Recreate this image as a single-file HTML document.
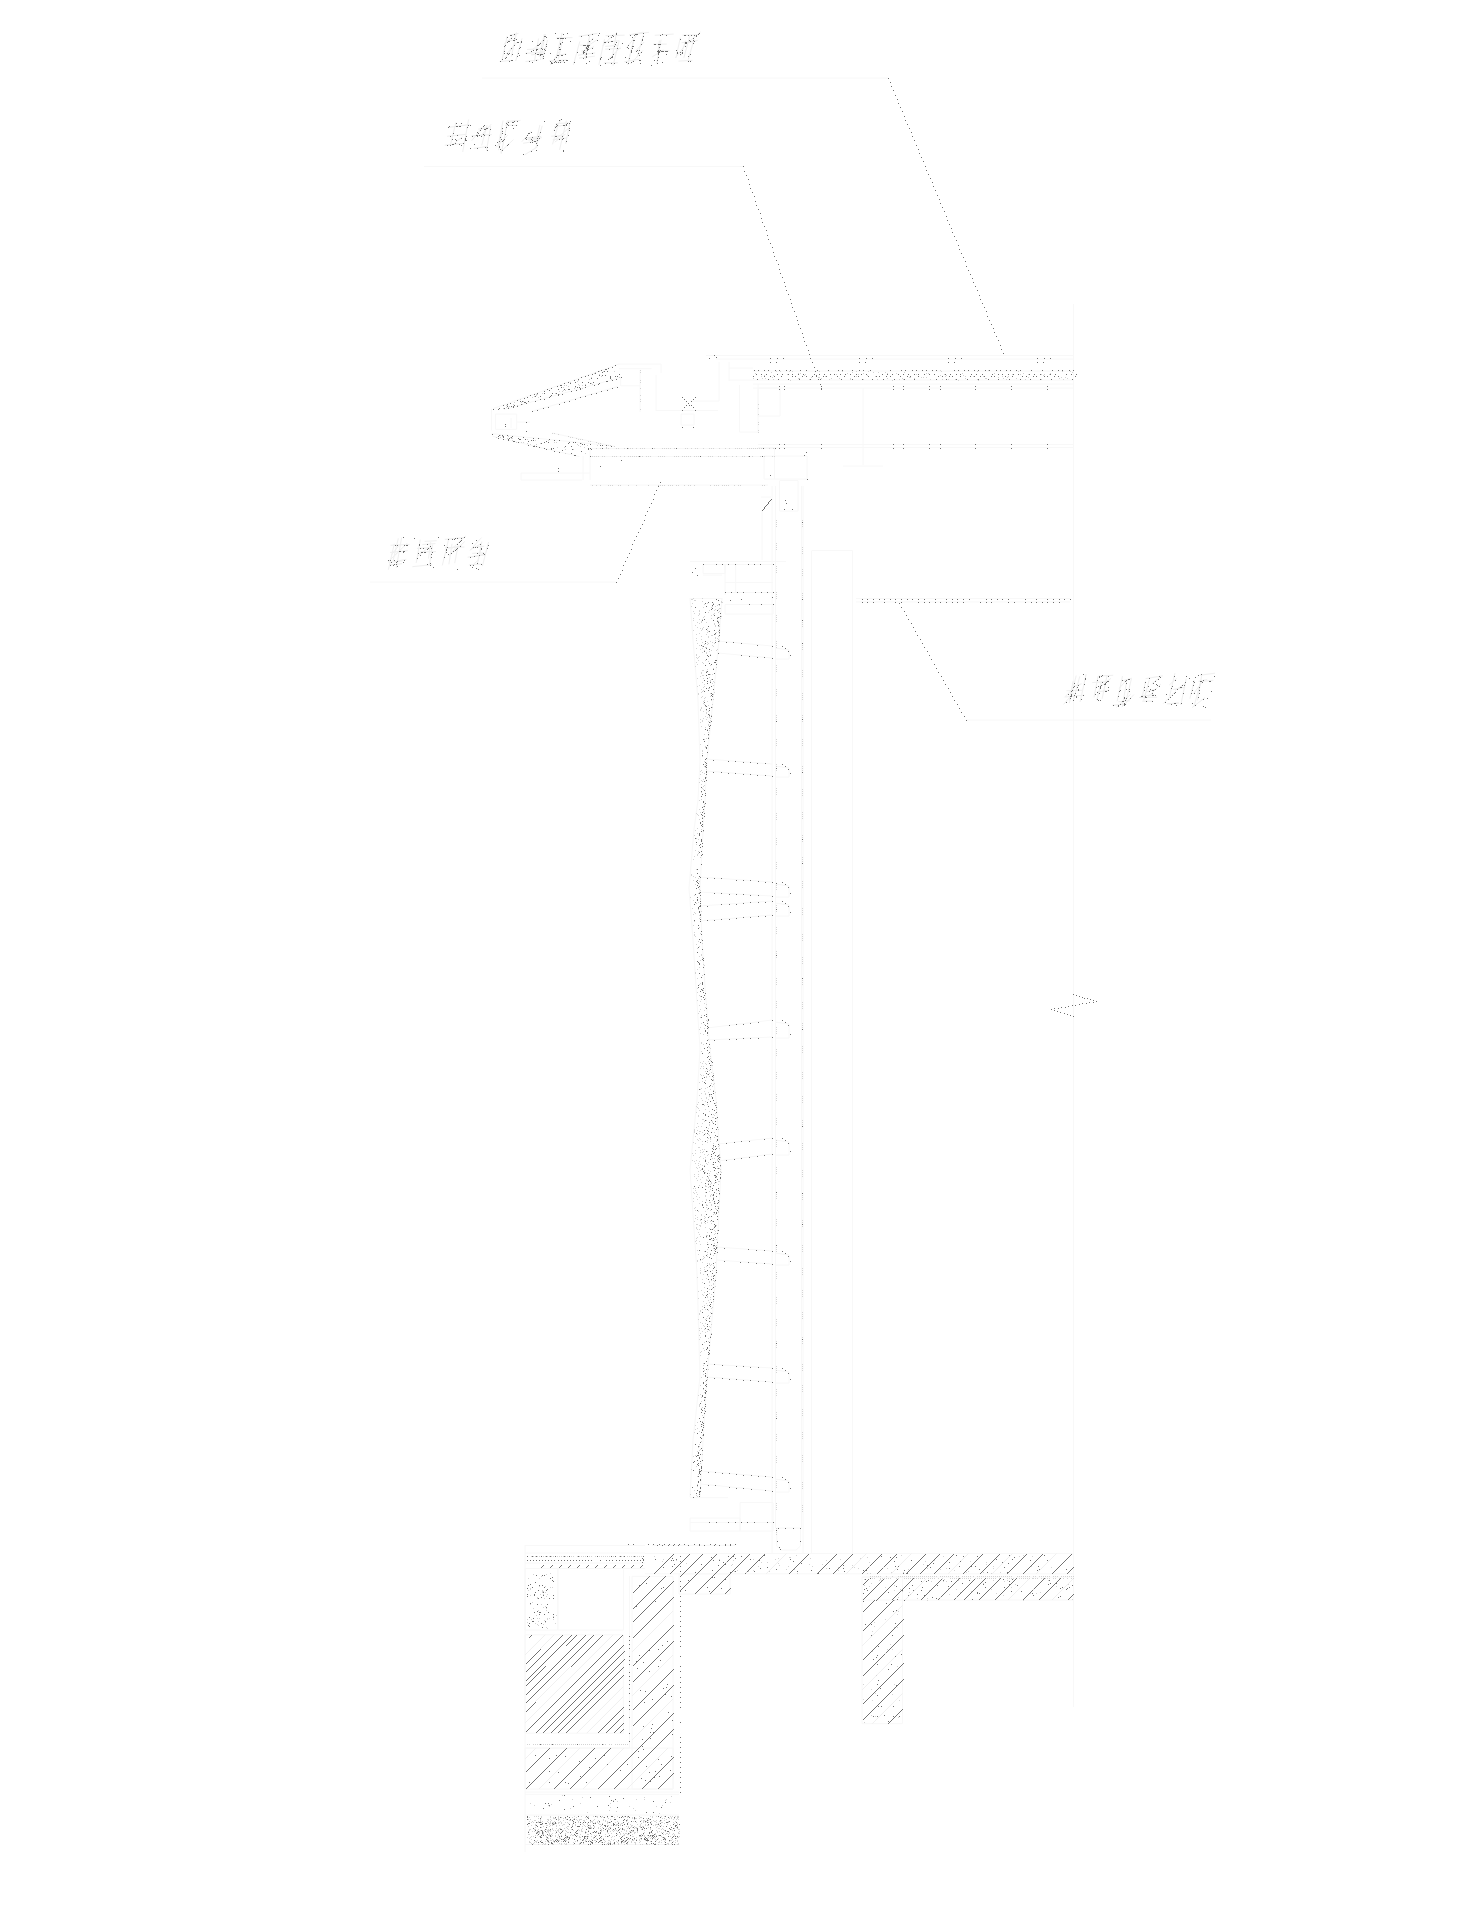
<!DOCTYPE html>
<html><head><meta charset="utf-8"><style>
html,body{margin:0;padding:0;background:#fff;width:1464px;height:1931px;overflow:hidden;font-family:"Liberation Sans",sans-serif}
svg{position:absolute;left:0;top:0;display:block}
</style></head><body>
<svg width="1464" height="1931" viewBox="0 0 1464 1931">
<rect width="1464" height="1931" fill="#fff"/>
<path d="M482 78L888 78M424 166.5L743 166.5M370 582L616 582M966 720L1211 720M1073.5 304L1073.5 1707M852.5 550.6L852.5 1553M811.6 550.6L811.6 1553M811.6 550.6L852.5 550.6M716 355.5L1073 355.5M716 359L1073 359M753 371L1073 371M753 380L1073 380M753 384L1073 384M753 388L1073 388M758 444.6L1073 444.6M758 447.5L1073 447.5M863 388L863 465M843 466L883 466M758 388L780 388M780 388L780 416M780 416L758 416M758 416L758 388M758 384L758 432M739.5 432L758 432M739.5 385L739.5 432M719 362L719 401M706 355.5L716 355.5M729 362L729 381M729 368L753 368M729 380L753 380M690 401L719 401M681 414L694 414M694 414L694 425M694 425L681 425M681 425L681 414M493 408.6L618.4 364.3M503.6 409.7L620.6 377.4M532 411.3L617.3 386.7M618 364L661 364M661 364L661 373M619 368.7L651.5 368.7M620.7 377L620.7 386M620.7 385.8L640 385.8M640 370L640 412M656 375L656 411M656 410.5L718 410.5M491.6 408.6L491.6 430.5M495.4 414L516.7 414M516.7 414L516.7 429.3M516.7 429.3L495.4 429.3M495.4 429.3L495.4 414M511 418L511 428M516.7 422L530 422M491.8 433.7L610.7 445.7M492.6 436.4L579.5 456.6M552 433L614 446.3M590 448.4L775 448.4M590 456.4L774 456.4M590 448L590 480M521 473L590 473M521 480L582 480M521 473L521 480M583 456L583 480M590 485L768 485M764 456L807 456M807 456L807 479M807 479L764 479M764 479L764 456M774.6 448L774.6 479M779.6 480.6L798 480.6M798 480.6L798 511M798 511L779.6 511M779.6 511L779.6 480.6M772 486L772 1553M803 486L803 1553M762 510L762 560M761 497L771 497M775.5 486L775.5 1528M801.5 486L801.5 1528M690 561.5L786 561.5M703 564.5L773 564.5M703 564.5L725 564.5M725 564.5L725 573.5M725 573.5L703 573.5M703 573.5L703 564.5M725 564L725 595M725 582.4L773 582.4M725 592.5L773 592.5M735.7 564L735.7 592M703 575L722 575M690 598.4L722 598.4M725 604.5L773 604.5M725 604.5L773 604.5M773 604.5L773 614M773 614L725 614M725 614L725 604.5M690 598L693 640M722 598L719 640M693 640L698 700M719 640L713 700M698 700L700 760M713 700L707 760M700 760L698 800M707 760L705 800M698 800L694 830M705 800L703 830M694 830L689 888M703 830L700 888M689 888L693 940M700 888L702 940M693 940L696 987M702 940L705 987M696 987L700 1049M705 987L710 1049M700 1049L697 1100M710 1049L716 1100M697 1100L690 1170M716 1100L721 1170M690 1170L697 1273M721 1170L716 1273M697 1273L700 1377M716 1273L707 1377M700 1377L693 1440M707 1377L703 1440M693 1440L690 1497M703 1440L700 1497M717.9 641L772 646M717.9 653L772 658M775 648L789 650M789 650L789 659M775 659L789 659M706.1 759L772 764M706.1 771L772 776M775 766L789 768M789 768L789 777M775 777L789 777M699.6 877L772 882M699.6 892L772 896M775 884L789 886M789 886L789 897M775 897L789 897M699.7 906L772 901M699.7 921L772 915M775 903L789 905M789 905L789 916M775 916L789 916M707.3 1028L772 1020M707.3 1040L772 1037M775 1022L789 1024M789 1024L789 1038M775 1038L789 1038M718.1 1144L772 1138M718.1 1161L772 1154M775 1140L789 1142M789 1142L789 1155M775 1155L789 1155M716.3 1247L772 1251M716.3 1260L772 1264M775 1253L789 1255M789 1255L789 1265M775 1265L789 1265M707.1 1364L772 1368M707.1 1377L772 1382M775 1370L789 1372M789 1372L789 1383M775 1383L789 1383M700.4 1471L772 1477M700.4 1484L772 1491M775 1479L789 1481M789 1481L789 1492M775 1492L789 1492M690 1497.7L728 1497.7M740 1502.6L773 1502.6M773 1502.6L773 1531M773 1531L740 1531M740 1531L740 1502.6M690 1522.4L773 1522.4M690 1518L740 1518M740 1518L740 1531M740 1531L690 1531M690 1531L690 1518M652 1545.3L735 1545.3M776.8 1528L800.5 1528M776.8 1528L776.8 1546M800.5 1528L800.5 1546M776.8 1546L781 1550M800.5 1546L796 1550M781 1550L796 1550M856 598.6L1070 598.6M856 601.9L1070 601.9M525 1545L525 1852M525 1545.6L645 1545.6M525 1553L645 1553M525 1563L645 1563M525 1568.4L645 1568.4M525 1568.4L557.8 1568.4M557.8 1568.4L557.8 1630M557.8 1630L525 1630M525 1630L525 1568.4M557.8 1568.4L623.6 1568.4M623.6 1568.4L623.6 1630M623.6 1630L557.8 1630M557.8 1630L557.8 1568.4M525 1634.8L623.3 1634.8M623.3 1634.8L623.3 1733.2M623.3 1733.2L525 1733.2M525 1733.2L525 1634.8M525 1748L629.5 1748M629.5 1576L629.5 1748M632 1576.3L673 1576.3M673 1576.3L673 1789M673 1789L632 1789M632 1789L632 1576.3M525 1748L673 1748M673 1748L673 1789M673 1789L525 1789M525 1789L525 1748M525 1792L679 1792M525 1794.3L679 1794.3M525 1815L679 1815M525 1844.5L679 1844.5M645 1553.5L1073.5 1553.5M645 1573.8L1073.5 1573.8M679 1573.8L730 1573.8M730 1573.8L730 1594M730 1594L679 1594M679 1594L679 1573.8M862 1577L1073.5 1577M862 1600L1073.5 1600M862 1577L902.6 1577M902.6 1577L902.6 1723.7M902.6 1723.7L862 1723.7M862 1723.7L862 1577" stroke="#f8f8f8" stroke-width="1" fill="none"/>
<path d="M509.8 35.2L518.5 33.4M499.6 61.5L512.5 60.3M506.5 41.1L516.9 39.4M522 38.4L515.7 61M516.5 32.5L511.3 56.7M507.1 36.3L502 60.5M504.5 58.4L512.6 47.9M503.7 44.5L516 34M506.1 54L517.5 41.8M527.1 49.5L546.5 48.4M531.2 54.8L543.9 53.9M525.4 53.4L545 51.8M525.6 61.5L538.6 59.9M538.6 38.5L534.4 61.4M544.4 34L539.1 56.9M545.3 34L540.3 60M547.5 40.1L542.2 59.7M531.8 50.4L545 38.6M552.5 62.4L564.3 61.7M556.6 37.9L572.4 37.6M549.3 60.8L566.9 60.1M556.7 55.3L566.2 54M562.1 32.9L556 58.5M562.6 39.2L558.4 58.7M550.3 65.1L559 51.7M578.1 55.2L595.2 52.9M581.3 51.1L589.5 49M579 58.1L594.8 56.2M578.8 36.3L597.5 33.4M579.9 45.2L590.6 45.2M590 34.5L584.9 57.2M579.8 41.5L573.4 64.8M588.8 39.6L585.3 59.7M584.9 47.8L596.9 39.9M581.6 53.2L594 46.5M585.3 49L593.1 38M605.2 46.4L618 45.4M605.7 35.6L624.5 35.2M605.3 49.1L620.9 48.5M604.1 42L619.2 40.7M603.9 62.9L617.8 62.8M604.5 39.2L598.9 64.8M616.6 32L612 58.8M619.2 40.7L613 65.7M602.6 45.9L613.7 34.4M608.3 59.4L620.5 47.3M624.3 61.8L639.8 59.1M631.9 34.6L649 32.3M629.1 34.9L643.5 32.2M633.7 39.6L627.7 64.8M633.5 41.8L628.5 61.4M643.4 35.2L637 57.4M630.4 64L642.8 50.5M626.3 47.8L637.6 34.1M635.2 51.4L644.1 42M654.8 35.3L673.6 34.1M657.1 51.2L669.4 50.7M653 44.3L666.7 44.1M661.1 39.7L656.8 63.5M659.4 40.5L657.5 54.6M652.4 56.7L663.3 50M684.1 43.2L697.7 40.4M678.5 61.1L692.4 60.4M681.7 42.6L694.1 41.5M682.4 35.2L697 35M680.3 37.8L676 57.7M689.7 36.2L683.9 57.7M685.6 40.5L680.7 56M694.1 39.2L688.3 59.5M675.3 58L684.9 45.5M687.1 43.5L700.4 32M448.3 127.4L469.5 124.6M444.8 145.2L463.9 143.3M447.1 136.3L466.2 134.3M455.8 122.6L450.3 145.7M468.6 119.5L462.7 152M452.3 145L462.5 136.7M471.5 135.8L491.8 134.5M480.4 128L489.1 127.9M478.4 129.1L486.9 128.4M473.8 148.4L487.2 146.5M490.7 126.2L486.5 150.6M487 125.3L481.7 145.3M471.7 140.7L481 129.1M480.9 135.9L491.2 124.2M505.7 122.6L520.5 120.3M505.1 125.3L517.4 125.3M506.9 121.2L518.6 120.4M503 120.5L498.3 145.3M507.6 120.6L501.2 153.8M502.5 128.6L498.6 150.1M500.1 152.3L513.4 139.6M496.2 147.3L507.5 135.3M525.4 139.1L541.9 137.7M527.5 137.7L541.2 136.5M523.2 143.3L534.9 141.3M528.2 140L539.6 139.6M539.9 124.9L535.8 143.4M542.2 125.8L535.8 147.8M524.8 154.7L537.5 146.9M521.8 141.7L531.1 131.2M555.7 123.6L569.3 122.9M552.8 139.6L566.9 138M551.3 136.2L562.2 135.7M554.2 126.7L565.9 125M558.2 124.6L552.5 144.3M569.9 123L565.7 143.7M566.4 120.7L559.5 149.9M553.7 130.3L561.5 119M554.8 142.1L565.6 134M554.2 140.5L568.5 128.4M389.5 564.9L402 563.7M390.6 545.3L409.6 544.4M388.7 562.3L402.3 560.9M390.1 552.5L407.7 550.6M394 561.8L406.2 559.3M394.3 543.7L388.4 569.7M398.3 538.4L393 560.9M401.6 537.7L396.3 568M388.5 561.4L398.8 551.4M393.6 556.7L407.1 543.2M391.5 554.8L398.9 545.5M417 548.4L432.3 547.6M420 551.9L436 551.6M424.7 541.4L436.6 540.7M422.3 544.6L435.4 543.5M412.4 566.7L432.1 564.6M430.7 542.1L428.5 558.5M420.3 539.7L416.2 562.9M432.5 544.6L429.5 564.8M418.2 555.7L429 547.1M445 547.7L464.4 547M444.9 539.4L463.9 537.6M447.9 548.3L461.8 545.8M452 543.8L448.9 564.3M458.1 545.5L454.7 563.1M448.9 538.1L442.3 565.4M452.1 548.5L465.8 536M452.9 552.6L464.8 541.5M448.9 556L456.7 546.7M468.9 564.9L481.5 564M472.1 553.4L484.2 552.8M472.1 557L485.2 554M467.7 557.2L485.5 554.8M474.9 547.1L484.2 546.2M488.6 542L482.4 566.1M481.8 541.6L477.9 561.3M481.5 546.2L477.1 564.9M470.3 549.9L482.1 543.1M470 550.3L481.4 537.7M472.3 565.4L479.1 559.3M1072.8 686.6L1081.6 683.8M1066.5 690.7L1082 690.3M1065.3 697L1084.2 695.2M1076.2 675.6L1069.3 703.2M1086.1 674.3L1080.1 702M1073.1 681.1L1069.3 700.5M1079.8 676.3L1073.3 700.5M1063.7 704.3L1073.4 693M1064.5 697.3L1074.2 687.3M1098.4 676.1L1113.1 675.3M1096.9 692L1108.5 690.3M1092.2 682.6L1108.4 681.4M1098 676.3L1094 697.4M1107.1 675.5L1102.1 698.7M1101.2 682.8L1096.8 700.1M1100.1 687L1111 678.3M1112.6 705.3L1126.3 704M1122.7 680.8L1131.6 678.2M1118.5 701.7L1129.8 700.8M1131.5 678.4L1126.1 700.9M1126.9 680L1122.4 705.9M1122.5 676.1L1117.2 701.2M1119.3 688.3L1126.8 679.7M1116.4 707.3L1130.6 694.4M1121.8 707.1L1133.9 694.6M1145.7 678.6L1162.8 675.8M1139.1 697.5L1157.1 697.2M1146 692L1155.2 689.3M1141 696L1154.6 694.7M1142.3 701.2L1152.6 701.1M1145.5 681.4L1142 698M1149.2 680.2L1143.7 700.4M1148.2 696.7L1160.8 684.2M1151.8 683.8L1160.8 676.6M1166.9 703.9L1178.8 702.8M1172.9 689.5L1185.1 687.3M1168.8 703.8L1178.8 703.3M1186.2 678.7L1180.8 705M1174.9 673.2L1169.6 696.3M1175 690.4L1185 683.6M1169.3 684.9L1176.6 678.5M1163.4 703.5L1175 691.7M1199.4 681.5L1213.3 680.3M1198.5 681.4L1207.1 679.5M1200 675.2L1215 673.2M1201.7 675.4L1197.5 700.4M1201.2 679.9L1194 706.3M1194.3 680.4L1189.9 698.7M1193.4 693.9L1203.2 680.9M1192.2 707.5L1204.9 697.7M540 1649L554.2 1634.8M535 1702L570 1667M525 1655L545.2 1634.8M525 1723L613.2 1634.8M576.8 1733.2L623.3 1686.7M586.8 1733.2L623.3 1696.7M632 1652L673 1611M632 1696L673 1655M632 1740L673 1699M525 1759L536 1748M539 1789L580 1748M583 1789L624 1748M627 1789L668 1748M766.2 1573.8L786.5 1553.5M846.2 1573.8L866.5 1553.5M891.2 1573.8L911.5 1553.5M948.2 1573.8L968.5 1553.5M992.2 1573.8L1012.5 1553.5M1036.2 1573.8L1056.5 1553.5M905 1600L926.5 1578.5M1008 1600L1029.5 1578.5M1052 1600L1073.5 1578.5M862 1646L902.6 1605.4M862 1690L902.6 1649.4M872.3 1723.7L902.6 1693.4" stroke="#f0f0f0" stroke-width="1" fill="none"/>
<path d="M540.5 1568.5L543.5 1565.5M549.5 1568.5L552.5 1565.5M558.5 1568.5L561.5 1565.5M567.5 1568.5L570.5 1565.5M576.5 1568.5L579.5 1565.5M585.5 1568.5L588.5 1565.5M594.5 1568.5L597.5 1565.5M603.5 1568.5L606.5 1565.5M612.5 1568.5L615.5 1565.5M621.5 1568.5L624.5 1565.5M630.5 1568.5L633.5 1565.5M639.5 1568.5L642.5 1565.5M525.5 1672.5L562.5 1635.5M525.5 1681.5L571.5 1635.5M525.5 1695.5L585.5 1635.5M525.5 1703.5L593.5 1635.5M525.5 1732.5L622.5 1635.5M535.5 1733.5L623.5 1645.5M542.5 1733.5L624.5 1651.5M550.5 1733.5L624.5 1659.5M557.5 1733.5L623.5 1667.5M565.5 1733.5L623.5 1675.5M597.5 1733.5L623.5 1707.5M605.5 1733.5L623.5 1715.5M613.5 1733.5L623.5 1723.5M619.5 1733.5L623.5 1729.5M525.5 1664.5L540.5 1649.5M528.5 1638.5L531.5 1635.5M565.5 1646.5L576.5 1635.5M525.5 1686.5L545.5 1666.5M570.5 1667.5L602.5 1635.5M525.5 1712.5L535.5 1702.5M632.5 1593.5L649.5 1576.5M632.5 1609.5L665.5 1576.5M632.5 1622.5L673.5 1581.5M632.5 1638.5L673.5 1597.5M632.5 1666.5L673.5 1625.5M632.5 1682.5L673.5 1641.5M632.5 1710.5L673.5 1669.5M632.5 1726.5L673.5 1685.5M638.5 1748.5L673.5 1713.5M654.5 1748.5L673.5 1729.5M525.5 1772.5L549.5 1748.5M525.5 1789.5L566.5 1748.5M553.5 1789.5L594.5 1748.5M569.5 1789.5L610.5 1748.5M597.5 1789.5L638.5 1748.5M613.5 1789.5L654.5 1748.5M641.5 1789.5L673.5 1757.5M657.5 1789.5L673.5 1773.5M539.5 1837.5L542.5 1834.5M559.5 1834.5L562.5 1831.5M553.5 1842.5L556.5 1839.5M574.5 1833.5L577.5 1830.5M619.5 1839.5L622.5 1836.5M651.5 1837.5L654.5 1834.5M563.5 1841.5L566.5 1838.5M598.5 1839.5L601.5 1836.5M616.5 1832.5L619.5 1829.5M671.5 1838.5L674.5 1835.5M620.5 1843.5L623.5 1840.5M563.5 1839.5L566.5 1836.5M581.5 1841.5L584.5 1838.5M549.5 1836.5L552.5 1833.5M654.5 1842.5L657.5 1839.5M597.5 1843.5L600.5 1840.5M651.5 1839.5L654.5 1836.5M624.5 1842.5L627.5 1839.5M592.5 1839.5L595.5 1836.5M535.5 1834.5L538.5 1831.5M630.5 1833.5L633.5 1830.5M653.5 1574.5L673.5 1554.5M669.5 1574.5L689.5 1554.5M682.5 1574.5L702.5 1554.5M696.5 1574.5L716.5 1554.5M714.5 1574.5L734.5 1554.5M729.5 1574.5L749.5 1554.5M744.5 1574.5L764.5 1554.5M788.5 1574.5L808.5 1554.5M816.5 1574.5L836.5 1554.5M832.5 1574.5L852.5 1554.5M861.5 1574.5L881.5 1554.5M876.5 1574.5L896.5 1554.5M905.5 1574.5L925.5 1554.5M919.5 1574.5L939.5 1554.5M933.5 1574.5L953.5 1554.5M962.5 1574.5L982.5 1554.5M979.5 1574.5L999.5 1554.5M1006.5 1574.5L1026.5 1554.5M1022.5 1574.5L1042.5 1554.5M1051.5 1574.5L1071.5 1554.5M1066.5 1574.5L1073.5 1567.5M679.5 1577.5L682.5 1574.5M679.5 1591.5L696.5 1574.5M694.5 1594.5L714.5 1574.5M709.5 1594.5L729.5 1574.5M724.5 1594.5L730.5 1588.5M862.5 1585.5L868.5 1579.5M862.5 1600.5L884.5 1578.5M876.5 1600.5L898.5 1578.5M891.5 1600.5L913.5 1578.5M920.5 1600.5L942.5 1578.5M937.5 1600.5L959.5 1578.5M953.5 1600.5L975.5 1578.5M963.5 1600.5L985.5 1578.5M978.5 1600.5L1000.5 1578.5M994.5 1600.5L1016.5 1578.5M1022.5 1600.5L1044.5 1578.5M1038.5 1600.5L1060.5 1578.5M1067.5 1600.5L1073.5 1594.5M862.5 1612.5L874.5 1600.5M862.5 1631.5L893.5 1600.5M862.5 1660.5L903.5 1619.5M862.5 1676.5L903.5 1635.5M862.5 1704.5L903.5 1663.5M862.5 1720.5L903.5 1679.5M887.5 1724.5L902.5 1709.5" stroke="#727272" stroke-width="1" fill="none" shape-rendering="crispEdges"/>
<path d="M802 1411h1v1h-1zM500 435h1v1h-1zM708 1138h1v1h-1zM623 1817h1v1h-1zM776 864h1v1h-1zM711 618h1v1h-1zM1041 1576h1v1h-1zM540 1819h1v1h-1zM713 1073h1v1h-1zM958 1578h1v1h-1zM869 1586h1v1h-1zM710 1184h1v1h-1zM612 1844h1v1h-1zM704 1024h1v1h-1zM604 1840h1v1h-1zM715 1262h1v1h-1zM840 1559h1v1h-1zM702 1100h1v1h-1zM709 730h1v1h-1zM701 955h1v1h-1zM700 1139h1v1h-1zM701 726h1v1h-1zM702 691h1v1h-1zM1037 1578h1v1h-1zM697 1250h1v1h-1zM863 379h1v1h-1zM772 377h1v1h-1zM539 1832h1v1h-1zM1071 1576h1v1h-1zM856 376h1v1h-1zM942 379h1v1h-1zM698 693h1v1h-1zM927 1568h1v1h-1zM572 437h1v1h-1zM642 1844h1v1h-1zM946 1581h1v1h-1zM700 1260h1v1h-1zM662 1822h1v1h-1zM704 1410h1v1h-1zM794 1569h1v1h-1zM703 627h1v1h-1zM712 1121h1v1h-1zM707 1155h1v1h-1zM703 1301h1v1h-1zM585 1840h1v1h-1zM776 1142h1v1h-1zM701 1377h1v1h-1zM713 448h1v1h-1zM543 1843h1v1h-1zM700 1152h1v1h-1zM641 1820h1v1h-1zM674 456h1v1h-1zM558 1822h1v1h-1zM620 485h1v1h-1zM699 778h1v1h-1zM577 1835h1v1h-1zM697 854h1v1h-1zM585 384h1v1h-1zM708 1092h1v1h-1zM918 1576h1v1h-1zM600 1824h1v1h-1zM836 374h1v1h-1zM611 1833h1v1h-1zM708 1128h1v1h-1zM694 1193h1v1h-1zM700 1273h1v1h-1zM706 1204h1v1h-1zM542 1590h1v1h-1zM556 442h1v1h-1zM776 1528h1v1h-1zM676 1819h1v1h-1zM635 1818h1v1h-1zM585 1817h1v1h-1zM545 1744h1v1h-1zM1049 374h1v1h-1zM787 374h1v1h-1zM573 1842h1v1h-1zM630 1824h1v1h-1zM700 1394h1v1h-1zM598 443h1v1h-1zM758 432h1v1h-1zM685 448h1v1h-1zM776 566h1v1h-1zM716 1109h1v1h-1zM802 1149h1v1h-1zM699 611h1v1h-1zM703 990h1v1h-1zM709 1070h1v1h-1zM631 1825h1v1h-1zM726 485h1v1h-1zM701 1066h1v1h-1zM575 1744h1v1h-1zM557 1839h1v1h-1zM536 1816h1v1h-1zM776 1505h1v1h-1zM776 1096h1v1h-1zM703 617h1v1h-1zM573 1819h1v1h-1zM991 1578h1v1h-1zM697 1217h1v1h-1zM626 1831h1v1h-1zM802 1270h1v1h-1zM709 1191h1v1h-1zM543 1833h1v1h-1zM699 1406h1v1h-1zM535 1829h1v1h-1zM802 861h1v1h-1zM554 1842h1v1h-1zM698 1298h1v1h-1zM607 1817h1v1h-1zM698 660h1v1h-1zM701 1223h1v1h-1zM671 1838h1v1h-1zM598 456h1v1h-1zM709 1047h1v1h-1zM713 1197h1v1h-1zM663 1834h1v1h-1zM1040 1592h1v1h-1zM802 717h1v1h-1zM653 1820h1v1h-1zM802 1391h1v1h-1zM707 628h1v1h-1zM538 1610h1v1h-1zM603 1819h1v1h-1zM1021 1578h1v1h-1zM776 844h1v1h-1zM802 982h1v1h-1zM561 1822h1v1h-1zM1059 378h1v1h-1zM802 573h1v1h-1zM699 889h1v1h-1zM869 1566h1v1h-1zM697 1194h1v1h-1zM531 1836h1v1h-1zM802 1247h1v1h-1zM702 1309h1v1h-1zM596 1816h1v1h-1zM1055 1576h1v1h-1zM628 456h1v1h-1zM700 710h1v1h-1zM659 1841h1v1h-1zM702 1165h1v1h-1zM758 422h1v1h-1zM641 1823h1v1h-1zM872 1576h1v1h-1zM694 895h1v1h-1zM588 1817h1v1h-1zM703 1389h1v1h-1zM877 379h1v1h-1zM698 902h1v1h-1zM802 1368h1v1h-1zM538 1816h1v1h-1zM802 959h1v1h-1zM675 1821h1v1h-1zM712 1065h1v1h-1zM709 651h1v1h-1zM710 1141h1v1h-1zM591 1827h1v1h-1zM658 456h1v1h-1zM703 607h1v1h-1zM561 1835h1v1h-1zM699 1131h1v1h-1zM702 648h1v1h-1zM626 1821h1v1h-1zM902 1576h1v1h-1zM663 1559h1v1h-1zM702 1407h1v1h-1zM622 1823h1v1h-1zM707 1256h1v1h-1zM529 1744h1v1h-1zM588 1830h1v1h-1zM864 1585h1v1h-1zM716 667h1v1h-1zM1032 1578h1v1h-1zM632 1836h1v1h-1zM538 1829h1v1h-1zM699 614h1v1h-1zM709 1302h1v1h-1zM557 1842h1v1h-1zM712 1307h1v1h-1zM703 1258h1v1h-1zM706 1004h1v1h-1zM909 1592h1v1h-1zM625 1833h1v1h-1zM691 875h1v1h-1zM800 373h1v1h-1zM577 444h1v1h-1zM559 1744h1v1h-1zM544 1844h1v1h-1zM659 1831h1v1h-1zM678 1844h1v1h-1zM670 1840h1v1h-1zM578 445h1v1h-1zM617 1834h1v1h-1zM568 1829h1v1h-1zM699 1229h1v1h-1zM695 850h1v1h-1zM580 1803h1v1h-1zM640 1817h1v1h-1zM894 1590h1v1h-1zM778 1558h1v1h-1zM602 1827h1v1h-1zM749 448h1v1h-1zM514 402h1v1h-1zM696 1196h1v1h-1zM579 1843h1v1h-1zM776 1076h1v1h-1zM550 1816h1v1h-1zM708 1170h1v1h-1zM710 722h1v1h-1zM589 1744h1v1h-1zM714 1250h1v1h-1zM776 667h1v1h-1zM993 1568h1v1h-1zM608 445h1v1h-1zM776 1341h1v1h-1zM698 1013h1v1h-1zM552 1825h1v1h-1zM610 1803h1v1h-1zM717 617h1v1h-1zM702 1132h1v1h-1zM802 841h1v1h-1zM852 1565h1v1h-1zM671 1818h1v1h-1zM994 373h1v1h-1zM703 718h1v1h-1zM776 788h1v1h-1zM701 1023h1v1h-1zM609 1843h1v1h-1zM674 1823h1v1h-1zM802 697h1v1h-1zM898 1717h1v1h-1zM776 1462h1v1h-1zM705 764h1v1h-1zM579 1820h1v1h-1zM776 1053h1v1h-1zM696 944h1v1h-1zM612 456h1v1h-1zM819 377h1v1h-1zM596 448h1v1h-1zM548 1832h1v1h-1zM802 553h1v1h-1zM568 386h1v1h-1zM711 1072h1v1h-1zM703 1068h1v1h-1zM572 1817h1v1h-1zM1035 1578h1v1h-1zM708 1183h1v1h-1zM704 804h1v1h-1zM872 1700h1v1h-1zM720 1157h1v1h-1zM802 818h1v1h-1zM594 1835h1v1h-1zM659 1821h1v1h-1zM802 1312h1v1h-1zM611 1744h1v1h-1zM1069 1576h1v1h-1zM708 1039h1v1h-1zM617 1824h1v1h-1zM636 1837h1v1h-1zM802 674h1v1h-1zM811 377h1v1h-1zM642 456h1v1h-1zM545 1835h1v1h-1zM586 1836h1v1h-1zM537 1831h1v1h-1zM761 376h1v1h-1zM700 1449h1v1h-1zM700 1220h1v1h-1zM571 1829h1v1h-1zM709 1125h1v1h-1zM713 1275h1v1h-1zM802 795h1v1h-1zM698 1232h1v1h-1zM558 434h1v1h-1zM618 485h1v1h-1zM696 813h1v1h-1zM699 967h1v1h-1zM810 1558h1v1h-1zM776 1416h1v1h-1zM614 371h1v1h-1zM966 1576h1v1h-1zM601 1829h1v1h-1zM708 643h1v1h-1zM963 375h1v1h-1zM710 1327h1v1h-1zM559 1832h1v1h-1zM513 404h1v1h-1zM706 719h1v1h-1zM709 1282h1v1h-1zM598 1823h1v1h-1zM715 1176h1v1h-1zM716 1141h1v1h-1zM874 1578h1v1h-1zM677 1824h1v1h-1zM871 1689h1v1h-1zM543 1744h1v1h-1zM548 1822h1v1h-1zM635 1827h1v1h-1zM713 614h1v1h-1zM698 1474h1v1h-1zM694 600h1v1h-1zM552 1828h1v1h-1zM713 699h1v1h-1zM537 1556h1v1h-1zM704 650h1v1h-1zM636 1827h1v1h-1zM609 1810h1v1h-1zM776 526h1v1h-1zM695 830h1v1h-1zM534 1816h1v1h-1zM904 1578h1v1h-1zM711 1183h1v1h-1zM694 456h1v1h-1zM719 629h1v1h-1zM699 800h1v1h-1zM578 1822h1v1h-1zM694 1130h1v1h-1zM623 1744h1v1h-1zM601 1842h1v1h-1zM707 1069h1v1h-1zM634 1839h1v1h-1zM802 520h1v1h-1zM902 378h1v1h-1zM699 656h1v1h-1zM677 1837h1v1h-1zM703 806h1v1h-1zM582 1828h1v1h-1zM623 1829h1v1h-1zM714 1230h1v1h-1zM699 1330h1v1h-1zM776 647h1v1h-1zM548 1835h1v1h-1zM802 1459h1v1h-1zM710 1196h1v1h-1zM658 1823h1v1h-1zM624 1830h1v1h-1zM802 1050h1v1h-1zM724 456h1v1h-1zM608 1822h1v1h-1zM670 485h1v1h-1zM1065 377h1v1h-1zM1019 1578h1v1h-1zM567 1826h1v1h-1zM586 1839h1v1h-1zM559 1822h1v1h-1zM619 1836h1v1h-1zM614 446h1v1h-1zM776 1033h1v1h-1zM528 1834h1v1h-1zM643 1821h1v1h-1zM595 1744h1v1h-1zM802 1436h1v1h-1zM593 1820h1v1h-1zM623 1842h1v1h-1zM776 889h1v1h-1zM802 1027h1v1h-1zM704 604h1v1h-1zM705 1094h1v1h-1zM700 899h1v1h-1zM916 374h1v1h-1zM802 1292h1v1h-1zM920 1576h1v1h-1zM776 745h1v1h-1zM517 405h1v1h-1zM802 883h1v1h-1zM700 1164h1v1h-1zM649 1836h1v1h-1zM547 1825h1v1h-1zM692 1160h1v1h-1zM566 1838h1v1h-1zM558 1834h1v1h-1zM854 1567h1v1h-1zM625 1744h1v1h-1zM570 1808h1v1h-1zM999 1576h1v1h-1zM706 1180h1v1h-1zM704 1399h1v1h-1zM802 1413h1v1h-1zM500 437h1v1h-1zM592 1832h1v1h-1zM708 1369h1v1h-1zM704 761h1v1h-1zM776 866h1v1h-1zM802 1004h1v1h-1zM1041 1578h1v1h-1zM561 1844h1v1h-1zM540 1821h1v1h-1zM958 1580h1v1h-1zM711 1294h1v1h-1zM705 1071h1v1h-1zM701 692h1v1h-1zM601 376h1v1h-1zM527 1622h1v1h-1zM679 1836h1v1h-1zM950 1576h1v1h-1zM604 1842h1v1h-1zM702 1331h1v1h-1zM596 1838h1v1h-1zM543 1832h1v1h-1zM707 1180h1v1h-1zM536 395h1v1h-1zM715 626h1v1h-1zM692 908h1v1h-1zM553 1616h1v1h-1zM847 373h1v1h-1zM632 448h1v1h-1zM701 1222h1v1h-1zM764 375h1v1h-1zM547 1838h1v1h-1zM1025 379h1v1h-1zM1071 1578h1v1h-1zM699 623h1v1h-1zM549 1618h1v1h-1zM892 380h1v1h-1zM634 1842h1v1h-1zM798 373h1v1h-1zM589 379h1v1h-1zM700 1033h1v1h-1zM704 1003h1v1h-1zM888 1578h1v1h-1zM542 1844h1v1h-1zM678 456h1v1h-1zM554 1818h1v1h-1zM702 670h1v1h-1zM802 1511h1v1h-1zM697 1229h1v1h-1zM697 1000h1v1h-1zM597 1816h1v1h-1zM733 1560h1v1h-1zM717 649h1v1h-1zM535 1841h1v1h-1zM551 1556h1v1h-1zM747 448h1v1h-1zM918 1578h1v1h-1zM1006 379h1v1h-1zM634 1819h1v1h-1zM695 666h1v1h-1zM600 1826h1v1h-1zM708 456h1v1h-1zM592 1822h1v1h-1zM709 1095h1v1h-1zM550 1825h1v1h-1zM577 381h1v1h-1zM542 1592h1v1h-1zM708 721h1v1h-1zM627 1816h1v1h-1zM695 1425h1v1h-1zM908 1569h1v1h-1zM611 379h1v1h-1zM858 1568h1v1h-1zM700 1131h1v1h-1zM573 1844h1v1h-1zM565 1840h1v1h-1zM700 722h1v1h-1zM706 653h1v1h-1zM709 1216h1v1h-1zM579 1744h1v1h-1zM697 833h1v1h-1zM702 1177h1v1h-1zM699 1431h1v1h-1zM684 485h1v1h-1zM712 1221h1v1h-1zM537 1598h1v1h-1zM590 441h1v1h-1zM776 568h1v1h-1zM710 1297h1v1h-1zM546 1832h1v1h-1zM699 613h1v1h-1zM530 1595h1v1h-1zM550 1573h1v1h-1zM656 1820h1v1h-1zM776 1507h1v1h-1zM704 1222h1v1h-1zM573 1556h1v1h-1zM633 1836h1v1h-1zM691 874h1v1h-1zM776 1098h1v1h-1zM715 1231h1v1h-1zM531 1825h1v1h-1zM550 1838h1v1h-1zM542 1834h1v1h-1zM719 1201h1v1h-1zM776 689h1v1h-1zM609 1744h1v1h-1zM838 1567h1v1h-1zM983 1576h1v1h-1zM712 704h1v1h-1zM697 1219h1v1h-1zM802 1272h1v1h-1zM626 1833h1v1h-1zM718 604h1v1h-1zM697 1484h1v1h-1zM1051 1567h1v1h-1zM553 1619h1v1h-1zM776 1219h1v1h-1zM545 1844h1v1h-1zM671 1840h1v1h-1zM934 1576h1v1h-1zM603 1556h1v1h-1zM705 1195h1v1h-1zM702 781h1v1h-1zM707 630h1v1h-1zM611 1825h1v1h-1zM530 1837h1v1h-1zM715 1208h1v1h-1zM664 1837h1v1h-1zM695 1150h1v1h-1zM802 984h1v1h-1zM713 1284h1v1h-1zM708 711h1v1h-1zM616 448h1v1h-1zM614 1836h1v1h-1zM802 575h1v1h-1zM701 672h1v1h-1zM713 646h1v1h-1zM802 1249h1v1h-1zM716 1209h1v1h-1zM1055 1578h1v1h-1zM554 1821h1v1h-1zM595 1822h1v1h-1zM964 1576h1v1h-1zM704 1091h1v1h-1zM776 1196h1v1h-1zM545 1592h1v1h-1zM1002 376h1v1h-1zM671 1817h1v1h-1zM708 1061h1v1h-1zM693 1198h1v1h-1zM758 424h1v1h-1zM568 1841h1v1h-1zM872 1578h1v1h-1zM699 1241h1v1h-1zM705 1172h1v1h-1zM607 1832h1v1h-1zM662 456h1v1h-1zM802 1370h1v1h-1zM538 1818h1v1h-1zM691 599h1v1h-1zM940 1569h1v1h-1zM802 961h1v1h-1zM581 1816h1v1h-1zM708 688h1v1h-1zM584 1821h1v1h-1zM644 1835h1v1h-1zM802 1226h1v1h-1zM695 1163h1v1h-1zM542 1824h1v1h-1zM719 1191h1v1h-1zM993 1580h1v1h-1zM699 1133h1v1h-1zM535 1556h1v1h-1zM714 624h1v1h-1zM640 409h1v1h-1zM637 1832h1v1h-1zM678 1833h1v1h-1zM702 1144h1v1h-1zM556 1615h1v1h-1zM701 770h1v1h-1zM789 1557h1v1h-1zM936 1576h1v1h-1zM537 1830h1v1h-1zM652 1817h1v1h-1zM892 1649h1v1h-1zM663 1826h1v1h-1zM705 1185h1v1h-1zM700 1219h1v1h-1zM674 1835h1v1h-1zM717 1159h1v1h-1zM540 443h1v1h-1zM712 635h1v1h-1zM826 1560h1v1h-1zM699 1110h1v1h-1zM917 1598h1v1h-1zM668 485h1v1h-1zM541 1576h1v1h-1zM707 1379h1v1h-1zM838 1570h1v1h-1zM720 1169h1v1h-1zM706 1271h1v1h-1zM697 1451h1v1h-1zM533 1608h1v1h-1zM902 1591h1v1h-1zM776 957h1v1h-1zM746 1572h1v1h-1zM693 1188h1v1h-1zM557 1556h1v1h-1zM707 1235h1v1h-1zM924 1578h1v1h-1zM711 1205h1v1h-1zM547 1628h1v1h-1zM593 1744h1v1h-1zM709 1281h1v1h-1zM921 377h1v1h-1zM776 813h1v1h-1zM731 1565h1v1h-1zM701 639h1v1h-1zM776 1078h1v1h-1zM565 449h1v1h-1zM719 1181h1v1h-1zM776 669h1v1h-1zM695 973h1v1h-1zM693 900h1v1h-1zM697 1428h1v1h-1zM697 1199h1v1h-1zM640 399h1v1h-1zM709 1173h1v1h-1zM954 1578h1v1h-1zM802 1072h1v1h-1zM701 1169h1v1h-1zM852 1567h1v1h-1zM713 1143h1v1h-1zM744 456h1v1h-1zM628 1822h1v1h-1zM690 485h1v1h-1zM997 1576h1v1h-1zM695 600h1v1h-1zM802 1337h1v1h-1zM600 448h1v1h-1zM694 1129h1v1h-1zM776 790h1v1h-1zM802 699h1v1h-1zM944 374h1v1h-1zM538 1821h1v1h-1zM776 1055h1v1h-1zM701 1290h1v1h-1zM948 1576h1v1h-1zM707 1104h1v1h-1zM540 1830h1v1h-1zM535 440h1v1h-1zM874 1626h1v1h-1zM774 456h1v1h-1zM1027 1576h1v1h-1zM776 911h1v1h-1zM695 1215h1v1h-1zM719 1194h1v1h-1zM575 1824h1v1h-1zM693 1142h1v1h-1zM624 1829h1v1h-1zM630 448h1v1h-1zM699 956h1v1h-1zM802 1314h1v1h-1zM636 1839h1v1h-1zM705 1381h1v1h-1zM802 676h1v1h-1zM883 1567h1v1h-1zM547 1618h1v1h-1zM719 641h1v1h-1zM537 1833h1v1h-1zM996 1593h1v1h-1zM802 1170h1v1h-1zM676 456h1v1h-1zM776 1297h1v1h-1zM665 1838h1v1h-1zM713 603h1v1h-1zM708 1162h1v1h-1zM529 1834h1v1h-1zM523 442h1v1h-1zM717 1247h1v1h-1zM718 1212h1v1h-1zM970 1576h1v1h-1zM658 1835h1v1h-1zM715 1286h1v1h-1zM1050 373h1v1h-1zM564 1828h1v1h-1zM624 1842h1v1h-1zM1015 1584h1v1h-1zM693 1155h1v1h-1zM1007 1580h1v1h-1zM703 1348h1v1h-1zM534 1805h1v1h-1zM553 1818h1v1h-1zM566 1837h1v1h-1zM1049 1576h1v1h-1zM966 1578h1v1h-1zM701 1015h1v1h-1zM650 1836h1v1h-1zM601 1831h1v1h-1zM698 1126h1v1h-1zM709 610h1v1h-1zM776 371h1v1h-1zM632 1818h1v1h-1zM673 1819h1v1h-1zM776 1274h1v1h-1zM697 1130h1v1h-1zM590 1821h1v1h-1zM677 1826h1v1h-1zM719 1148h1v1h-1zM540 1820h1v1h-1zM698 1211h1v1h-1zM821 378h1v1h-1zM908 1578h1v1h-1zM536 394h1v1h-1zM715 625h1v1h-1zM699 946h1v1h-1zM710 1221h1v1h-1zM776 1395h1v1h-1zM588 441h1v1h-1zM703 1325h1v1h-1zM659 1813h1v1h-1zM701 1401h1v1h-1zM617 1816h1v1h-1zM696 648h1v1h-1zM702 957h1v1h-1zM539 1833h1v1h-1zM570 1820h1v1h-1zM698 694h1v1h-1zM571 1556h1v1h-1zM773 379h1v1h-1zM705 1227h1v1h-1zM938 1578h1v1h-1zM985 378h1v1h-1zM705 998h1v1h-1zM696 1178h1v1h-1zM981 1576h1v1h-1zM704 773h1v1h-1zM635 1842h1v1h-1zM712 1122h1v1h-1zM693 880h1v1h-1zM991 1589h1v1h-1zM704 1267h1v1h-1zM585 1841h1v1h-1zM698 815h1v1h-1zM977 379h1v1h-1zM559 391h1v1h-1zM802 1052h1v1h-1zM695 1218h1v1h-1zM555 1818h1v1h-1zM715 638h1v1h-1zM601 1556h1v1h-1zM566 1827h1v1h-1zM520 399h1v1h-1zM558 1823h1v1h-1zM703 1158h1v1h-1zM719 608h1v1h-1zM928 373h1v1h-1zM968 1578h1v1h-1zM697 855h1v1h-1zM776 770h1v1h-1zM802 908h1v1h-1zM878 372h1v1h-1zM1011 1576h1v1h-1zM567 1828h1v1h-1zM700 1009h1v1h-1zM551 1820h1v1h-1zM527 443h1v1h-1zM538 1621h1v1h-1zM677 1816h1v1h-1zM710 681h1v1h-1zM706 1205h1v1h-1zM542 1591h1v1h-1zM554 433h1v1h-1zM802 1438h1v1h-1zM776 1120h1v1h-1zM715 1253h1v1h-1zM701 1126h1v1h-1zM700 1310h1v1h-1zM702 682h1v1h-1zM565 1839h1v1h-1zM1003 1576h1v1h-1zM734 485h1v1h-1zM802 1294h1v1h-1zM920 1578h1v1h-1zM802 885h1v1h-1zM696 638h1v1h-1zM641 1834h1v1h-1zM708 612h1v1h-1zM566 1840h1v1h-1zM714 692h1v1h-1zM710 1067h1v1h-1zM696 903h1v1h-1zM631 1826h1v1h-1zM999 1578h1v1h-1zM623 1556h1v1h-1zM705 1217h1v1h-1zM802 741h1v1h-1zM673 1822h1v1h-1zM718 1156h1v1h-1zM802 1415h1v1h-1zM574 388h1v1h-1zM776 868h1v1h-1zM802 1006h1v1h-1zM1033 1576h1v1h-1zM764 485h1v1h-1zM635 1832h1v1h-1zM960 1592h1v1h-1zM1072 372h1v1h-1zM713 1077h1v1h-1zM627 1828h1v1h-1zM950 1578h1v1h-1zM636 448h1v1h-1zM704 1257h1v1h-1zM585 1831h1v1h-1zM713 668h1v1h-1zM543 1834h1v1h-1zM706 1303h1v1h-1zM709 1228h1v1h-1zM718 639h1v1h-1zM650 1816h1v1h-1zM661 1825h1v1h-1zM539 1836h1v1h-1zM580 1837h1v1h-1zM562 391h1v1h-1zM704 1149h1v1h-1zM717 1168h1v1h-1zM1063 1576h1v1h-1zM702 1454h1v1h-1zM603 1820h1v1h-1zM892 1694h1v1h-1zM666 448h1v1h-1zM582 1797h1v1h-1zM528 1826h1v1h-1zM646 1818h1v1h-1zM711 635h1v1h-1zM702 1081h1v1h-1zM713 1090h1v1h-1zM701 707h1v1h-1zM696 1495h1v1h-1zM775 1559h1v1h-1zM713 681h1v1h-1zM618 1841h1v1h-1zM922 1578h1v1h-1zM901 1555h1v1h-1zM657 1832h1v1h-1zM700 1385h1v1h-1zM700 1156h1v1h-1zM697 1496h1v1h-1zM699 1011h1v1h-1zM699 782h1v1h-1zM694 932h1v1h-1zM600 1828h1v1h-1zM718 1146h1v1h-1zM707 642h1v1h-1zM611 1837h1v1h-1zM584 1820h1v1h-1zM606 447h1v1h-1zM709 1326h1v1h-1zM511 438h1v1h-1zM585 1556h1v1h-1zM692 599h1v1h-1zM701 1093h1v1h-1zM952 1578h1v1h-1zM709 688h1v1h-1zM971 1591h1v1h-1zM705 1063h1v1h-1zM606 1844h1v1h-1zM742 456h1v1h-1zM696 1243h1v1h-1zM688 485h1v1h-1zM714 623h1v1h-1zM702 1323h1v1h-1zM537 1744h1v1h-1zM637 1831h1v1h-1zM538 397h1v1h-1zM535 1820h1v1h-1zM706 1064h1v1h-1zM701 1214h1v1h-1zM1041 379h1v1h-1zM776 570h1v1h-1zM582 439h1v1h-1zM710 1299h1v1h-1zM708 1338h1v1h-1zM694 1174h1v1h-1zM772 456h1v1h-1zM656 1822h1v1h-1zM718 485h1v1h-1zM776 1509h1v1h-1zM776 1100h1v1h-1zM715 1233h1v1h-1zM550 1840h1v1h-1zM591 1841h1v1h-1zM776 691h1v1h-1zM701 697h1v1h-1zM702 662h1v1h-1zM910 1594h1v1h-1zM607 1556h1v1h-1zM610 1827h1v1h-1zM757 448h1v1h-1zM712 1200h1v1h-1zM1032 1556h1v1h-1zM697 1486h1v1h-1zM776 547h1v1h-1zM607 1821h1v1h-1zM797 1573h1v1h-1zM1017 1576h1v1h-1zM776 1221h1v1h-1zM698 893h1v1h-1zM696 1112h1v1h-1zM702 1421h1v1h-1zM899 1700h1v1h-1zM802 721h1v1h-1zM521 442h1v1h-1zM664 1839h1v1h-1zM550 1817h1v1h-1zM873 372h1v1h-1zM656 1835h1v1h-1zM1013 1578h1v1h-1zM637 1556h1v1h-1zM894 1627h1v1h-1zM898 1597h1v1h-1zM711 1096h1v1h-1zM712 683h1v1h-1zM707 717h1v1h-1zM802 1251h1v1h-1zM714 613h1v1h-1zM715 1246h1v1h-1zM645 1825h1v1h-1zM740 485h1v1h-1zM776 933h1v1h-1zM732 1564h1v1h-1zM1047 1576h1v1h-1zM700 1352h1v1h-1zM701 939h1v1h-1zM710 1253h1v1h-1zM620 456h1v1h-1zM776 1198h1v1h-1zM704 684h1v1h-1zM542 393h1v1h-1zM709 1293h1v1h-1zM664 1816h1v1h-1zM802 963h1v1h-1zM700 1244h1v1h-1zM906 1578h1v1h-1zM698 1171h1v1h-1zM776 1319h1v1h-1zM599 374h1v1h-1zM596 485h1v1h-1zM702 652h1v1h-1zM552 1839h1v1h-1zM706 622h1v1h-1zM711 700h1v1h-1zM697 1476h1v1h-1zM553 1840h1v1h-1zM776 1440h1v1h-1zM896 373h1v1h-1zM592 456h1v1h-1zM549 1806h1v1h-1zM726 456h1v1h-1zM802 940h1v1h-1zM697 658h1v1h-1zM695 877h1v1h-1zM621 1831h1v1h-1zM640 1844h1v1h-1zM804 375h1v1h-1zM705 1007h1v1h-1zM632 1840h1v1h-1zM700 812h1v1h-1zM708 1341h1v1h-1zM530 1829h1v1h-1zM948 1588h1v1h-1zM549 1842h1v1h-1zM590 1843h1v1h-1zM585 453h1v1h-1zM702 629h1v1h-1zM533 1574h1v1h-1zM552 1587h1v1h-1zM640 388h1v1h-1zM583 1840h1v1h-1zM556 1823h1v1h-1zM702 1123h1v1h-1zM720 1171h1v1h-1zM926 373h1v1h-1zM711 448h1v1h-1zM543 1624h1v1h-1zM693 925h1v1h-1zM648 1820h1v1h-1zM700 933h1v1h-1zM553 1817h1v1h-1zM551 1744h1v1h-1zM715 1092h1v1h-1zM708 1053h1v1h-1zM702 750h1v1h-1zM662 448h1v1h-1zM632 1817h1v1h-1zM702 1424h1v1h-1zM720 618h1v1h-1zM776 815h1v1h-1zM700 1463h1v1h-1zM712 1288h1v1h-1zM591 1556h1v1h-1zM613 1840h1v1h-1zM554 442h1v1h-1zM741 448h1v1h-1zM591 1821h1v1h-1zM707 1358h1v1h-1zM776 671h1v1h-1zM594 1826h1v1h-1zM648 485h1v1h-1zM1004 1581h1v1h-1zM647 1838h1v1h-1zM552 1829h1v1h-1zM640 401h1v1h-1zM709 1175h1v1h-1zM610 1807h1v1h-1zM605 1841h1v1h-1zM802 1074h1v1h-1zM700 1355h1v1h-1zM940 370h1v1h-1zM636 1828h1v1h-1zM587 1823h1v1h-1zM769 1571h1v1h-1zM553 1830h1v1h-1zM698 1102h1v1h-1zM621 1556h1v1h-1zM537 1822h1v1h-1zM694 1131h1v1h-1zM776 792h1v1h-1zM573 1744h1v1h-1zM632 1830h1v1h-1zM530 1819h1v1h-1zM802 1195h1v1h-1zM604 456h1v1h-1zM986 378h1v1h-1zM627 1837h1v1h-1zM702 619h1v1h-1zM708 1187h1v1h-1zM1027 1578h1v1h-1zM1028 374h1v1h-1zM703 663h1v1h-1zM715 637h1v1h-1zM659 1825h1v1h-1zM802 1316h1v1h-1zM651 1821h1v1h-1zM603 1744h1v1h-1zM1061 1576h1v1h-1zM664 448h1v1h-1zM620 1833h1v1h-1zM698 1115h1v1h-1zM634 456h1v1h-1zM720 608h1v1h-1zM706 710h1v1h-1zM710 1089h1v1h-1zM802 1172h1v1h-1zM710 680h1v1h-1zM643 1822h1v1h-1zM633 1808h1v1h-1zM776 1299h1v1h-1zM665 1840h1v1h-1zM579 1837h1v1h-1zM928 1576h1v1h-1zM704 785h1v1h-1zM578 380h1v1h-1zM543 1591h1v1h-1zM710 1210h1v1h-1zM970 1578h1v1h-1zM954 1570h1v1h-1zM556 1826h1v1h-1zM624 1844h1v1h-1zM610 485h1v1h-1zM780 371h1v1h-1zM608 1836h1v1h-1zM636 1818h1v1h-1zM694 856h1v1h-1zM535 1623h1v1h-1zM555 1830h1v1h-1zM1019 1556h1v1h-1zM870 1576h1v1h-1zM558 1835h1v1h-1zM1049 1578h1v1h-1zM867 375h1v1h-1zM650 1838h1v1h-1zM1031 1566h1v1h-1zM695 448h1v1h-1zM776 1276h1v1h-1zM696 1167h1v1h-1zM598 1827h1v1h-1zM719 1559h1v1h-1zM677 1828h1v1h-1zM710 693h1v1h-1zM535 1744h1v1h-1zM708 732h1v1h-1zM710 1187h1v1h-1zM697 988h1v1h-1zM695 1207h1v1h-1zM900 1576h1v1h-1zM700 1322h1v1h-1zM704 1292h1v1h-1zM672 1834h1v1h-1zM580 439h1v1h-1zM725 448h1v1h-1zM628 1827h1v1h-1zM527 1744h1v1h-1zM594 373h1v1h-1zM719 633h1v1h-1zM654 1556h1v1h-1zM686 456h1v1h-1zM709 1263h1v1h-1zM704 739h1v1h-1zM776 615h1v1h-1zM654 1821h1v1h-1zM802 524h1v1h-1zM930 1576h1v1h-1zM708 1154h1v1h-1zM981 1578h1v1h-1zM623 1833h1v1h-1zM605 1556h1v1h-1zM615 1829h1v1h-1zM802 789h1v1h-1zM635 1844h1v1h-1zM711 1308h1v1h-1zM532 1831h1v1h-1zM755 448h1v1h-1zM700 890h1v1h-1zM704 1269h1v1h-1zM605 1821h1v1h-1zM624 1834h1v1h-1zM597 1817h1v1h-1zM557 1744h1v1h-1zM616 1830h1v1h-1zM657 1831h1v1h-1zM900 1589h1v1h-1zM715 640h1v1h-1zM802 645h1v1h-1zM710 1056h1v1h-1zM776 1001h1v1h-1zM702 1201h1v1h-1zM802 910h1v1h-1zM650 1828h1v1h-1zM669 1841h1v1h-1zM776 592h1v1h-1zM1011 1578h1v1h-1zM697 448h1v1h-1zM710 1321h1v1h-1zM635 1556h1v1h-1zM570 1835h1v1h-1zM546 1627h1v1h-1zM962 373h1v1h-1zM677 1818h1v1h-1zM536 1842h1v1h-1zM709 1096h1v1h-1zM802 766h1v1h-1zM706 1207h1v1h-1zM693 859h1v1h-1zM587 1744h1v1h-1zM711 1285h1v1h-1zM627 1817h1v1h-1zM718 1181h1v1h-1zM776 1122h1v1h-1zM512 438h1v1h-1zM697 978h1v1h-1zM543 1594h1v1h-1zM699 1167h1v1h-1zM802 622h1v1h-1zM809 1564h1v1h-1zM863 1684h1v1h-1zM802 1296h1v1h-1zM776 978h1v1h-1zM696 869h1v1h-1zM630 1827h1v1h-1zM912 1576h1v1h-1zM802 887h1v1h-1zM555 1833h1v1h-1zM669 1818h1v1h-1zM641 1836h1v1h-1zM607 1843h1v1h-1zM958 380h1v1h-1zM650 1841h1v1h-1zM709 1073h1v1h-1zM634 1833h1v1h-1zM802 743h1v1h-1zM802 1008h1v1h-1zM1033 1578h1v1h-1zM708 735h1v1h-1zM713 1079h1v1h-1zM532 1821h1v1h-1zM573 1822h1v1h-1zM699 915h1v1h-1zM593 1837h1v1h-1zM587 445h1v1h-1zM565 1818h1v1h-1zM585 1833h1v1h-1zM942 1576h1v1h-1zM977 371h1v1h-1zM629 1839h1v1h-1zM1067 1576h1v1h-1zM706 1076h1v1h-1zM566 1819h1v1h-1zM640 456h1v1h-1zM694 921h1v1h-1zM705 1196h1v1h-1zM580 1839h1v1h-1zM700 1001h1v1h-1zM776 1485h1v1h-1zM1063 1578h1v1h-1zM707 1305h1v1h-1zM550 1587h1v1h-1zM523 401h1v1h-1zM839 378h1v1h-1zM667 1843h1v1h-1zM709 677h1v1h-1zM717 1206h1v1h-1zM709 448h1v1h-1zM701 673h1v1h-1zM700 857h1v1h-1zM699 892h1v1h-1zM700 628h1v1h-1zM531 1839h1v1h-1zM645 1824h1v1h-1zM668 1844h1v1h-1zM699 1157h1v1h-1zM705 1088h1v1h-1zM573 1835h1v1h-1zM1044 374h1v1h-1zM618 1843h1v1h-1zM914 1576h1v1h-1zM706 1318h1v1h-1zM547 1819h1v1h-1zM716 1102h1v1h-1zM739 448h1v1h-1zM694 934h1v1h-1zM541 1744h1v1h-1zM676 1560h1v1h-1zM611 1839h1v1h-1zM644 1836h1v1h-1zM668 1821h1v1h-1zM944 1576h1v1h-1zM707 729h1v1h-1zM695 1429h1v1h-1zM988 370h1v1h-1zM543 1826h1v1h-1zM698 1291h1v1h-1zM769 448h1v1h-1zM710 1265h1v1h-1zM704 1105h1v1h-1zM545 1606h1v1h-1zM571 1744h1v1h-1zM718 631h1v1h-1zM641 1839h1v1h-1zM776 572h1v1h-1zM705 1186h1v1h-1zM702 772h1v1h-1zM704 1370h1v1h-1zM698 1147h1v1h-1zM711 1229h1v1h-1zM717 1160h1v1h-1zM546 1836h1v1h-1zM983 376h1v1h-1zM538 1832h1v1h-1zM709 1076h1v1h-1zM694 1176h1v1h-1zM656 1824h1v1h-1zM581 1830h1v1h-1zM667 1833h1v1h-1zM702 628h1v1h-1zM633 1840h1v1h-1zM565 1556h1v1h-1zM761 448h1v1h-1zM629 1806h1v1h-1zM707 1151h1v1h-1zM776 693h1v1h-1zM699 1147h1v1h-1zM802 1505h1v1h-1zM706 634h1v1h-1zM802 1096h1v1h-1zM697 814h1v1h-1zM568 1832h1v1h-1zM714 1132h1v1h-1zM776 549h1v1h-1zM701 784h1v1h-1zM607 1823h1v1h-1zM776 1223h1v1h-1zM580 1842h1v1h-1zM621 1843h1v1h-1zM716 1177h1v1h-1zM702 1279h1v1h-1zM550 1819h1v1h-1zM624 456h1v1h-1zM700 1089h1v1h-1zM706 1020h1v1h-1zM608 448h1v1h-1zM802 1482h1v1h-1zM1047 1578h1v1h-1zM717 620h1v1h-1zM864 1722h1v1h-1zM610 1842h1v1h-1zM718 621h1v1h-1zM704 686h1v1h-1zM707 1249h1v1h-1zM580 1819h1v1h-1zM705 767h1v1h-1zM600 485h1v1h-1zM538 1822h1v1h-1zM530 1589h1v1h-1zM664 1818h1v1h-1zM713 1265h1v1h-1zM898 1576h1v1h-1zM614 1817h1v1h-1zM704 1216h1v1h-1zM776 1321h1v1h-1zM534 396h1v1h-1zM716 1190h1v1h-1zM697 948h1v1h-1zM713 1301h1v1h-1zM714 1266h1v1h-1zM575 1825h1v1h-1zM944 1579h1v1h-1zM503 408h1v1h-1zM693 914h1v1h-1zM694 613h1v1h-1zM610 1819h1v1h-1zM678 1837h1v1h-1zM1062 371h1v1h-1zM684 456h1v1h-1zM591 377h1v1h-1zM891 1572h1v1h-1zM534 1829h1v1h-1zM555 1623h1v1h-1zM547 1619h1v1h-1zM701 630h1v1h-1zM579 1836h1v1h-1zM712 1313h1v1h-1zM886 1578h1v1h-1zM714 1243h1v1h-1zM871 1715h1v1h-1zM555 1744h1v1h-1zM614 1830h1v1h-1zM802 569h1v1h-1zM660 485h1v1h-1zM556 1825h1v1h-1zM711 679h1v1h-1zM703 675h1v1h-1zM587 1812h1v1h-1zM582 385h1v1h-1zM703 711h1v1h-1zM549 1556h1v1h-1zM716 650h1v1h-1zM534 1842h1v1h-1zM1011 1587h1v1h-1zM916 1578h1v1h-1zM704 1170h1v1h-1zM709 1285h1v1h-1zM585 1744h1v1h-1zM590 1822h1v1h-1zM713 1255h1v1h-1zM643 1834h1v1h-1zM711 1065h1v1h-1zM802 1220h1v1h-1zM565 453h1v1h-1zM703 1061h1v1h-1zM702 1282h1v1h-1zM914 378h1v1h-1zM955 379h1v1h-1zM541 1822h1v1h-1zM998 377h1v1h-1zM639 1836h1v1h-1zM698 839h1v1h-1zM776 1167h1v1h-1zM802 1076h1v1h-1zM713 1147h1v1h-1zM628 1826h1v1h-1zM736 456h1v1h-1zM989 1576h1v1h-1zM802 1341h1v1h-1zM532 397h1v1h-1zM776 794h1v1h-1zM621 1823h1v1h-1zM673 1833h1v1h-1zM802 1197h1v1h-1zM702 1259h1v1h-1zM677 1840h1v1h-1zM563 1818h1v1h-1zM582 1831h1v1h-1zM719 1162h1v1h-1zM548 1838h1v1h-1zM635 1843h1v1h-1zM655 1821h1v1h-1zM697 1180h1v1h-1zM640 380h1v1h-1zM776 1144h1v1h-1zM605 1820h1v1h-1zM638 456h1v1h-1zM608 1825h1v1h-1zM802 1318h1v1h-1zM651 1823h1v1h-1zM842 371h1v1h-1zM696 662h1v1h-1zM697 627h1v1h-1zM699 1225h1v1h-1zM932 1576h1v1h-1zM661 1836h1v1h-1zM708 636h1v1h-1zM539 1618h1v1h-1zM559 1825h1v1h-1zM705 747h1v1h-1zM706 712h1v1h-1zM875 1716h1v1h-1zM712 606h1v1h-1zM802 1174h1v1h-1zM753 378h1v1h-1zM703 786h1v1h-1zM536 1841h1v1h-1zM887 378h1v1h-1zM602 1823h1v1h-1zM677 1817h1v1h-1zM662 1837h1v1h-1zM702 598h1v1h-1zM776 1301h1v1h-1zM696 1192h1v1h-1zM612 1836h1v1h-1zM531 1619h1v1h-1zM529 1838h1v1h-1zM700 1311h1v1h-1zM655 1834h1v1h-1zM697 1422h1v1h-1zM639 1826h1v1h-1zM962 1576h1v1h-1zM678 1817h1v1h-1zM703 678h1v1h-1zM589 1825h1v1h-1zM705 1133h1v1h-1zM582 388h1v1h-1zM706 1098h1v1h-1zM586 1819h1v1h-1zM875 1693h1v1h-1zM698 456h1v1h-1zM644 448h1v1h-1zM634 1832h1v1h-1zM559 1838h1v1h-1zM776 1278h1v1h-1zM551 1834h1v1h-1zM697 1134h1v1h-1zM590 1825h1v1h-1zM566 385h1v1h-1zM694 1208h1v1h-1zM818 377h1v1h-1zM710 1189h1v1h-1zM533 1556h1v1h-1zM699 685h1v1h-1zM753 1559h1v1h-1zM894 1684h1v1h-1zM776 905h1v1h-1zM713 1114h1v1h-1zM694 835h1v1h-1zM690 456h1v1h-1zM636 485h1v1h-1zM702 696h1v1h-1zM674 448h1v1h-1zM619 1744h1v1h-1zM1023 373h1v1h-1zM699 1444h1v1h-1zM547 1841h1v1h-1zM620 1825h1v1h-1zM586 1832h1v1h-1zM700 771h1v1h-1zM584 447h1v1h-1zM712 1270h1v1h-1zM759 448h1v1h-1zM563 1556h1v1h-1zM776 617h1v1h-1zM635 1810h1v1h-1zM702 817h1v1h-1zM548 1805h1v1h-1zM802 526h1v1h-1zM930 1578h1v1h-1zM720 456h1v1h-1zM694 1221h1v1h-1zM623 1835h1v1h-1zM973 1576h1v1h-1zM1061 377h1v1h-1zM562 1825h1v1h-1zM897 1666h1v1h-1zM668 1843h1v1h-1zM715 606h1v1h-1zM701 708h1v1h-1zM699 927h1v1h-1zM710 1202h1v1h-1zM718 1206h1v1h-1zM704 1271h1v1h-1zM565 1830h1v1h-1zM639 1816h1v1h-1zM716 1245h1v1h-1zM786 1569h1v1h-1zM608 1828h1v1h-1zM802 647h1v1h-1zM692 1153h1v1h-1zM776 1412h1v1h-1zM566 1831h1v1h-1zM710 1058h1v1h-1zM776 1003h1v1h-1zM537 1624h1v1h-1zM591 1744h1v1h-1zM802 912h1v1h-1zM713 1212h1v1h-1zM642 1826h1v1h-1zM776 594h1v1h-1zM701 829h1v1h-1zM704 1392h1v1h-1zM559 1828h1v1h-1zM606 448h1v1h-1zM538 1625h1v1h-1zM703 789h1v1h-1zM714 1213h1v1h-1zM699 1313h1v1h-1zM802 768h1v1h-1zM708 724h1v1h-1zM627 1819h1v1h-1zM679 1829h1v1h-1zM776 1124h1v1h-1zM512 440h1v1h-1zM776 715h1v1h-1zM802 624h1v1h-1zM621 1744h1v1h-1zM776 1389h1v1h-1zM995 1576h1v1h-1zM776 980h1v1h-1zM715 1113h1v1h-1zM701 1215h1v1h-1zM557 447h1v1h-1zM555 1835h1v1h-1zM547 1831h1v1h-1zM661 1816h1v1h-1zM496 437h1v1h-1zM558 1840h1v1h-1zM856 371h1v1h-1zM946 1576h1v1h-1zM802 745h1v1h-1zM706 1186h1v1h-1zM581 1829h1v1h-1zM711 1264h1v1h-1zM790 1557h1v1h-1zM699 881h1v1h-1zM706 777h1v1h-1zM698 1447h1v1h-1zM1025 1576h1v1h-1zM708 737h1v1h-1zM576 438h1v1h-1zM776 1366h1v1h-1zM628 448h1v1h-1zM712 707h1v1h-1zM608 1818h1v1h-1zM649 1819h1v1h-1zM1067 1578h1v1h-1zM758 414h1v1h-1zM607 1822h1v1h-1zM558 1817h1v1h-1zM672 1839h1v1h-1zM710 1048h1v1h-1zM671 1843h1v1h-1zM661 1829h1v1h-1zM706 1163h1v1h-1zM653 1825h1v1h-1zM884 1578h1v1h-1zM776 1487h1v1h-1zM538 1844h1v1h-1zM709 1317h1v1h-1zM695 1153h1v1h-1zM700 1268h1v1h-1zM706 1199h1v1h-1zM614 1839h1v1h-1zM965 376h1v1h-1zM593 1816h1v1h-1zM705 1319h1v1h-1zM554 1824h1v1h-1zM715 609h1v1h-1zM565 1833h1v1h-1zM547 1556h1v1h-1zM713 685h1v1h-1zM672 1816h1v1h-1zM708 1244h1v1h-1zM610 1841h1v1h-1zM914 1578h1v1h-1zM715 1103h1v1h-1zM693 1201h1v1h-1zM547 1821h1v1h-1zM546 1825h1v1h-1zM702 1435h1v1h-1zM546 1596h1v1h-1zM549 1830h1v1h-1zM530 1588h1v1h-1zM812 1566h1v1h-1zM705 1211h1v1h-1zM581 1819h1v1h-1zM709 1330h1v1h-1zM692 603h1v1h-1zM550 1831h1v1h-1zM773 448h1v1h-1zM676 1827h1v1h-1zM707 1140h1v1h-1zM898 1611h1v1h-1zM991 1573h1v1h-1zM704 1251h1v1h-1zM626 1826h1v1h-1zM716 1225h1v1h-1zM618 1822h1v1h-1zM709 1186h1v1h-1zM629 1831h1v1h-1zM696 838h1v1h-1zM701 1182h1v1h-1zM705 1332h1v1h-1zM535 1824h1v1h-1zM758 404h1v1h-1zM946 375h1v1h-1zM587 1834h1v1h-1zM553 1841h1v1h-1zM704 698h1v1h-1zM899 379h1v1h-1zM663 1829h1v1h-1zM565 390h1v1h-1zM719 448h1v1h-1zM699 619h1v1h-1zM605 1744h1v1h-1zM664 1830h1v1h-1zM695 1143h1v1h-1zM764 456h1v1h-1zM561 1817h1v1h-1zM710 485h1v1h-1zM979 1576h1v1h-1zM850 379h1v1h-1zM696 1224h1v1h-1zM712 674h1v1h-1zM776 695h1v1h-1zM705 1309h1v1h-1zM802 1507h1v1h-1zM975 1578h1v1h-1zM703 1119h1v1h-1zM1063 379h1v1h-1zM599 1556h1v1h-1zM544 1620h1v1h-1zM610 1831h1v1h-1zM802 1098h1v1h-1zM699 1234h1v1h-1zM607 1825h1v1h-1zM702 751h1v1h-1zM699 1005h1v1h-1zM776 1225h1v1h-1zM1009 1576h1v1h-1zM652 1833h1v1h-1zM693 1456h1v1h-1zM701 1051h1v1h-1zM778 1563h1v1h-1zM675 1816h1v1h-1zM510 437h1v1h-1zM715 1214h1v1h-1zM552 433h1v1h-1zM550 1821h1v1h-1zM703 831h1v1h-1zM691 448h1v1h-1zM562 1795h1v1h-1zM629 1556h1v1h-1zM594 1827h1v1h-1zM527 1837h1v1h-1zM655 1843h1v1h-1zM696 1466h1v1h-1zM802 1484h1v1h-1zM690 897h1v1h-1zM695 1241h1v1h-1zM703 687h1v1h-1zM603 371h1v1h-1zM1039 1576h1v1h-1zM713 1146h1v1h-1zM587 1824h1v1h-1zM871 1583h1v1h-1zM704 1326h1v1h-1zM642 448h1v1h-1zM694 1132h1v1h-1zM564 385h1v1h-1zM701 799h1v1h-1zM674 1828h1v1h-1zM700 983h1v1h-1zM548 440h1v1h-1zM595 372h1v1h-1zM632 1831h1v1h-1zM557 1837h1v1h-1zM549 1833h1v1h-1zM664 1820h1v1h-1zM531 1556h1v1h-1zM941 371h1v1h-1zM656 1816h1v1h-1zM898 1578h1v1h-1zM700 1068h1v1h-1zM762 485h1v1h-1zM704 1218h1v1h-1zM776 1323h1v1h-1zM802 1461h1v1h-1zM688 456h1v1h-1zM702 1294h1v1h-1zM887 1568h1v1h-1zM700 1333h1v1h-1zM594 1840h1v1h-1zM712 1158h1v1h-1zM876 1675h1v1h-1zM698 851h1v1h-1zM587 1837h1v1h-1zM706 1120h1v1h-1zM699 995h1v1h-1zM700 960h1v1h-1zM698 1116h1v1h-1zM620 1834h1v1h-1zM553 1844h1v1h-1zM534 1831h1v1h-1zM702 1415h1v1h-1zM705 746h1v1h-1zM663 1832h1v1h-1zM894 1585h1v1h-1zM718 456h1v1h-1zM700 1225h1v1h-1zM664 485h1v1h-1zM613 1831h1v1h-1zM1016 378h1v1h-1zM572 1799h1v1h-1zM571 1834h1v1h-1zM563 1830h1v1h-1zM713 1280h1v1h-1zM878 1576h1v1h-1zM802 571h1v1h-1zM655 1833h1v1h-1zM606 1828h1v1h-1zM572 1835h1v1h-1zM658 1838h1v1h-1zM553 1556h1v1h-1zM678 1816h1v1h-1zM776 927h1v1h-1zM616 1841h1v1h-1zM707 1205h1v1h-1zM516 442h1v1h-1zM703 448h1v1h-1zM533 1843h1v1h-1zM706 1097h1v1h-1zM748 456h1v1h-1zM697 1277h1v1h-1zM651 1835h1v1h-1zM617 1842h1v1h-1zM1072 1599h1v1h-1zM674 1818h1v1h-1zM640 1825h1v1h-1zM559 1837h1v1h-1zM598 1828h1v1h-1zM802 957h1v1h-1zM656 1806h1v1h-1zM583 1556h1v1h-1zM560 1838h1v1h-1zM540 1594h1v1h-1zM666 1819h1v1h-1zM716 1182h1v1h-1zM704 1028h1v1h-1zM700 649h1v1h-1zM708 1178h1v1h-1zM761 1562h1v1h-1zM993 1576h1v1h-1zM705 1109h1v1h-1zM552 1833h1v1h-1zM506 405h1v1h-1zM776 1169h1v1h-1zM678 1829h1v1h-1zM802 1078h1v1h-1zM670 1825h1v1h-1zM703 690h1v1h-1zM563 387h1v1h-1zM700 1179h1v1h-1zM704 1329h1v1h-1zM620 1824h1v1h-1zM776 1434h1v1h-1zM662 1561h1v1h-1zM802 1343h1v1h-1zM613 1556h1v1h-1zM709 1264h1v1h-1zM802 934h1v1h-1zM707 1074h1v1h-1zM716 485h1v1h-1zM701 622h1v1h-1zM565 1744h1v1h-1zM693 618h1v1h-1zM665 1831h1v1h-1zM1023 1576h1v1h-1zM802 1199h1v1h-1zM563 1820h1v1h-1zM703 811h1v1h-1zM867 1557h1v1h-1zM699 1335h1v1h-1zM548 1840h1v1h-1zM1033 1589h1v1h-1zM647 1819h1v1h-1zM707 701h1v1h-1zM658 1828h1v1h-1zM640 382h1v1h-1zM776 1146h1v1h-1zM559 394h1v1h-1zM670 1802h1v1h-1zM624 1835h1v1h-1zM714 682h1v1h-1zM719 611h1v1h-1zM708 1276h1v1h-1zM779 1565h1v1h-1zM1053 1576h1v1h-1zM650 1829h1v1h-1zM932 1578h1v1h-1zM697 1123h1v1h-1zM802 1176h1v1h-1zM716 1136h1v1h-1zM707 1316h1v1h-1zM643 1826h1v1h-1zM707 1087h1v1h-1zM776 1532h1v1h-1zM560 1828h1v1h-1zM776 1303h1v1h-1zM573 449h1v1h-1zM1056 1586h1v1h-1zM578 384h1v1h-1zM993 1566h1v1h-1zM1045 1576h1v1h-1zM734 1571h1v1h-1zM962 1578h1v1h-1zM713 694h1v1h-1zM863 373h1v1h-1zM579 385h1v1h-1zM589 1827h1v1h-1zM636 1822h1v1h-1zM608 1840h1v1h-1zM509 406h1v1h-1zM702 721h1v1h-1zM547 1830h1v1h-1zM566 1843h1v1h-1zM719 624h1v1h-1zM559 1840h1v1h-1zM600 1841h1v1h-1zM551 1836h1v1h-1zM704 766h1v1h-1zM707 1329h1v1h-1zM582 1823h1v1h-1zM529 1817h1v1h-1zM719 1154h1v1h-1zM852 372h1v1h-1zM548 1830h1v1h-1zM927 1598h1v1h-1zM713 1080h1v1h-1zM648 456h1v1h-1zM717 1230h1v1h-1zM646 1844h1v1h-1zM703 1295h1v1h-1zM593 1838h1v1h-1zM923 1564h1v1h-1zM802 1274h1v1h-1zM697 992h1v1h-1zM892 1576h1v1h-1zM636 1799h1v1h-1zM706 1077h1v1h-1zM700 917h1v1h-1zM956 1597h1v1h-1zM558 1816h1v1h-1zM703 1151h1v1h-1zM567 1556h1v1h-1zM968 1571h1v1h-1zM589 1840h1v1h-1zM699 1446h1v1h-1zM934 1578h1v1h-1zM669 1832h1v1h-1zM710 1312h1v1h-1zM977 1576h1v1h-1zM707 632h1v1h-1zM631 1842h1v1h-1zM710 674h1v1h-1zM714 1202h1v1h-1zM776 619h1v1h-1zM798 378h1v1h-1zM711 1276h1v1h-1zM646 1821h1v1h-1zM665 1834h1v1h-1zM666 1799h1v1h-1zM697 969h1v1h-1zM695 1188h1v1h-1zM709 714h1v1h-1zM554 1823h1v1h-1zM931 1581h1v1h-1zM702 675h1v1h-1zM639 1818h1v1h-1zM964 1578h1v1h-1zM618 1844h1v1h-1zM881 1580h1v1h-1zM597 1821h1v1h-1zM549 1744h1v1h-1zM1007 1576h1v1h-1zM802 649h1v1h-1zM558 1829h1v1h-1zM705 716h1v1h-1zM710 1060h1v1h-1zM776 1005h1v1h-1zM802 1143h1v1h-1zM708 1099h1v1h-1zM650 1832h1v1h-1zM726 1562h1v1h-1zM713 1214h1v1h-1zM642 1828h1v1h-1zM694 935h1v1h-1zM776 596h1v1h-1zM508 436h1v1h-1zM693 598h1v1h-1zM627 1556h1v1h-1zM1003 378h1v1h-1zM550 1830h1v1h-1zM711 615h1v1h-1zM695 936h1v1h-1zM802 770h1v1h-1zM668 1822h1v1h-1zM904 372h1v1h-1zM679 1831h1v1h-1zM616 1811h1v1h-1zM776 717h1v1h-1zM802 626h1v1h-1zM776 1391h1v1h-1zM995 1578h1v1h-1zM776 982h1v1h-1zM802 1120h1v1h-1zM619 1556h1v1h-1zM630 1831h1v1h-1zM649 1844h1v1h-1zM694 912h1v1h-1zM588 1834h1v1h-1zM722 602h1v1h-1zM776 1247h1v1h-1zM802 1385h1v1h-1zM546 1837h1v1h-1zM546 1608h1v1h-1zM1029 1576h1v1h-1zM631 1832h1v1h-1zM707 1296h1v1h-1zM776 838h1v1h-1zM528 1819h1v1h-1zM569 1820h1v1h-1zM695 913h1v1h-1zM705 1223h1v1h-1zM581 1831h1v1h-1zM1018 371h1v1h-1zM850 378h1v1h-1zM1025 1578h1v1h-1zM885 372h1v1h-1zM568 436h1v1h-1zM565 1822h1v1h-1zM776 1368h1v1h-1zM697 1224h1v1h-1zM1036 1593h1v1h-1zM592 384h1v1h-1zM718 609h1v1h-1zM721 1172h1v1h-1zM641 1817h1v1h-1zM930 379h1v1h-1zM695 625h1v1h-1zM558 1819h1v1h-1zM748 1571h1v1h-1zM706 671h1v1h-1zM632 456h1v1h-1zM622 1840h1v1h-1zM710 641h1v1h-1zM717 1174h1v1h-1zM876 1576h1v1h-1zM530 1842h1v1h-1zM940 1597h1v1h-1zM700 1270h1v1h-1zM831 378h1v1h-1zM965 378h1v1h-1zM702 642h1v1h-1zM776 1345h1v1h-1zM710 1171h1v1h-1zM531 1843h1v1h-1zM701 1351h1v1h-1zM705 647h1v1h-1zM637 1824h1v1h-1zM562 1830h1v1h-1zM699 1161h1v1h-1zM608 485h1v1h-1zM697 1237h1v1h-1zM697 828h1v1h-1zM1048 1580h1v1h-1zM707 1021h1v1h-1zM864 1579h1v1h-1zM599 1833h1v1h-1zM507 438h1v1h-1zM581 1556h1v1h-1zM698 909h1v1h-1zM698 1174h1v1h-1zM667 1824h1v1h-1zM533 1744h1v1h-1zM633 1831h1v1h-1zM706 769h1v1h-1zM1070 371h1v1h-1zM694 1432h1v1h-1zM701 1328h1v1h-1zM591 1834h1v1h-1zM802 1002h1v1h-1zM707 1142h1v1h-1zM699 1138h1v1h-1zM945 376h1v1h-1zM802 593h1v1h-1zM660 1821h1v1h-1zM541 1604h1v1h-1zM903 379h1v1h-1zM705 660h1v1h-1zM629 1833h1v1h-1zM578 439h1v1h-1zM702 1149h1v1h-1zM595 1840h1v1h-1zM568 1823h1v1h-1zM537 1835h1v1h-1zM698 657h1v1h-1zM714 485h1v1h-1zM703 964h1v1h-1zM563 1744h1v1h-1zM704 700h1v1h-1zM707 1263h1v1h-1zM805 374h1v1h-1zM718 1129h1v1h-1zM755 373h1v1h-1zM704 965h1v1h-1zM715 1203h1v1h-1zM979 1578h1v1h-1zM625 1840h1v1h-1zM789 371h1v1h-1zM702 1306h1v1h-1zM753 448h1v1h-1zM583 1843h1v1h-1zM802 835h1v1h-1zM802 1509h1v1h-1zM802 1100h1v1h-1zM718 612h1v1h-1zM702 753h1v1h-1zM776 1456h1v1h-1zM640 1824h1v1h-1zM1009 1578h1v1h-1zM633 1556h1v1h-1zM819 371h1v1h-1zM596 442h1v1h-1zM613 1843h1v1h-1zM802 547h1v1h-1zM633 1821h1v1h-1zM710 1138h1v1h-1zM697 1168h1v1h-1zM644 1830h1v1h-1zM1043 1576h1v1h-1zM550 1823h1v1h-1zM708 1177h1v1h-1zM583 1820h1v1h-1zM960 1578h1v1h-1zM802 812h1v1h-1zM616 456h1v1h-1zM614 1844h1v1h-1zM647 1841h1v1h-1zM802 1486h1v1h-1zM796 1555h1v1h-1zM929 1590h1v1h-1zM564 1843h1v1h-1zM576 1817h1v1h-1zM587 1826h1v1h-1zM703 1363h1v1h-1zM699 984h1v1h-1zM534 1820h1v1h-1zM507 405h1v1h-1zM615 1744h1v1h-1zM1073 1576h1v1h-1zM925 1561h1v1h-1zM711 1223h1v1h-1zM701 621h1v1h-1zM646 456h1v1h-1zM592 485h1v1h-1zM549 1835h1v1h-1zM677 1841h1v1h-1zM714 1234h1v1h-1zM704 1220h1v1h-1zM776 1325h1v1h-1zM532 1602h1v1h-1zM703 1075h1v1h-1zM572 1824h1v1h-1zM753 1570h1v1h-1zM1028 377h1v1h-1zM706 1266h1v1h-1zM704 1305h1v1h-1zM659 1828h1v1h-1zM698 853h1v1h-1zM702 1152h1v1h-1zM708 1046h1v1h-1zM617 1831h1v1h-1zM568 1826h1v1h-1zM609 1827h1v1h-1zM776 543h1v1h-1zM792 371h1v1h-1zM705 1157h1v1h-1zM708 637h1v1h-1zM1012 374h1v1h-1zM521 402h1v1h-1zM706 713h1v1h-1zM701 1043h1v1h-1zM697 664h1v1h-1zM713 1246h1v1h-1zM699 1082h1v1h-1zM693 630h1v1h-1zM644 1820h1v1h-1zM1008 376h1v1h-1zM826 1568h1v1h-1zM752 456h1v1h-1zM594 1819h1v1h-1zM547 1744h1v1h-1zM666 1844h1v1h-1zM552 1822h1v1h-1zM605 1834h1v1h-1zM776 929h1v1h-1zM704 644h1v1h-1zM986 1562h1v1h-1zM696 640h1v1h-1zM699 1203h1v1h-1zM776 520h1v1h-1zM702 720h1v1h-1zM553 1823h1v1h-1zM776 1194h1v1h-1zM651 1837h1v1h-1zM600 443h1v1h-1zM1043 375h1v1h-1zM609 1840h1v1h-1zM737 448h1v1h-1zM702 756h1v1h-1zM640 1827h1v1h-1zM709 1289h1v1h-1zM644 1797h1v1h-1zM590 1826h1v1h-1zM894 1600h1v1h-1zM710 696h1v1h-1zM776 641h1v1h-1zM548 1829h1v1h-1zM699 1095h1v1h-1zM695 1210h1v1h-1zM993 1578h1v1h-1zM543 1607h1v1h-1zM533 1822h1v1h-1zM647 1844h1v1h-1zM552 1835h1v1h-1zM639 1840h1v1h-1zM506 407h1v1h-1zM776 1171h1v1h-1zM617 1821h1v1h-1zM707 1220h1v1h-1zM569 1744h1v1h-1zM776 1436h1v1h-1zM698 1108h1v1h-1zM581 443h1v1h-1zM578 1829h1v1h-1zM776 1027h1v1h-1zM631 1841h1v1h-1zM802 936h1v1h-1zM536 1832h1v1h-1zM662 1828h1v1h-1zM1023 1578h1v1h-1zM721 602h1v1h-1zM693 620h1v1h-1zM579 1830h1v1h-1zM677 1844h1v1h-1zM529 1829h1v1h-1zM548 1842h1v1h-1zM655 1825h1v1h-1zM627 1843h1v1h-1zM718 1207h1v1h-1zM599 1744h1v1h-1zM1057 1576h1v1h-1zM702 1119h1v1h-1zM608 1829h1v1h-1zM630 456h1v1h-1zM776 739h1v1h-1zM539 1586h1v1h-1zM577 1841h1v1h-1zM1053 1578h1v1h-1zM702 975h1v1h-1zM661 1840h1v1h-1zM662 1805h1v1h-1zM737 1570h1v1h-1zM613 1800h1v1h-1zM924 1576h1v1h-1zM1023 1555h1v1h-1zM698 941h1v1h-1zM696 1160h1v1h-1zM707 644h1v1h-1zM598 1820h1v1h-1zM708 1134h1v1h-1zM872 1651h1v1h-1zM699 1314h1v1h-1zM548 1819h1v1h-1zM776 1534h1v1h-1zM708 725h1v1h-1zM690 1494h1v1h-1zM718 1184h1v1h-1zM627 1820h1v1h-1zM660 456h1v1h-1zM709 1135h1v1h-1zM596 1832h1v1h-1zM711 650h1v1h-1zM529 1842h1v1h-1zM570 382h1v1h-1zM562 1839h1v1h-1zM541 1816h1v1h-1zM711 1324h1v1h-1zM1045 1578h1v1h-1zM705 1101h1v1h-1zM565 1844h1v1h-1zM608 1842h1v1h-1zM555 1836h1v1h-1zM602 456h1v1h-1zM719 626h1v1h-1zM662 1818h1v1h-1zM700 1027h1v1h-1zM707 1331h1v1h-1zM927 1600h1v1h-1zM615 1822h1v1h-1zM676 1838h1v1h-1zM712 1117h1v1h-1zM668 1834h1v1h-1zM699 918h1v1h-1zM970 1561h1v1h-1zM657 1824h1v1h-1zM535 1835h1v1h-1zM714 1083h1v1h-1zM682 456h1v1h-1zM628 485h1v1h-1zM558 1818h1v1h-1zM530 444h1v1h-1zM973 376h1v1h-1zM926 1576h1v1h-1zM559 1819h1v1h-1zM704 1154h1v1h-1zM977 1578h1v1h-1zM665 1800h1v1h-1zM664 1841h1v1h-1zM528 1831h1v1h-1zM751 448h1v1h-1zM776 621h1v1h-1zM706 1200h1v1h-1zM555 393h1v1h-1zM703 1274h1v1h-1zM553 1744h1v1h-1zM612 1830h1v1h-1zM704 1010h1v1h-1zM709 1354h1v1h-1zM712 456h1v1h-1zM695 1190h1v1h-1zM658 485h1v1h-1zM619 377h1v1h-1zM610 445h1v1h-1zM707 1164h1v1h-1zM709 716h1v1h-1zM565 1834h1v1h-1zM956 1576h1v1h-1zM694 1490h1v1h-1zM695 1455h1v1h-1zM706 647h1v1h-1zM617 1801h1v1h-1zM1007 1578h1v1h-1zM631 1556h1v1h-1zM641 1829h1v1h-1zM558 1831h1v1h-1zM790 380h1v1h-1zM696 1127h1v1h-1zM776 1007h1v1h-1zM802 1145h1v1h-1zM716 1105h1v1h-1zM583 1744h1v1h-1zM776 598h1v1h-1zM634 1826h1v1h-1zM700 1017h1v1h-1zM776 1272h1v1h-1zM614 456h1v1h-1zM584 1825h1v1h-1zM603 1838h1v1h-1zM701 1098h1v1h-1zM702 1063h1v1h-1zM561 1841h1v1h-1zM701 689h1v1h-1zM527 1619h1v1h-1zM679 1833h1v1h-1zM585 1826h1v1h-1zM645 1840h1v1h-1zM908 1576h1v1h-1zM596 1835h1v1h-1zM577 1556h1v1h-1zM535 1825h1v1h-1zM776 719h1v1h-1zM802 857h1v1h-1zM701 954h1v1h-1zM574 1816h1v1h-1zM890 1644h1v1h-1zM776 1393h1v1h-1zM956 1589h1v1h-1zM672 1830h1v1h-1zM987 1576h1v1h-1zM776 984h1v1h-1zM802 1122h1v1h-1zM546 1574h1v1h-1zM714 1158h1v1h-1zM661 1820h1v1h-1zM588 1836h1v1h-1zM539 1831h1v1h-1zM699 1029h1v1h-1zM776 1249h1v1h-1zM802 1387h1v1h-1zM546 1610h1v1h-1zM716 1118h1v1h-1zM1029 1578h1v1h-1zM776 840h1v1h-1zM701 1075h1v1h-1zM656 1827h1v1h-1zM872 1631h1v1h-1zM675 1840h1v1h-1zM1067 378h1v1h-1zM708 705h1v1h-1zM809 379h1v1h-1zM869 1562h1v1h-1zM615 1825h1v1h-1zM648 1822h1v1h-1zM636 456h1v1h-1zM776 1370h1v1h-1zM983 1583h1v1h-1zM534 445h1v1h-1zM716 1239h1v1h-1zM545 1586h1v1h-1zM711 715h1v1h-1zM693 1192h1v1h-1zM880 1576h1v1h-1zM1059 1578h1v1h-1zM704 1350h1v1h-1zM599 1822h1v1h-1zM704 1121h1v1h-1zM968 1576h1v1h-1zM802 1364h1v1h-1zM545 1622h1v1h-1zM537 1618h1v1h-1zM707 1275h1v1h-1zM776 817h1v1h-1zM700 1236h1v1h-1zM702 788h1v1h-1zM698 1163h1v1h-1zM699 633h1v1h-1zM664 1844h1v1h-1zM612 485h1v1h-1zM711 607h1v1h-1zM701 1088h1v1h-1zM700 1272h1v1h-1zM1007 377h1v1h-1zM656 1840h1v1h-1zM550 1822h1v1h-1zM776 1347h1v1h-1zM696 1238h1v1h-1zM910 1576h1v1h-1zM776 1118h1v1h-1zM544 1598h1v1h-1zM705 1323h1v1h-1zM539 1556h1v1h-1zM735 448h1v1h-1zM700 719h1v1h-1zM934 1560h1v1h-1zM1041 374h1v1h-1zM707 1252h1v1h-1zM696 456h1v1h-1zM698 1140h1v1h-1zM640 1836h1v1h-1zM903 1572h1v1h-1zM546 1829h1v1h-1zM699 610h1v1h-1zM691 606h1v1h-1zM549 1834h1v1h-1zM940 1576h1v1h-1zM697 686h1v1h-1zM802 739h1v1h-1zM698 1176h1v1h-1zM858 374h1v1h-1zM897 1614h1v1h-1zM531 1822h1v1h-1zM716 1193h1v1h-1zM591 1836h1v1h-1zM802 595h1v1h-1zM567 1744h1v1h-1zM626 1830h1v1h-1zM552 1844h1v1h-1zM610 1822h1v1h-1zM672 485h1v1h-1zM776 951h1v1h-1zM670 1836h1v1h-1zM699 1405h1v1h-1zM703 701h1v1h-1zM570 437h1v1h-1zM758 408h1v1h-1zM712 1195h1v1h-1zM595 1842h1v1h-1zM536 444h1v1h-1zM762 378h1v1h-1zM545 1841h1v1h-1zM708 1310h1v1h-1zM701 1042h1v1h-1zM705 1192h1v1h-1zM700 1226h1v1h-1zM776 1481h1v1h-1zM561 1556h1v1h-1zM717 1166h1v1h-1zM928 1578h1v1h-1zM712 642h1v1h-1zM776 1072h1v1h-1zM597 1744h1v1h-1zM656 1830h1v1h-1zM710 718h1v1h-1zM885 1653h1v1h-1zM897 1627h1v1h-1zM696 1228h1v1h-1zM556 1828h1v1h-1zM648 1825h1v1h-1zM575 1841h1v1h-1zM802 837h1v1h-1zM706 1278h1v1h-1zM553 1822h1v1h-1zM700 709h1v1h-1zM922 1576h1v1h-1zM802 1102h1v1h-1zM880 1579h1v1h-1zM707 1242h1v1h-1zM588 1816h1v1h-1zM802 693h1v1h-1zM776 1458h1v1h-1zM627 1744h1v1h-1zM640 1826h1v1h-1zM694 485h1v1h-1zM1001 1576h1v1h-1zM776 1049h1v1h-1zM549 1824h1v1h-1zM698 1395h1v1h-1zM802 549h1v1h-1zM1023 1600h1v1h-1zM1043 1578h1v1h-1zM644 1832h1v1h-1zM640 370h1v1h-1zM542 1821h1v1h-1zM537 394h1v1h-1zM952 1576h1v1h-1zM597 445h1v1h-1zM802 814h1v1h-1zM502 436h1v1h-1zM701 911h1v1h-1zM711 1333h1v1h-1zM802 1488h1v1h-1zM639 1839h1v1h-1zM544 1830h1v1h-1zM702 1141h1v1h-1zM948 379h1v1h-1zM576 1819h1v1h-1zM724 485h1v1h-1zM940 375h1v1h-1zM714 1115h1v1h-1zM650 456h1v1h-1zM802 670h1v1h-1zM703 1365h1v1h-1zM698 878h1v1h-1zM701 1441h1v1h-1zM708 1300h1v1h-1zM758 1566h1v1h-1zM1073 1578h1v1h-1zM721 601h1v1h-1zM706 738h1v1h-1zM702 1262h1v1h-1zM765 378h1v1h-1zM802 791h1v1h-1zM655 1824h1v1h-1zM890 1578h1v1h-1zM666 1833h1v1h-1zM591 1839h1v1h-1zM1068 1584h1v1h-1zM720 1166h1v1h-1zM700 1337h1v1h-1zM788 1566h1v1h-1zM678 1843h1v1h-1zM966 1572h1v1h-1zM707 1232h1v1h-1zM609 1829h1v1h-1zM591 383h1v1h-1zM776 545h1v1h-1zM701 780h1v1h-1zM705 1159h1v1h-1zM601 1825h1v1h-1zM567 1832h1v1h-1zM1030 1593h1v1h-1zM822 1564h1v1h-1zM699 819h1v1h-1zM710 1094h1v1h-1zM537 1840h1v1h-1zM882 1578h1v1h-1zM699 1493h1v1h-1zM713 1248h1v1h-1zM536 1615h1v1h-1zM710 456h1v1h-1zM701 636h1v1h-1zM702 601h1v1h-1zM712 645h1v1h-1zM716 1173h1v1h-1zM529 1841h1v1h-1zM655 1837h1v1h-1zM552 1824h1v1h-1zM658 1842h1v1h-1zM700 676h1v1h-1zM605 1836h1v1h-1zM545 1556h1v1h-1zM776 931h1v1h-1zM556 1831h1v1h-1zM670 1816h1v1h-1zM707 1209h1v1h-1zM986 1564h1v1h-1zM912 1578h1v1h-1zM776 522h1v1h-1zM700 1170h1v1h-1zM581 1744h1v1h-1zM566 1844h1v1h-1zM909 377h1v1h-1zM705 727h1v1h-1zM699 1470h1v1h-1zM697 643h1v1h-1zM601 1838h1v1h-1zM710 1336h1v1h-1zM632 1825h1v1h-1zM579 1819h1v1h-1zM598 1832h1v1h-1zM644 1799h1v1h-1zM709 1111h1v1h-1zM714 1226h1v1h-1zM719 1155h1v1h-1zM776 643h1v1h-1zM548 1831h1v1h-1zM906 1576h1v1h-1zM700 1062h1v1h-1zM802 1455h1v1h-1zM942 1578h1v1h-1zM802 1046h1v1h-1zM732 456h1v1h-1zM678 485h1v1h-1zM985 1576h1v1h-1zM713 1117h1v1h-1zM698 1254h1v1h-1zM863 1699h1v1h-1zM639 1842h1v1h-1zM776 1173h1v1h-1zM701 1408h1v1h-1zM707 1222h1v1h-1zM776 764h1v1h-1zM696 655h1v1h-1zM701 999h1v1h-1zM669 1833h1v1h-1zM620 1828h1v1h-1zM776 1438h1v1h-1zM567 1822h1v1h-1zM699 809h1v1h-1zM700 774h1v1h-1zM776 1029h1v1h-1zM802 938h1v1h-1zM703 779h1v1h-1zM602 1816h1v1h-1zM949 1594h1v1h-1zM802 1432h1v1h-1zM707 669h1v1h-1zM703 1044h1v1h-1zM563 1824h1v1h-1zM709 1124h1v1h-1zM776 885h1v1h-1zM618 448h1v1h-1zM802 1023h1v1h-1zM719 1168h1v1h-1zM706 1235h1v1h-1zM714 1239h1v1h-1zM699 1339h1v1h-1zM943 1556h1v1h-1zM597 1822h1v1h-1zM860 1558h1v1h-1zM776 741h1v1h-1zM558 1830h1v1h-1zM738 485h1v1h-1zM885 1587h1v1h-1zM664 456h1v1h-1zM661 1842h1v1h-1zM528 1578h1v1h-1zM802 1409h1v1h-1zM677 1823h1v1h-1zM868 371h1v1h-1zM776 862h1v1h-1zM719 1145h1v1h-1zM958 1576h1v1h-1zM829 379h1v1h-1zM624 1816h1v1h-1zM704 1287h1v1h-1zM577 1820h1v1h-1zM640 448h1v1h-1zM711 1182h1v1h-1zM578 1821h1v1h-1zM551 1804h1v1h-1zM697 1104h1v1h-1zM704 734h1v1h-1zM710 665h1v1h-1zM713 1228h1v1h-1zM707 1297h1v1h-1zM691 1469h1v1h-1zM551 1840h1v1h-1zM896 1578h1v1h-1zM703 1034h1v1h-1zM529 1821h1v1h-1zM670 448h1v1h-1zM713 1084h1v1h-1zM705 1080h1v1h-1zM710 1195h1v1h-1zM585 1838h1v1h-1zM776 1140h1v1h-1zM616 1825h1v1h-1zM657 1826h1v1h-1zM699 1185h1v1h-1zM700 1150h1v1h-1zM697 1261h1v1h-1zM558 1820h1v1h-1zM539 1578h1v1h-1zM719 605h1v1h-1zM559 1556h1v1h-1zM699 1450h1v1h-1zM650 1823h1v1h-1zM712 1240h1v1h-1zM661 1832h1v1h-1zM710 1316h1v1h-1zM662 485h1v1h-1zM923 377h1v1h-1zM643 1820h1v1h-1zM711 1280h1v1h-1zM589 1556h1v1h-1zM705 1093h1v1h-1zM700 898h1v1h-1zM956 1578h1v1h-1zM767 1562h1v1h-1zM718 623h1v1h-1zM758 430h1v1h-1zM698 1319h1v1h-1zM802 1147h1v1h-1zM714 1183h1v1h-1zM634 1828h1v1h-1zM825 376h1v1h-1zM706 1179h1v1h-1zM776 1503h1v1h-1zM699 645h1v1h-1zM776 1094h1v1h-1zM542 1830h1v1h-1zM617 1744h1v1h-1zM561 1843h1v1h-1zM991 1576h1v1h-1zM722 485h1v1h-1zM983 1572h1v1h-1zM802 1268h1v1h-1zM704 616h1v1h-1zM699 1404h1v1h-1zM535 1827h1v1h-1zM802 859h1v1h-1zM574 1818h1v1h-1zM703 1374h1v1h-1zM705 697h1v1h-1zM696 1106h1v1h-1zM987 1578h1v1h-1zM802 1124h1v1h-1zM718 636h1v1h-1zM707 1035h1v1h-1zM661 1822h1v1h-1zM802 715h1v1h-1zM580 1834h1v1h-1zM700 996h1v1h-1zM776 1251h1v1h-1zM802 1389h1v1h-1zM697 1107h1v1h-1zM603 1817h1v1h-1zM1021 1576h1v1h-1zM530 1604h1v1h-1zM776 842h1v1h-1zM802 980h1v1h-1zM675 1842h1v1h-1zM624 448h1v1h-1zM712 1086h1v1h-1zM594 456h1v1h-1zM696 1227h1v1h-1zM802 1245h1v1h-1zM714 1281h1v1h-1zM926 377h1v1h-1zM573 1830h1v1h-1zM641 1556h1v1h-1zM776 1372h1v1h-1zM714 643h1v1h-1zM709 1202h1v1h-1zM880 1578h1v1h-1zM568 1837h1v1h-1zM714 1137h1v1h-1zM599 1824h1v1h-1zM700 744h1v1h-1zM802 1366h1v1h-1zM654 448h1v1h-1zM707 603h1v1h-1zM686 1563h1v1h-1zM549 1823h1v1h-1zM776 819h1v1h-1zM698 1165h1v1h-1zM592 1821h1v1h-1zM710 1139h1v1h-1zM603 1830h1v1h-1zM802 1222h1v1h-1zM564 447h1v1h-1zM543 1556h1v1h-1zM702 646h1v1h-1zM910 1578h1v1h-1zM696 1240h1v1h-1zM709 1179h1v1h-1zM648 1837h1v1h-1zM703 1135h1v1h-1zM989 1578h1v1h-1zM706 652h1v1h-1zM537 1597h1v1h-1zM718 626h1v1h-1zM707 1254h1v1h-1zM588 1828h1v1h-1zM771 372h1v1h-1zM708 661h1v1h-1zM640 1838h1v1h-1zM508 407h1v1h-1zM632 1834h1v1h-1zM664 1823h1v1h-1zM695 1136h1v1h-1zM596 456h1v1h-1zM676 485h1v1h-1zM703 1256h1v1h-1zM572 1825h1v1h-1zM1020 374h1v1h-1zM802 597h1v1h-1zM776 953h1v1h-1zM696 844h1v1h-1zM717 638h1v1h-1zM703 703h1v1h-1zM628 1841h1v1h-1zM704 1342h1v1h-1zM545 1843h1v1h-1zM760 456h1v1h-1zM704 704h1v1h-1zM885 1619h1v1h-1zM695 884h1v1h-1zM776 1483h1v1h-1zM522 404h1v1h-1zM776 1074h1v1h-1zM710 720h1v1h-1zM713 1283h1v1h-1zM561 1823h1v1h-1zM776 665h1v1h-1zM595 1556h1v1h-1zM714 610h1v1h-1zM572 1838h1v1h-1zM645 1822h1v1h-1zM640 395h1v1h-1zM678 1819h1v1h-1zM648 1827h1v1h-1zM879 1580h1v1h-1zM1005 1576h1v1h-1zM659 1842h1v1h-1zM802 695h1v1h-1zM701 792h1v1h-1zM776 1460h1v1h-1zM575 387h1v1h-1zM910 377h1v1h-1zM652 1839h1v1h-1zM557 1830h1v1h-1zM687 448h1v1h-1zM776 1051h1v1h-1zM549 1826h1v1h-1zM694 1161h1v1h-1zM590 1827h1v1h-1zM697 678h1v1h-1zM802 551h1v1h-1zM728 485h1v1h-1zM703 1066h1v1h-1zM1035 1576h1v1h-1zM599 371h1v1h-1zM640 372h1v1h-1zM591 1828h1v1h-1zM583 1824h1v1h-1zM776 907h1v1h-1zM874 1622h1v1h-1zM802 816h1v1h-1zM541 1827h1v1h-1zM678 1832h1v1h-1zM698 615h1v1h-1zM696 654h1v1h-1zM563 390h1v1h-1zM802 672h1v1h-1zM716 632h1v1h-1zM652 1816h1v1h-1zM709 1267h1v1h-1zM671 1829h1v1h-1zM674 1834h1v1h-1zM1065 1576h1v1h-1zM640 1841h1v1h-1zM668 448h1v1h-1zM529 1830h1v1h-1zM802 793h1v1h-1zM700 1074h1v1h-1zM627 1844h1v1h-1zM711 1083h1v1h-1zM564 1824h1v1h-1zM717 605h1v1h-1zM703 670h1v1h-1zM712 1164h1v1h-1zM799 378h1v1h-1zM541 1840h1v1h-1zM978 380h1v1h-1zM533 1836h1v1h-1zM776 1414h1v1h-1zM802 914h1v1h-1zM711 1204h1v1h-1zM704 1165h1v1h-1zM708 1315h1v1h-1zM530 1803h1v1h-1zM874 1576h1v1h-1zM1000 1572h1v1h-1zM548 1820h1v1h-1zM654 1838h1v1h-1zM721 616h1v1h-1zM579 1844h1v1h-1zM867 1573h1v1h-1zM695 972h1v1h-1zM594 1823h1v1h-1zM655 1839h1v1h-1zM541 1817h1v1h-1zM647 1835h1v1h-1zM539 1744h1v1h-1zM658 1844h1v1h-1zM701 1397h1v1h-1zM608 1843h1v1h-1zM776 524h1v1h-1zM904 1576h1v1h-1zM579 1556h1v1h-1zM702 989h1v1h-1zM773 375h1v1h-1zM528 1590h1v1h-1zM729 448h1v1h-1zM632 1827h1v1h-1zM559 1843h1v1h-1zM693 611h1v1h-1zM697 1139h1v1h-1zM582 1826h1v1h-1zM699 1328h1v1h-1zM776 645h1v1h-1zM693 876h1v1h-1zM627 1834h1v1h-1zM802 1457h1v1h-1zM802 1048h1v1h-1zM616 1824h1v1h-1zM715 634h1v1h-1zM609 1556h1v1h-1zM943 1581h1v1h-1zM697 1260h1v1h-1zM1003 1595h1v1h-1zM580 446h1v1h-1zM705 706h1v1h-1zM671 1796h1v1h-1zM887 1649h1v1h-1zM776 766h1v1h-1zM696 657h1v1h-1zM697 622h1v1h-1zM601 1817h1v1h-1zM561 1744h1v1h-1zM628 1834h1v1h-1zM1019 1576h1v1h-1zM708 631h1v1h-1zM711 1194h1v1h-1zM719 640h1v1h-1zM527 439h1v1h-1zM776 1031h1v1h-1zM887 373h1v1h-1zM673 1841h1v1h-1zM560 1821h1v1h-1zM802 1434h1v1h-1zM639 1556h1v1h-1zM886 1576h1v1h-1zM776 887h1v1h-1zM802 1025h1v1h-1zM706 1237h1v1h-1zM709 717h1v1h-1zM718 1211h1v1h-1zM647 1825h1v1h-1zM802 1290h1v1h-1zM624 1841h1v1h-1zM608 1833h1v1h-1zM776 743h1v1h-1zM802 881h1v1h-1zM696 634h1v1h-1zM702 943h1v1h-1zM699 1197h1v1h-1zM566 1836h1v1h-1zM547 1594h1v1h-1zM870 1573h1v1h-1zM719 617h1v1h-1zM875 376h1v1h-1zM710 654h1v1h-1zM601 1830h1v1h-1zM946 1568h1v1h-1zM916 1576h1v1h-1z" fill="#d4d4d4"/>
<path d="M603 1839h1v1h-1zM901 370h1v1h-1zM633 61h1v1h-1zM706 1214h1v1h-1zM511 35h1v1h-1zM625 57h1v1h-1zM570 121h1v1h-1zM718 1188h1v1h-1zM764 1155h1v1h-1zM627 1824h1v1h-1zM659 1776h1v1h-1zM707 1587h1v1h-1zM672 1566h1v1h-1zM1066 702h1v1h-1zM711 1557h1v1h-1zM926 170h1v1h-1zM814 374h1v1h-1zM553 1614h1v1h-1zM417 558h1v1h-1zM715 1118h1v1h-1zM612 388h1v1h-1zM456 549h1v1h-1zM1100 700h1v1h-1zM712 1229h1v1h-1zM713 1194h1v1h-1zM456 140h1v1h-1zM535 141h1v1h-1zM570 1819h1v1h-1zM780 1549h1v1h-1zM590 1797h1v1h-1zM507 42h1v1h-1zM530 1603h1v1h-1zM758 1381h1v1h-1zM702 812h1v1h-1zM698 1187h1v1h-1zM575 442h1v1h-1zM1018 374h1v1h-1zM592 1843h1v1h-1zM756 374h1v1h-1zM1108 676h1v1h-1zM493 409h1v1h-1zM709 1345h1v1h-1zM604 1817h1v1h-1zM558 389h1v1h-1zM1074 683h1v1h-1zM542 1842h1v1h-1zM698 1452h1v1h-1zM511 48h1v1h-1zM1078 690h1v1h-1zM933 186h1v1h-1zM932 370h1v1h-1zM983 1584h1v1h-1zM534 446h1v1h-1zM467 127h1v1h-1zM518 438h1v1h-1zM555 1817h1v1h-1zM672 1844h1v1h-1zM996 1559h1v1h-1zM767 504h1v1h-1zM859 358h1v1h-1zM940 203h1v1h-1zM596 393h1v1h-1zM707 1047h1v1h-1zM636 1661h1v1h-1zM634 1817h1v1h-1zM828 370h1v1h-1zM896 1557h1v1h-1zM431 554h1v1h-1zM691 401h1v1h-1zM712 1098h1v1h-1zM1105 684h1v1h-1zM575 455h1v1h-1zM1097 680h1v1h-1zM810 358h1v1h-1zM573 1806h1v1h-1zM1008 602h1v1h-1zM679 1824h1v1h-1zM779 370h1v1h-1zM698 1465h1v1h-1zM693 38h1v1h-1zM617 48h1v1h-1zM425 552h1v1h-1zM922 1587h1v1h-1zM500 137h1v1h-1zM866 374h1v1h-1zM718 625h1v1h-1zM760 213h1v1h-1zM631 1560h1v1h-1zM518 42h1v1h-1zM394 564h1v1h-1zM900 107h1v1h-1zM714 920h1v1h-1zM588 1827h1v1h-1zM559 1800h1v1h-1zM539 1822h1v1h-1zM903 1573h1v1h-1zM663 51h1v1h-1zM774 376h1v1h-1zM560 44h1v1h-1zM704 1400h1v1h-1zM750 1367h1v1h-1zM1145 697h1v1h-1zM535 396h1v1h-1zM718 1155h1v1h-1zM699 876h1v1h-1zM706 772h1v1h-1zM492 434h1v1h-1zM901 602h1v1h-1zM697 952h1v1h-1zM623 1820h1v1h-1zM504 408h1v1h-1zM542 1832h1v1h-1zM550 1836h1v1h-1zM511 38h1v1h-1zM658 57h1v1h-1zM700 877h1v1h-1zM455 143h1v1h-1zM569 128h1v1h-1zM618 1827h1v1h-1zM980 602h1v1h-1zM820 384h1v1h-1zM725 1544h1v1h-1zM545 36h1v1h-1zM938 376h1v1h-1zM553 1617h1v1h-1zM715 1121h1v1h-1zM802 1126h1v1h-1zM726 642h1v1h-1zM567 60h1v1h-1zM546 37h1v1h-1zM701 814h1v1h-1zM698 925h1v1h-1zM964 370h1v1h-1zM1157 685h1v1h-1zM481 136h1v1h-1zM914 140h1v1h-1zM772 1368h1v1h-1zM709 674h1v1h-1zM718 1168h1v1h-1zM706 1014h1v1h-1zM662 1645h1v1h-1zM712 679h1v1h-1zM645 1821h1v1h-1zM1074 686h1v1h-1zM720 1177h1v1h-1zM737 592h1v1h-1zM682 427h1v1h-1zM1171 704h1v1h-1zM618 1840h1v1h-1zM636 51h1v1h-1zM459 126h1v1h-1zM1002 374h1v1h-1zM396 564h1v1h-1zM568 1839h1v1h-1zM591 394h1v1h-1zM537 45h1v1h-1zM701 791h1v1h-1zM607 1830h1v1h-1zM1017 1585h1v1h-1zM680 1671h1v1h-1zM1009 1581h1v1h-1zM702 1430h1v1h-1zM758 916h1v1h-1zM611 1800h1v1h-1zM929 389h1v1h-1zM506 57h1v1h-1zM629 1705h1v1h-1zM714 1175h1v1h-1zM819 374h1v1h-1zM420 548h1v1h-1zM956 379h1v1h-1zM431 557h1v1h-1zM767 592h1v1h-1zM802 1224h1v1h-1zM521 42h1v1h-1zM540 55h1v1h-1zM676 1822h1v1h-1zM666 51h1v1h-1zM1118 706h1v1h-1zM529 1623h1v1h-1zM1004 1587h1v1h-1zM788 651h1v1h-1zM541 1597h1v1h-1zM680 1792h1v1h-1zM526 422h1v1h-1zM637 1830h1v1h-1zM713 1560h1v1h-1zM933 1563h1v1h-1zM893 444h1v1h-1zM946 599h1v1h-1zM534 1594h1v1h-1zM508 144h1v1h-1zM773 564h1v1h-1zM530 1560h1v1h-1zM871 1624h1v1h-1zM714 1152h1v1h-1zM586 63h1v1h-1zM705 1183h1v1h-1zM1025 599h1v1h-1zM427 564h1v1h-1zM575 399h1v1h-1zM685 42h1v1h-1zM1210 681h1v1h-1zM640 528h1v1h-1zM793 1561h1v1h-1zM1070 1015h1v1h-1zM527 1819h1v1h-1zM612 57h1v1h-1zM850 374h1v1h-1zM614 1824h1v1h-1zM700 844h1v1h-1zM565 1782h1v1h-1zM533 438h1v1h-1zM639 456h1v1h-1zM599 383h1v1h-1zM1202 682h1v1h-1zM707 1377h1v1h-1zM589 1767h1v1h-1zM557 386h1v1h-1zM985 1587h1v1h-1zM978 379h1v1h-1zM699 964h1v1h-1zM710 1239h1v1h-1zM608 59h1v1h-1zM800 1541h1v1h-1zM776 955h1v1h-1zM644 1702h1v1h-1zM576 1833h1v1h-1zM940 389h1v1h-1zM713 1164h1v1h-1zM705 1160h1v1h-1zM750 902h1v1h-1zM663 1837h1v1h-1zM699 1494h1v1h-1zM1006 370h1v1h-1zM1082 1003h1v1h-1zM561 1560h1v1h-1zM532 41h1v1h-1zM1118 696h1v1h-1zM944 1563h1v1h-1zM876 1657h1v1h-1zM680 1782h1v1h-1zM543 56h1v1h-1zM705 643h1v1h-1zM750 1023h1v1h-1zM608 36h1v1h-1zM556 1832h1v1h-1zM711 686h1v1h-1zM579 387h1v1h-1zM595 1823h1v1h-1zM788 906h1v1h-1zM563 150h1v1h-1zM1144 690h1v1h-1zM700 942h1v1h-1zM660 1660h1v1h-1zM701 1432h1v1h-1zM779 448h1v1h-1zM699 1471h1v1h-1zM629 1672h1v1h-1zM649 1650h1v1h-1zM952 376h1v1h-1zM621 1817h1v1h-1zM946 216h1v1h-1zM711 1216h1v1h-1zM705 993h1v1h-1zM461 138h1v1h-1zM699 833h1v1h-1zM546 1823h1v1h-1zM785 1022h1v1h-1zM598 1833h1v1h-1zM654 44h1v1h-1zM714 1227h1v1h-1zM707 1102h1v1h-1zM528 1625h1v1h-1zM576 390h1v1h-1zM952 232h1v1h-1zM503 140h1v1h-1zM554 451h1v1h-1zM633 1827h1v1h-1zM533 1560h1v1h-1zM776 909h1v1h-1zM575 1822h1v1h-1zM503 405h1v1h-1zM721 893h1v1h-1zM597 40h1v1h-1zM627 557h1v1h-1zM700 919h1v1h-1zM710 1229h1v1h-1zM943 1580h1v1h-1zM701 1409h1v1h-1zM711 699h1v1h-1zM628 1833h1v1h-1zM448 554h1v1h-1zM736 1366h1v1h-1zM556 124h1v1h-1zM539 1612h1v1h-1zM702 1410h1v1h-1zM710 1085h1v1h-1zM706 706h1v1h-1zM703 960h1v1h-1zM793 1528h1v1h-1zM1058 1008h1v1h-1zM549 1805h1v1h-1zM707 1057h1v1h-1zM706 1380h1v1h-1zM1025 602h1v1h-1zM1066 374h1v1h-1zM709 631h1v1h-1zM1058 370h1v1h-1zM724 1248h1v1h-1zM632 1839h1v1h-1zM704 781h1v1h-1zM526 137h1v1h-1zM974 376h1v1h-1zM705 1271h1v1h-1zM706 1236h1v1h-1zM540 1841h1v1h-1zM1004 1567h1v1h-1zM536 150h1v1h-1zM660 482h1v1h-1zM1174 703h1v1h-1zM575 1835h1v1h-1zM551 395h1v1h-1zM541 1842h1v1h-1zM865 362h1v1h-1zM582 382h1v1h-1zM574 1839h1v1h-1zM772 1037h1v1h-1zM1155 689h1v1h-1zM479 555h1v1h-1zM834 374h1v1h-1zM549 1782h1v1h-1zM705 1392h1v1h-1zM1071 695h1v1h-1zM736 1379h1v1h-1zM567 1836h1v1h-1zM631 51h1v1h-1zM697 899h1v1h-1zM544 391h1v1h-1zM703 564h1v1h-1zM802 772h1v1h-1zM724 1261h1v1h-1zM540 1818h1v1h-1zM514 405h1v1h-1zM788 379h1v1h-1zM707 683h1v1h-1zM403 537h1v1h-1zM500 61h1v1h-1zM660 50h1v1h-1zM684 407h1v1h-1zM607 1764h1v1h-1zM962 1583h1v1h-1zM555 33h1v1h-1zM558 38h1v1h-1zM457 135h1v1h-1zM536 1825h1v1h-1zM686 43h1v1h-1zM784 386h1v1h-1zM741 1556h1v1h-1zM1201 674h1v1h-1zM719 1159h1v1h-1zM1078 689h1v1h-1zM763 448h1v1h-1zM718 1200h1v1h-1zM1070 599h1v1h-1zM802 376h1v1h-1zM821 389h1v1h-1zM565 54h1v1h-1zM894 379h1v1h-1zM533 1828h1v1h-1zM528 401h1v1h-1zM765 902h1v1h-1zM690 54h1v1h-1zM709 1236h1v1h-1zM682 50h1v1h-1zM532 142h1v1h-1zM768 239h1v1h-1zM776 768h1v1h-1zM696 888h1v1h-1zM505 45h1v1h-1zM546 46h1v1h-1zM643 1556h1v1h-1zM804 341h1v1h-1zM557 55h1v1h-1zM706 709h1v1h-1zM719 1545h1v1h-1zM773 1522h1v1h-1zM702 824h1v1h-1zM584 45h1v1h-1zM1105 683h1v1h-1zM712 1097h1v1h-1zM634 540h1v1h-1zM665 1839h1v1h-1zM1074 695h1v1h-1zM578 379h1v1h-1zM754 196h1v1h-1zM511 60h1v1h-1zM713 689h1v1h-1zM1050 374h1v1h-1zM1101 685h1v1h-1zM1042 370h1v1h-1zM708 1019h1v1h-1zM964 716h1v1h-1zM751 1475h1v1h-1zM707 1023h1v1h-1zM586 1816h1v1h-1zM704 1134h1v1h-1zM710 1065h1v1h-1zM585 396h1v1h-1zM859 370h1v1h-1zM707 1288h1v1h-1zM703 1434h1v1h-1zM548 1560h1v1h-1zM741 643h1v1h-1zM698 947h1v1h-1zM772 896h1v1h-1zM665 1816h1v1h-1zM881 1706h1v1h-1zM390 565h1v1h-1zM561 38h1v1h-1zM749 1141h1v1h-1zM707 1324h1v1h-1zM713 1075h1v1h-1zM447 547h1v1h-1zM1097 692h1v1h-1zM718 1190h1v1h-1zM699 911h1v1h-1zM710 1186h1v1h-1zM553 448h1v1h-1zM705 1336h1v1h-1zM946 379h1v1h-1zM574 1819h1v1h-1zM702 1187h1v1h-1zM790 1034h1v1h-1zM725 1579h1v1h-1zM567 1816h1v1h-1zM633 40h1v1h-1zM1158 679h1v1h-1zM772 1138h1v1h-1zM1211 691h1v1h-1zM958 245h1v1h-1zM614 63h1v1h-1zM952 696h1v1h-1zM524 398h1v1h-1zM1053 599h1v1h-1zM615 1828h1v1h-1zM564 62h1v1h-1zM626 1843h1v1h-1zM702 1344h1v1h-1zM587 45h1v1h-1zM699 1418h1v1h-1zM612 367h1v1h-1zM642 1558h1v1h-1zM703 1388h1v1h-1zM750 188h1v1h-1zM709 1239h1v1h-1zM682 53h1v1h-1zM673 1545h1v1h-1zM546 1590h1v1h-1zM460 126h1v1h-1zM650 1827h1v1h-1zM538 45h1v1h-1zM717 1179h1v1h-1zM718 1144h1v1h-1zM606 445h1v1h-1zM569 1838h1v1h-1zM979 1593h1v1h-1zM1118 705h1v1h-1zM668 1817h1v1h-1zM593 1823h1v1h-1zM583 52h1v1h-1zM897 99h1v1h-1zM996 370h1v1h-1zM637 1829h1v1h-1zM672 1558h1v1h-1zM693 40h1v1h-1zM1192 690h1v1h-1zM503 437h1v1h-1zM659 47h1v1h-1zM972 278h1v1h-1zM1042 602h1v1h-1zM653 1544h1v1h-1zM925 166h1v1h-1zM736 904h1v1h-1zM612 380h1v1h-1zM782 1020h1v1h-1zM707 1026h1v1h-1zM1084 684h1v1h-1zM508 408h1v1h-1zM991 376h1v1h-1zM696 1133h1v1h-1zM717 1156h1v1h-1zM703 992h1v1h-1zM707 1291h1v1h-1zM629 1717h1v1h-1zM701 839h1v1h-1zM709 663h1v1h-1zM971 1566h1v1h-1zM802 333h1v1h-1zM706 774h1v1h-1zM716 1196h1v1h-1zM573 1821h1v1h-1zM660 1826h1v1h-1zM565 1817h1v1h-1zM932 182h1v1h-1zM569 130h1v1h-1zM941 676h1v1h-1zM714 634h1v1h-1zM705 665h1v1h-1zM713 669h1v1h-1zM703 1113h1v1h-1zM544 1614h1v1h-1zM543 1835h1v1h-1zM802 863h1v1h-1zM650 1781h1v1h-1zM797 1571h1v1h-1zM477 132h1v1h-1zM1011 448h1v1h-1zM911 132h1v1h-1zM537 1611h1v1h-1zM1195 677h1v1h-1zM585 376h1v1h-1zM713 1199h1v1h-1zM694 920h1v1h-1zM802 719h1v1h-1zM986 311h1v1h-1zM711 1238h1v1h-1zM600 1816h1v1h-1zM939 199h1v1h-1zM790 893h1v1h-1zM671 1696h1v1h-1zM706 1016h1v1h-1zM711 1094h1v1h-1zM1009 379h1v1h-1zM1053 602h1v1h-1zM1122 701h1v1h-1zM533 1618h1v1h-1zM821 444h1v1h-1zM711 721h1v1h-1zM736 894h1v1h-1zM718 617h1v1h-1zM772 1491h1v1h-1zM749 604h1v1h-1zM1079 1004h1v1h-1zM701 1467h1v1h-1zM873 1659h1v1h-1zM702 794h1v1h-1zM676 1559h1v1h-1zM510 35h1v1h-1zM513 40h1v1h-1zM655 44h1v1h-1zM785 648h1v1h-1zM707 1137h1v1h-1zM657 1545h1v1h-1zM862 602h1v1h-1zM903 374h1v1h-1zM507 145h1v1h-1zM629 1828h1v1h-1zM499 141h1v1h-1zM670 1829h1v1h-1zM712 1188h1v1h-1zM713 1153h1v1h-1zM622 1560h1v1h-1zM778 379h1v1h-1zM703 1368h1v1h-1zM722 564h1v1h-1zM1183 693h1v1h-1zM609 49h1v1h-1zM758 895h1v1h-1zM928 174h1v1h-1zM708 1074h1v1h-1zM629 1684h1v1h-1zM590 444h1v1h-1zM616 582h1v1h-1zM613 1825h1v1h-1zM699 845h1v1h-1zM627 448h1v1h-1zM481 128h1v1h-1zM527 1556h1v1h-1zM1003 353h1v1h-1zM948 1586h1v1h-1zM590 1841h1v1h-1zM560 49h1v1h-1zM1126 689h1v1h-1zM564 1560h1v1h-1zM537 145h1v1h-1zM950 692h1v1h-1zM476 135h1v1h-1zM533 440h1v1h-1zM529 61h1v1h-1zM572 1829h1v1h-1zM591 1842h1v1h-1zM704 816h1v1h-1zM659 1568h1v1h-1zM537 410h1v1h-1zM714 1275h1v1h-1zM648 1818h1v1h-1zM1186 676h1v1h-1zM530 142h1v1h-1zM1010 370h1v1h-1zM610 1828h1v1h-1zM1086 1003h1v1h-1zM1072 690h1v1h-1zM1054 376h1v1h-1zM706 1127h1v1h-1zM477 135h1v1h-1zM556 136h1v1h-1zM717 1136h1v1h-1zM631 50h1v1h-1zM702 1422h1v1h-1zM652 1830h1v1h-1zM709 1052h1v1h-1zM699 1496h1v1h-1zM700 1461h1v1h-1zM663 1839h1v1h-1zM703 1237h1v1h-1zM1005 376h1v1h-1zM700 823h1v1h-1zM711 1061h1v1h-1zM716 1176h1v1h-1zM942 207h1v1h-1zM755 201h1v1h-1zM873 602h1v1h-1zM914 374h1v1h-1zM638 1751h1v1h-1zM895 95h1v1h-1zM713 1287h1v1h-1zM791 303h1v1h-1zM1051 379h1v1h-1zM587 1556h1v1h-1zM922 643h1v1h-1zM776 260h1v1h-1zM543 58h1v1h-1zM616 42h1v1h-1zM564 1838h1v1h-1zM785 903h1v1h-1zM970 274h1v1h-1zM921 1581h1v1h-1zM1194 693h1v1h-1zM812 362h1v1h-1zM465 138h1v1h-1zM710 1254h1v1h-1zM888 1669h1v1h-1zM589 61h1v1h-1zM907 599h1v1h-1zM699 1473h1v1h-1zM705 1404h1v1h-1zM706 1369h1v1h-1zM702 990h1v1h-1zM502 141h1v1h-1zM705 766h1v1h-1zM699 835h1v1h-1zM750 917h1v1h-1zM646 1583h1v1h-1zM802 1193h1v1h-1zM625 1560h1v1h-1zM498 436h1v1h-1zM700 1474h1v1h-1zM677 1836h1v1h-1zM1047 386h1v1h-1zM602 1842h1v1h-1zM811 1570h1v1h-1zM1159 676h1v1h-1zM705 1031h1v1h-1zM484 129h1v1h-1zM666 1826h1v1h-1zM716 1189h1v1h-1zM704 806h1v1h-1zM395 545h1v1h-1zM650 1738h1v1h-1zM1096 1001h1v1h-1zM576 1560h1v1h-1zM729 1473h1v1h-1zM700 921h1v1h-1zM895 602h1v1h-1zM750 1038h1v1h-1zM909 128h1v1h-1zM1062 370h1v1h-1zM609 1822h1v1h-1zM556 126h1v1h-1zM790 1488h1v1h-1zM539 1614h1v1h-1zM984 307h1v1h-1zM712 602h1v1h-1zM464 537h1v1h-1zM525 138h1v1h-1zM887 374h1v1h-1zM592 48h1v1h-1zM662 1833h1v1h-1zM672 1734h1v1h-1zM645 1780h1v1h-1zM590 1844h1v1h-1zM1059 602h1v1h-1zM585 45h1v1h-1zM487 147h1v1h-1zM704 1048h1v1h-1zM665 1694h1v1h-1zM841 379h1v1h-1zM605 1829h1v1h-1zM403 562h1v1h-1zM757 645h1v1h-1zM948 362h1v1h-1zM918 599h1v1h-1zM623 565h1v1h-1zM512 60h1v1h-1zM1124 704h1v1h-1zM776 1418h1v1h-1zM701 1424h1v1h-1zM651 1832h1v1h-1zM606 369h1v1h-1zM629 1664h1v1h-1zM609 1835h1v1h-1zM966 266h1v1h-1zM421 552h1v1h-1zM502 131h1v1h-1zM452 539h1v1h-1zM513 406h1v1h-1zM977 1593h1v1h-1zM923 161h1v1h-1zM1128 679h1v1h-1zM544 393h1v1h-1zM600 65h1v1h-1zM643 1833h1v1h-1zM931 659h1v1h-1zM730 1572h1v1h-1zM531 51h1v1h-1zM541 1556h1v1h-1zM646 1838h1v1h-1zM998 340h1v1h-1zM532 1587h1v1h-1zM615 44h1v1h-1zM593 1832h1v1h-1zM705 612h1v1h-1zM562 38h1v1h-1zM624 1819h1v1h-1zM698 1476h1v1h-1zM1073 370h1v1h-1zM972 1599h1v1h-1zM647 1839h1v1h-1zM628 1560h1v1h-1zM639 1835h1v1h-1zM620 1556h1v1h-1zM478 569h1v1h-1zM807 479h1v1h-1zM547 1837h1v1h-1zM898 374h1v1h-1zM890 370h1v1h-1zM709 358h1v1h-1zM642 39h1v1h-1zM715 1155h1v1h-1zM579 1560h1v1h-1zM634 35h1v1h-1zM528 1823h1v1h-1zM806 376h1v1h-1zM707 1071h1v1h-1zM735 761h1v1h-1zM844 1571h1v1h-1zM802 522h1v1h-1zM741 655h1v1h-1zM551 1843h1v1h-1zM702 1078h1v1h-1zM852 379h1v1h-1zM535 1755h1v1h-1zM709 708h1v1h-1zM705 1083h1v1h-1zM744 171h1v1h-1zM718 1202h1v1h-1zM890 82h1v1h-1zM784 509h1v1h-1zM713 1123h1v1h-1zM609 1560h1v1h-1zM504 46h1v1h-1zM802 643h1v1h-1zM965 261h1v1h-1zM1102 675h1v1h-1zM562 136h1v1h-1zM706 675h1v1h-1zM682 52h1v1h-1zM588 45h1v1h-1zM585 385h1v1h-1zM886 376h1v1h-1zM706 1349h1v1h-1zM536 1575h1v1h-1zM703 1423h1v1h-1zM608 368h1v1h-1zM712 605h1v1h-1zM715 1168h1v1h-1zM519 439h1v1h-1zM709 1094h1v1h-1zM764 1555h1v1h-1zM772 247h1v1h-1zM702 826h1v1h-1zM912 370h1v1h-1zM646 1828h1v1h-1zM837 376h1v1h-1zM1203 699h1v1h-1zM1056 1583h1v1h-1zM1108 690h1v1h-1zM704 1015h1v1h-1zM680 1561h1v1h-1zM474 144h1v1h-1zM424 552h1v1h-1zM920 639h1v1h-1zM512 436h1v1h-1zM802 1029h1v1h-1zM564 1795h1v1h-1zM764 508h1v1h-1zM684 399h1v1h-1zM543 1592h1v1h-1zM713 1100h1v1h-1zM542 1627h1v1h-1zM802 620h1v1h-1zM1184 685h1v1h-1zM700 901h1v1h-1zM586 1782h1v1h-1zM863 370h1v1h-1zM734 1159h1v1h-1zM477 563h1v1h-1zM1048 1584h1v1h-1zM947 220h1v1h-1zM704 1545h1v1h-1zM549 439h1v1h-1zM904 1570h1v1h-1zM703 1171h1v1h-1zM796 316h1v1h-1zM448 127h1v1h-1zM950 374h1v1h-1zM706 688h1v1h-1zM680 1682h1v1h-1zM501 139h1v1h-1zM708 1106h1v1h-1zM538 1598h1v1h-1zM713 1221h1v1h-1zM642 1835h1v1h-1zM718 1565h1v1h-1zM473 565h1v1h-1zM726 1160h1v1h-1zM527 1588h1v1h-1zM539 138h1v1h-1zM587 1755h1v1h-1zM904 379h1v1h-1zM604 1844h1v1h-1zM1065 1007h1v1h-1zM954 236h1v1h-1zM704 619h1v1h-1zM535 1830h1v1h-1zM684 1544h1v1h-1zM531 139h1v1h-1zM577 1826h1v1h-1zM588 35h1v1h-1zM630 1838h1v1h-1zM1022 376h1v1h-1zM703 739h1v1h-1zM871 1635h1v1h-1zM713 1198h1v1h-1zM547 1840h1v1h-1zM588 1841h1v1h-1zM612 1560h1v1h-1zM623 1798h1v1h-1zM961 253h1v1h-1zM701 851h1v1h-1zM924 599h1v1h-1zM568 443h1v1h-1zM555 1556h1v1h-1zM721 1588h1v1h-1zM397 561h1v1h-1zM553 1595h1v1h-1zM518 442h1v1h-1zM628 48h1v1h-1zM477 553h1v1h-1zM428 548h1v1h-1zM545 50h1v1h-1zM708 602h1v1h-1zM607 1831h1v1h-1zM634 1556h1v1h-1zM1123 701h1v1h-1zM741 599h1v1h-1zM562 139h1v1h-1zM701 1466h1v1h-1zM715 1135h1v1h-1zM693 1462h1v1h-1zM1073 700h1v1h-1zM859 362h1v1h-1zM571 453h1v1h-1zM921 157h1v1h-1zM530 1584h1v1h-1zM711 1250h1v1h-1zM620 574h1v1h-1zM706 763h1v1h-1zM996 336h1v1h-1zM542 1823h1v1h-1zM561 1836h1v1h-1zM782 901h1v1h-1zM772 1382h1v1h-1zM1040 379h1v1h-1zM709 1591h1v1h-1zM715 1485h1v1h-1zM921 1590h1v1h-1zM708 1217h1v1h-1zM514 40h1v1h-1zM648 1840h1v1h-1zM1099 693h1v1h-1zM705 1328h1v1h-1zM503 439h1v1h-1zM636 1606h1v1h-1zM534 1595h1v1h-1zM949 376h1v1h-1zM645 1691h1v1h-1zM707 1028h1v1h-1zM588 1831h1v1h-1zM685 43h1v1h-1zM653 499h1v1h-1zM900 376h1v1h-1zM613 54h1v1h-1zM569 1817h1v1h-1zM667 1831h1v1h-1zM930 1567h1v1h-1zM541 443h1v1h-1zM688 1545h1v1h-1zM588 375h1v1h-1zM704 995h1v1h-1zM935 599h1v1h-1zM544 448h1v1h-1zM935 190h1v1h-1zM698 1446h1v1h-1zM934 374h1v1h-1zM904 611h1v1h-1zM926 370h1v1h-1zM573 1823h1v1h-1zM721 904h1v1h-1zM902 1590h1v1h-1zM903 386h1v1h-1zM508 122h1v1h-1zM558 468h1v1h-1zM527 135h1v1h-1zM1013 374h1v1h-1zM772 1251h1v1h-1zM705 1161h1v1h-1zM749 184h1v1h-1zM601 57h1v1h-1zM707 1270h1v1h-1zM590 456h1v1h-1zM588 1844h1v1h-1zM559 60h1v1h-1zM481 549h1v1h-1zM1125 700h1v1h-1zM621 1841h1v1h-1zM1037 358h1v1h-1zM677 52h1v1h-1zM770 243h1v1h-1zM754 564h1v1h-1zM431 548h1v1h-1zM658 1759h1v1h-1zM765 1476h1v1h-1zM767 1522h1v1h-1zM629 1817h1v1h-1zM717 618h1v1h-1zM1066 1589h1v1h-1zM1152 695h1v1h-1zM957 599h1v1h-1zM714 878h1v1h-1zM708 1472h1v1h-1zM553 1598h1v1h-1zM686 401h1v1h-1zM651 1841h1v1h-1zM702 1169h1v1h-1zM586 54h1v1h-1zM877 1695h1v1h-1zM653 1801h1v1h-1zM540 1744h1v1h-1zM631 62h1v1h-1zM782 374h1v1h-1zM643 36h1v1h-1zM1036 376h1v1h-1zM629 1709h1v1h-1zM560 38h1v1h-1zM675 1825h1v1h-1zM708 690h1v1h-1zM705 1030h1v1h-1zM735 564h1v1h-1zM534 394h1v1h-1zM708 1184h1v1h-1zM713 1299h1v1h-1zM719 1193h1v1h-1zM649 1772h1v1h-1zM658 51h1v1h-1zM707 730h1v1h-1zM1122 680h1v1h-1zM480 130h1v1h-1zM893 448h1v1h-1zM712 1190h1v1h-1zM690 1580h1v1h-1zM1198 675h1v1h-1zM896 1685h1v1h-1zM489 135h1v1h-1zM499 408h1v1h-1zM698 883h1v1h-1zM864 1589h1v1h-1zM400 551h1v1h-1zM959 249h1v1h-1zM685 46h1v1h-1zM705 778h1v1h-1zM1067 1014h1v1h-1zM568 135h1v1h-1zM662 62h1v1h-1zM525 402h1v1h-1zM713 1276h1v1h-1zM557 125h1v1h-1zM706 1008h1v1h-1zM1170 697h1v1h-1zM790 1379h1v1h-1zM526 403h1v1h-1zM712 1576h1v1h-1zM507 124h1v1h-1zM1194 682h1v1h-1zM688 56h1v1h-1zM680 52h1v1h-1zM642 1746h1v1h-1zM1124 703h1v1h-1zM954 700h1v1h-1zM659 1835h1v1h-1zM508 125h1v1h-1zM558 471h1v1h-1zM651 1831h1v1h-1zM611 446h1v1h-1zM705 1393h1v1h-1zM461 538h1v1h-1zM558 62h1v1h-1zM534 1840h1v1h-1zM640 1821h1v1h-1zM631 52h1v1h-1zM715 1177h1v1h-1zM604 1755h1v1h-1zM697 900h1v1h-1zM766 505h1v1h-1zM590 1820h1v1h-1zM1098 686h1v1h-1zM422 552h1v1h-1zM897 1599h1v1h-1zM656 490h1v1h-1zM770 475h1v1h-1zM699 1089h1v1h-1zM513 441h1v1h-1zM989 370h1v1h-1zM1182 685h1v1h-1zM743 903h1v1h-1zM703 830h1v1h-1zM563 1839h1v1h-1zM750 762h1v1h-1zM529 1617h1v1h-1zM973 282h1v1h-1zM872 379h1v1h-1zM653 1732h1v1h-1zM602 375h1v1h-1zM680 1606h1v1h-1zM564 1840h1v1h-1zM717 621h1v1h-1zM757 657h1v1h-1zM704 651h1v1h-1zM465 140h1v1h-1zM713 1145h1v1h-1zM714 1110h1v1h-1zM957 602h1v1h-1zM715 660h1v1h-1zM577 52h1v1h-1zM705 1141h1v1h-1zM629 1640h1v1h-1zM684 35h1v1h-1zM802 1339h1v1h-1zM540 399h1v1h-1zM719 630h1v1h-1zM743 1024h1v1h-1zM606 381h1v1h-1zM661 51h1v1h-1zM878 1706h1v1h-1zM705 1406h1v1h-1zM629 1676h1v1h-1zM932 1597h1v1h-1zM711 1220h1v1h-1zM551 1842h1v1h-1zM590 1833h1v1h-1zM498 438h1v1h-1zM743 880h1v1h-1zM866 1588h1v1h-1zM780 273h1v1h-1zM529 1823h1v1h-1zM640 1690h1v1h-1zM552 1577h1v1h-1zM975 448h1v1h-1zM658 1824h1v1h-1zM403 551h1v1h-1zM1020 370h1v1h-1zM766 374h1v1h-1zM758 370h1v1h-1zM788 887h1v1h-1zM1171 688h1v1h-1zM545 1803h1v1h-1zM845 374h1v1h-1zM591 378h1v1h-1zM766 230h1v1h-1zM743 592h1v1h-1zM1072 1585h1v1h-1zM769 501h1v1h-1zM929 602h1v1h-1zM472 543h1v1h-1zM1189 678h1v1h-1zM570 1832h1v1h-1zM753 376h1v1h-1zM706 1384h1v1h-1zM685 1590h1v1h-1zM566 141h1v1h-1zM1166 694h1v1h-1zM556 393h1v1h-1zM611 63h1v1h-1zM414 538h1v1h-1zM735 773h1v1h-1zM550 53h1v1h-1zM542 49h1v1h-1zM1051 1009h1v1h-1zM707 1348h1v1h-1zM764 507h1v1h-1zM790 299h1v1h-1zM680 1596h1v1h-1zM772 776h1v1h-1zM554 59h1v1h-1zM708 1020h1v1h-1zM517 406h1v1h-1zM457 126h1v1h-1zM574 1843h1v1h-1zM1070 698h1v1h-1zM460 546h1v1h-1zM894 1561h1v1h-1zM701 1017h1v1h-1zM702 982h1v1h-1zM706 1361h1v1h-1zM605 375h1v1h-1zM510 403h1v1h-1zM509 438h1v1h-1zM952 599h1v1h-1zM703 1435h1v1h-1zM653 1843h1v1h-1zM559 1836h1v1h-1zM502 133h1v1h-1zM715 1180h1v1h-1zM1181 687h1v1h-1zM868 376h1v1h-1zM631 549h1v1h-1zM624 1556h1v1h-1zM595 1758h1v1h-1zM540 1822h1v1h-1zM654 1844h1v1h-1zM646 1840h1v1h-1zM699 912h1v1h-1zM637 34h1v1h-1zM754 1522h1v1h-1zM453 133h1v1h-1zM598 371h1v1h-1zM706 1073h1v1h-1zM940 602h1v1h-1zM705 1373h1v1h-1zM702 959h1v1h-1zM669 1828h1v1h-1zM764 376h1v1h-1zM751 1489h1v1h-1zM578 1826h1v1h-1zM514 121h1v1h-1zM697 880h1v1h-1zM548 1803h1v1h-1zM798 374h1v1h-1zM702 815h1v1h-1zM704 1413h1v1h-1zM750 1380h1v1h-1zM717 1203h1v1h-1zM665 1830h1v1h-1zM929 448h1v1h-1zM873 1716h1v1h-1zM974 370h1v1h-1zM519 55h1v1h-1zM698 1455h1v1h-1zM709 710h1v1h-1zM543 40h1v1h-1zM735 1522h1v1h-1zM680 1586h1v1h-1zM1101 676h1v1h-1zM558 1560h1v1h-1zM587 46h1v1h-1zM1007 1572h1v1h-1zM531 151h1v1h-1zM520 401h1v1h-1zM666 1687h1v1h-1zM588 47h1v1h-1zM585 387h1v1h-1zM707 1050h1v1h-1zM569 442h1v1h-1zM703 1425h1v1h-1zM643 1560h1v1h-1zM680 1707h1v1h-1zM693 1497h1v1h-1zM511 437h1v1h-1zM708 1131h1v1h-1zM1021 1591h1v1h-1zM629 1741h1v1h-1zM622 570h1v1h-1zM635 1821h1v1h-1zM505 134h1v1h-1zM709 687h1v1h-1zM717 1216h1v1h-1zM707 906h1v1h-1zM583 53h1v1h-1zM694 1461h1v1h-1zM888 1592h1v1h-1zM660 44h1v1h-1zM700 903h1v1h-1zM565 1841h1v1h-1zM539 1560h1v1h-1zM767 1567h1v1h-1zM814 367h1v1h-1zM702 949h1v1h-1zM599 33h1v1h-1zM743 1475h1v1h-1zM1068 1006h1v1h-1zM903 444h1v1h-1zM710 1069h1v1h-1zM578 1816h1v1h-1zM619 1817h1v1h-1zM716 1112h1v1h-1zM703 764h1v1h-1zM694 41h1v1h-1zM940 448h1v1h-1zM1060 1596h1v1h-1zM701 840h1v1h-1zM673 1824h1v1h-1zM718 1158h1v1h-1zM904 116h1v1h-1zM788 1482h1v1h-1zM532 1556h1v1h-1zM693 427h1v1h-1zM741 1141h1v1h-1zM615 1819h1v1h-1zM668 1831h1v1h-1zM517 121h1v1h-1zM979 295h1v1h-1zM802 599h1v1h-1zM680 1576h1v1h-1zM444 545h1v1h-1zM671 1756h1v1h-1zM779 386h1v1h-1zM873 1562h1v1h-1zM980 376h1v1h-1zM1064 1013h1v1h-1zM790 773h1v1h-1zM697 1485h1v1h-1zM785 286h1v1h-1zM711 1154h1v1h-1zM715 1124h1v1h-1zM736 918h1v1h-1zM718 641h1v1h-1zM638 532h1v1h-1zM806 345h1v1h-1zM707 1040h1v1h-1zM481 548h1v1h-1zM743 1488h1v1h-1zM698 928h1v1h-1zM680 1697h1v1h-1zM538 1842h1v1h-1zM840 374h1v1h-1zM709 1086h1v1h-1zM694 1186h1v1h-1zM664 1838h1v1h-1zM560 60h1v1h-1zM702 818h1v1h-1zM896 1586h1v1h-1zM736 1039h1v1h-1zM558 395h1v1h-1zM702 1312h1v1h-1zM619 374h1v1h-1zM1153 690h1v1h-1zM524 402h1v1h-1zM639 60h1v1h-1zM918 149h1v1h-1zM541 1623h1v1h-1zM556 62h1v1h-1zM707 752h1v1h-1zM587 49h1v1h-1zM702 1168h1v1h-1zM555 1823h1v1h-1zM568 1842h1v1h-1zM550 396h1v1h-1zM586 53h1v1h-1zM1198 697h1v1h-1zM993 328h1v1h-1zM615 376h1v1h-1zM958 370h1v1h-1zM456 123h1v1h-1zM721 772h1v1h-1zM642 1562h1v1h-1zM701 1468h1v1h-1zM1009 1584h1v1h-1zM702 1204h1v1h-1zM538 1590h1v1h-1zM709 1063h1v1h-1zM640 60h1v1h-1zM542 1560h1v1h-1zM600 1830h1v1h-1zM706 765h1v1h-1zM775 370h1v1h-1zM550 1829h1v1h-1zM476 568h1v1h-1zM676 1825h1v1h-1zM666 54h1v1h-1zM1191 693h1v1h-1zM529 1626h1v1h-1zM658 50h1v1h-1zM660 1817h1v1h-1zM697 1210h1v1h-1zM703 1104h1v1h-1zM645 1837h1v1h-1zM881 1556h1v1h-1zM706 1295h1v1h-1zM530 395h1v1h-1zM946 602h1v1h-1zM1058 1597h1v1h-1zM659 51h1v1h-1zM770 376h1v1h-1zM934 664h1v1h-1zM628 63h1v1h-1zM559 49h1v1h-1zM706 1151h1v1h-1zM843 1565h1v1h-1zM700 991h1v1h-1zM1044 1555h1v1h-1zM761 592h1v1h-1zM680 1687h1v1h-1zM705 777h1v1h-1zM611 1816h1v1h-1zM709 1305h1v1h-1zM534 141h1v1h-1zM892 374h1v1h-1zM960 1561h1v1h-1zM718 1161h1v1h-1zM700 847h1v1h-1zM573 1560h1v1h-1zM540 1612h1v1h-1zM680 1772h1v1h-1zM607 390h1v1h-1zM1020 379h1v1h-1zM639 50h1v1h-1zM706 1043h1v1h-1zM626 1837h1v1h-1zM969 599h1v1h-1zM447 145h1v1h-1zM704 1082h1v1h-1zM767 235h1v1h-1zM576 1836h1v1h-1zM713 1167h1v1h-1zM877 1684h1v1h-1zM703 1382h1v1h-1zM477 136h1v1h-1zM427 544h1v1h-1zM579 1761h1v1h-1zM788 294h1v1h-1zM1175 703h1v1h-1zM1148 686h1v1h-1zM632 46h1v1h-1zM473 547h1v1h-1zM509 61h1v1h-1zM704 974h1v1h-1zM709 1318h1v1h-1zM693 407h1v1h-1zM756 1250h1v1h-1zM615 1799h1v1h-1zM710 725h1v1h-1zM714 1253h1v1h-1zM682 397h1v1h-1zM514 441h1v1h-1zM998 374h1v1h-1zM574 455h1v1h-1zM714 615h1v1h-1zM716 1213h1v1h-1zM781 376h1v1h-1zM532 1621h1v1h-1zM457 544h1v1h-1zM645 515h1v1h-1zM545 1560h1v1h-1zM465 139h1v1h-1zM721 919h1v1h-1zM821 448h1v1h-1zM680 1641h1v1h-1zM651 1843h1v1h-1zM430 563h1v1h-1zM1175 680h1v1h-1zM994 376h1v1h-1zM1100 686h1v1h-1zM1113 705h1v1h-1zM622 1816h1v1h-1zM586 56h1v1h-1zM564 383h1v1h-1zM716 660h1v1h-1zM708 656h1v1h-1zM991 599h1v1h-1zM685 35h1v1h-1zM698 908h1v1h-1zM517 42h1v1h-1zM949 224h1v1h-1zM520 47h1v1h-1zM635 34h1v1h-1zM662 51h1v1h-1zM865 1579h1v1h-1zM1126 680h1v1h-1zM648 1544h1v1h-1zM963 1556h1v1h-1zM568 389h1v1h-1zM453 551h1v1h-1zM680 1762h1v1h-1zM715 1225h1v1h-1zM756 1263h1v1h-1zM644 1839h1v1h-1zM572 1820h1v1h-1zM1174 693h1v1h-1zM750 774h1v1h-1zM705 1297h1v1h-1zM488 545h1v1h-1zM658 53h1v1h-1zM943 680h1v1h-1zM558 1772h1v1h-1zM618 1823h1v1h-1zM539 447h1v1h-1zM636 34h1v1h-1zM701 1412h1v1h-1zM514 45h1v1h-1zM1029 374h1v1h-1zM1008 1563h1v1h-1zM636 1840h1v1h-1zM717 1127h1v1h-1zM701 1448h1v1h-1zM750 895h1v1h-1zM629 1688h1v1h-1zM475 547h1v1h-1zM838 370h1v1h-1zM450 145h1v1h-1zM627 1764h1v1h-1zM711 1232h1v1h-1zM613 1829h1v1h-1zM1083 695h1v1h-1zM527 1560h1v1h-1zM713 604h1v1h-1zM700 1488h1v1h-1zM654 60h1v1h-1zM707 1347h1v1h-1zM713 1278h1v1h-1zM770 500h1v1h-1zM963 257h1v1h-1zM616 33h1v1h-1zM621 377h1v1h-1zM916 145h1v1h-1zM583 1842h1v1h-1zM717 610h1v1h-1zM595 1816h1v1h-1zM680 54h1v1h-1zM1124 705h1v1h-1zM697 1455h1v1h-1zM729 1487h1v1h-1zM991 324h1v1h-1zM1002 599h1v1h-1zM680 1631h1v1h-1zM714 1364h1v1h-1zM765 506h1v1h-1zM567 33h1v1h-1zM643 1749h1v1h-1zM778 1528h1v1h-1zM701 787h1v1h-1zM505 58h1v1h-1zM575 382h1v1h-1zM717 1140h1v1h-1zM711 1209h1v1h-1zM513 407h1v1h-1zM710 1101h1v1h-1zM677 1827h1v1h-1zM610 376h1v1h-1zM705 1251h1v1h-1zM898 1566h1v1h-1zM729 1379h1v1h-1zM680 1752h1v1h-1zM625 1816h1v1h-1zM748 1249h1v1h-1zM563 1841h1v1h-1zM893 1716h1v1h-1zM688 35h1v1h-1zM655 1844h1v1h-1zM777 1541h1v1h-1zM647 1840h1v1h-1zM695 568h1v1h-1zM775 448h1v1h-1zM735 1544h1v1h-1zM608 42h1v1h-1zM597 1839h1v1h-1zM912 1585h1v1h-1zM643 1726h1v1h-1zM715 662h1v1h-1zM674 1564h1v1h-1zM717 1117h1v1h-1zM586 1829h1v1h-1zM719 632h1v1h-1zM930 178h1v1h-1zM642 40h1v1h-1zM833 1557h1v1h-1zM584 444h1v1h-1zM700 1442h1v1h-1zM750 1559h1v1h-1zM924 1595h1v1h-1zM592 39h1v1h-1zM784 389h1v1h-1zM991 602h1v1h-1zM595 373h1v1h-1zM509 41h1v1h-1zM579 1826h1v1h-1zM1209 681h1v1h-1zM703 809h1v1h-1zM452 144h1v1h-1zM713 1268h1v1h-1zM872 358h1v1h-1zM468 125h1v1h-1zM536 143h1v1h-1zM936 379h1v1h-1zM785 884h1v1h-1zM748 179h1v1h-1zM1093 1000h1v1h-1zM544 1575h1v1h-1zM551 388h1v1h-1zM705 1120h1v1h-1zM1054 1008h1v1h-1zM657 60h1v1h-1zM680 1621h1v1h-1zM641 52h1v1h-1zM588 46h1v1h-1zM786 290h1v1h-1zM705 1385h1v1h-1zM1089 1002h1v1h-1zM669 1840h1v1h-1zM643 1559h1v1h-1zM594 385h1v1h-1zM776 362h1v1h-1zM698 34h1v1h-1zM969 1580h1v1h-1zM970 376h1v1h-1zM1106 682h1v1h-1zM987 316h1v1h-1zM710 682h1v1h-1zM472 136h1v1h-1zM713 1245h1v1h-1zM740 1262h1v1h-1zM776 1530h1v1h-1zM680 1742h1v1h-1zM944 211h1v1h-1zM665 1842h1v1h-1zM808 350h1v1h-1zM705 603h1v1h-1zM893 1706h1v1h-1zM709 722h1v1h-1zM1037 1570h1v1h-1zM1011 386h1v1h-1zM830 374h1v1h-1zM765 882h1v1h-1zM617 1807h1v1h-1zM628 1816h1v1h-1zM580 1776h1v1h-1zM870 1578h1v1h-1zM1049 1580h1v1h-1zM715 1146h1v1h-1zM697 869h1v1h-1zM702 984h1v1h-1zM528 1585h1v1h-1zM642 524h1v1h-1zM704 1173h1v1h-1zM715 1182h1v1h-1zM623 1822h1v1h-1zM852 370h1v1h-1zM986 599h1v1h-1zM617 387h1v1h-1zM708 734h1v1h-1zM497 142h1v1h-1zM540 1824h1v1h-1zM743 1366h1v1h-1zM487 128h1v1h-1zM585 1832h1v1h-1zM562 42h1v1h-1zM564 1809h1v1h-1zM658 1816h1v1h-1zM1001 349h1v1h-1zM597 1806h1v1h-1zM596 1841h1v1h-1zM988 379h1v1h-1zM650 1732h1v1h-1zM1192 703h1v1h-1zM700 915h1v1h-1zM772 1020h1v1h-1zM788 1373h1v1h-1zM513 122h1v1h-1zM696 881h1v1h-1zM705 1375h1v1h-1zM701 996h1v1h-1zM708 626h1v1h-1zM567 1819h1v1h-1zM757 1156h1v1h-1zM877 1716h1v1h-1zM719 635h1v1h-1zM977 1592h1v1h-1zM697 882h1v1h-1zM704 741h1v1h-1zM1108 681h1v1h-1zM709 1350h1v1h-1zM749 1157h1v1h-1zM558 394h1v1h-1zM1084 998h1v1h-1zM713 1091h1v1h-1zM627 1842h1v1h-1zM870 1712h1v1h-1zM804 455h1v1h-1zM647 1820h1v1h-1zM700 892h1v1h-1zM715 1280h1v1h-1zM908 1595h1v1h-1zM882 374h1v1h-1zM444 557h1v1h-1zM505 424h1v1h-1zM587 48h1v1h-1zM913 627h1v1h-1zM658 1649h1v1h-1zM512 54h1v1h-1zM555 1822h1v1h-1zM715 642h1v1h-1zM1067 1588h1v1h-1zM547 1589h1v1h-1zM539 1585h1v1h-1zM577 1840h1v1h-1zM588 49h1v1h-1zM699 1457h1v1h-1zM968 270h1v1h-1zM718 653h1v1h-1zM549 1598h1v1h-1zM703 1427h1v1h-1zM949 1568h1v1h-1zM695 1572h1v1h-1zM866 1570h1v1h-1zM1214 676h1v1h-1zM643 1827h1v1h-1zM772 1154h1v1h-1zM542 54h1v1h-1zM585 1822h1v1h-1zM712 694h1v1h-1zM596 1831h1v1h-1zM707 1173h1v1h-1zM693 43h1v1h-1zM608 1805h1v1h-1zM535 1592h1v1h-1zM1011 389h1v1h-1zM700 905h1v1h-1zM975 286h1v1h-1zM589 1828h1v1h-1zM987 1572h1v1h-1zM622 1825h1v1h-1zM641 1838h1v1h-1zM536 1556h1v1h-1zM1033 376h1v1h-1zM668 1712h1v1h-1zM653 1812h1v1h-1zM654 1777h1v1h-1zM557 38h1v1h-1zM776 1245h1v1h-1zM715 1149h1v1h-1zM1076 374h1v1h-1zM631 1830h1v1h-1zM901 1654h1v1h-1zM507 37h1v1h-1zM707 1294h1v1h-1zM729 904h1v1h-1zM529 1782h1v1h-1zM806 370h1v1h-1zM705 1221h1v1h-1zM675 1836h1v1h-1zM702 807h1v1h-1zM712 1080h1v1h-1zM785 1479h1v1h-1zM535 401h1v1h-1zM615 1556h1v1h-1zM1203 680h1v1h-1zM984 376h1v1h-1zM612 1816h1v1h-1zM982 303h1v1h-1zM901 607h1v1h-1zM761 218h1v1h-1zM865 1624h1v1h-1zM746 175h1v1h-1zM1078 685h1v1h-1zM711 1120h1v1h-1zM782 277h1v1h-1zM768 379h1v1h-1zM729 1025h1v1h-1zM602 1744h1v1h-1zM649 507h1v1h-1zM783 358h1v1h-1zM615 365h1v1h-1zM711 1156h1v1h-1zM714 673h1v1h-1zM1087 998h1v1h-1zM704 1397h1v1h-1zM714 1167h1v1h-1zM1032 1593h1v1h-1zM1199 687h1v1h-1zM703 1417h1v1h-1zM761 604h1v1h-1zM668 1545h1v1h-1zM677 53h1v1h-1zM619 1832h1v1h-1zM708 1352h1v1h-1zM1168 699h1v1h-1zM629 1733h1v1h-1zM656 1836h1v1h-1zM560 62h1v1h-1zM633 46h1v1h-1zM542 1585h1v1h-1zM784 444h1v1h-1zM708 714h1v1h-1zM581 1842h1v1h-1zM776 1343h1v1h-1zM583 45h1v1h-1zM709 1353h1v1h-1zM604 1825h1v1h-1zM716 1212h1v1h-1zM708 1208h1v1h-1zM670 1770h1v1h-1zM541 48h1v1h-1zM535 1582h1v1h-1zM544 53h1v1h-1zM549 397h1v1h-1zM697 1464h1v1h-1zM1044 376h1v1h-1zM533 1621h1v1h-1zM649 1832h1v1h-1zM706 1320h1v1h-1zM663 1587h1v1h-1zM588 1822h1v1h-1zM701 796h1v1h-1zM477 148h1v1h-1zM602 445h1v1h-1zM634 1560h1v1h-1zM704 1130h1v1h-1zM698 907h1v1h-1zM701 1470h1v1h-1zM867 599h1v1h-1zM708 1329h1v1h-1zM773 592h1v1h-1zM511 406h1v1h-1zM729 894h1v1h-1zM759 1560h1v1h-1zM1085 678h1v1h-1zM675 1826h1v1h-1zM667 1822h1v1h-1zM600 1832h1v1h-1zM1096 687h1v1h-1zM706 767h1v1h-1zM404 545h1v1h-1zM644 1838h1v1h-1zM689 40h1v1h-1zM699 1545h1v1h-1zM599 375h1v1h-1zM652 1699h1v1h-1zM1014 1557h1v1h-1zM765 1490h1v1h-1zM538 136h1v1h-1zM945 374h1v1h-1zM658 52h1v1h-1zM569 123h1v1h-1zM645 1839h1v1h-1zM561 119h1v1h-1zM956 240h1v1h-1zM820 379h1v1h-1zM703 1371h1v1h-1zM706 659h1v1h-1zM1175 692h1v1h-1zM630 1832h1v1h-1zM537 1604h1v1h-1zM622 1828h1v1h-1zM1090 999h1v1h-1zM569 1556h1v1h-1zM538 1834h1v1h-1zM606 1560h1v1h-1zM679 1544h1v1h-1zM700 1487h1v1h-1zM526 139h1v1h-1zM782 882h1v1h-1zM542 1575h1v1h-1zM1077 687h1v1h-1zM527 1824h1v1h-1zM710 1159h1v1h-1zM706 780h1v1h-1zM655 1601h1v1h-1zM715 1237h1v1h-1zM1060 1012h1v1h-1zM525 439h1v1h-1zM790 1151h1v1h-1zM712 1577h1v1h-1zM716 564h1v1h-1zM1130 698h1v1h-1zM1052 370h1v1h-1zM457 569h1v1h-1zM733 1556h1v1h-1zM477 547h1v1h-1zM637 1668h1v1h-1zM599 1821h1v1h-1zM717 1139h1v1h-1zM713 760h1v1h-1zM680 1666h1v1h-1zM1106 691h1v1h-1zM550 1556h1v1h-1zM1125 704h1v1h-1zM1047 376h1v1h-1zM1145 682h1v1h-1zM711 1244h1v1h-1zM563 34h1v1h-1zM956 374h1v1h-1zM644 1828h1v1h-1zM423 548h1v1h-1zM1062 1587h1v1h-1zM637 1560h1v1h-1zM707 1130h1v1h-1zM614 1842h1v1h-1zM680 1787h1v1h-1zM580 388h1v1h-1zM756 205h1v1h-1zM514 34h1v1h-1zM407 545h1v1h-1zM588 1560h1v1h-1zM502 59h1v1h-1zM430 565h1v1h-1zM1125 681h1v1h-1zM640 1835h1v1h-1zM646 1766h1v1h-1zM703 988h1v1h-1zM472 567h1v1h-1zM1047 389h1v1h-1zM1098 700h1v1h-1zM980 299h1v1h-1zM537 138h1v1h-1zM614 1819h1v1h-1zM702 620h1v1h-1zM816 376h1v1h-1zM1095 694h1v1h-1zM743 917h1v1h-1zM867 1590h1v1h-1zM886 1603h1v1h-1zM453 144h1v1h-1zM403 552h1v1h-1zM985 1582h1v1h-1zM956 1555h1v1h-1zM552 1843h1v1h-1zM446 550h1v1h-1zM589 41h1v1h-1zM1155 681h1v1h-1zM842 370h1v1h-1zM499 147h1v1h-1zM718 600h1v1h-1zM663 1567h1v1h-1zM628 1838h1v1h-1zM1011 444h1v1h-1zM1064 599h1v1h-1zM722 1473h1v1h-1zM698 887h1v1h-1zM586 1841h1v1h-1zM581 451h1v1h-1zM743 1038h1v1h-1zM929 374h1v1h-1zM633 1544h1v1h-1zM483 553h1v1h-1zM700 1454h1v1h-1zM522 401h1v1h-1zM748 564h1v1h-1zM509 53h1v1h-1zM1075 693h1v1h-1zM706 747h1v1h-1zM693 399h1v1h-1zM1008 374h1v1h-1zM676 50h1v1h-1zM506 127h1v1h-1zM484 554h1v1h-1zM1193 685h1v1h-1zM714 1245h1v1h-1zM743 894h1v1h-1zM559 139h1v1h-1zM663 1688h1v1h-1zM699 33h1v1h-1zM696 1456h1v1h-1zM680 1777h1v1h-1zM883 379h1v1h-1zM722 1365h1v1h-1zM758 1022h1v1h-1zM487 150h1v1h-1zM544 1587h1v1h-1zM559 404h1v1h-1zM1099 677h1v1h-1zM994 332h1v1h-1zM918 602h1v1h-1zM770 358h1v1h-1zM876 376h1v1h-1zM776 1192h1v1h-1zM640 1560h1v1h-1zM559 440h1v1h-1zM555 61h1v1h-1zM396 562h1v1h-1zM705 1397h1v1h-1zM702 983h1v1h-1zM611 41h1v1h-1zM419 545h1v1h-1zM703 1207h1v1h-1zM1083 674h1v1h-1zM705 759h1v1h-1zM704 1172h1v1h-1zM1036 599h1v1h-1zM719 1560h1v1h-1zM707 1326h1v1h-1zM591 1560h1v1h-1zM562 450h1v1h-1zM701 645h1v1h-1zM698 985h1v1h-1zM638 1757h1v1h-1zM1027 1569h1v1h-1zM537 393h1v1h-1zM702 1104h1v1h-1zM712 1148h1v1h-1zM541 1824h1v1h-1zM626 62h1v1h-1zM700 914h1v1h-1zM788 1143h1v1h-1zM571 391h1v1h-1zM629 1644h1v1h-1zM785 500h1v1h-1zM548 407h1v1h-1zM782 1477h1v1h-1zM537 1826h1v1h-1zM772 646h1v1h-1zM531 440h1v1h-1zM483 134h1v1h-1zM698 962h1v1h-1zM955 358h1v1h-1zM564 1556h1v1h-1zM484 135h1v1h-1zM601 391h1v1h-1zM760 564h1v1h-1zM1093 1002h1v1h-1zM1120 690h1v1h-1zM1124 697h1v1h-1zM884 599h1v1h-1zM574 1834h1v1h-1zM1054 1010h1v1h-1zM715 1544h1v1h-1zM700 1421h1v1h-1zM544 121h1v1h-1zM963 599h1v1h-1zM712 608h1v1h-1zM765 763h1v1h-1zM555 136h1v1h-1zM954 370h1v1h-1zM600 58h1v1h-1zM691 405h1v1h-1zM957 704h1v1h-1zM879 376h1v1h-1zM701 864h1v1h-1zM714 1212h1v1h-1zM584 50h1v1h-1zM752 192h1v1h-1zM474 556h1v1h-1zM617 376h1v1h-1zM665 1844h1v1h-1zM707 678h1v1h-1zM593 1825h1v1h-1zM543 1595h1v1h-1zM905 370h1v1h-1zM723 1562h1v1h-1zM699 939h1v1h-1zM704 1283h1v1h-1zM552 1823h1v1h-1zM1003 1579h1v1h-1zM448 539h1v1h-1zM449 126h1v1h-1zM992 374h1v1h-1zM716 1522h1v1h-1zM758 881h1v1h-1zM673 1560h1v1h-1zM418 553h1v1h-1zM618 578h1v1h-1zM699 1469h1v1h-1zM1146 697h1v1h-1zM701 841h1v1h-1zM797 320h1v1h-1zM772 901h1v1h-1zM707 655h1v1h-1zM1036 602h1v1h-1zM703 801h1v1h-1zM1069 370h1v1h-1zM567 123h1v1h-1zM818 379h1v1h-1zM707 920h1v1h-1zM666 1822h1v1h-1zM896 1610h1v1h-1zM698 1482h1v1h-1zM563 125h1v1h-1zM785 1370h1v1h-1zM630 35h1v1h-1zM580 443h1v1h-1zM716 1270h1v1h-1zM641 44h1v1h-1zM532 137h1v1h-1zM593 382h1v1h-1zM945 684h1v1h-1zM650 1819h1v1h-1zM1057 1011h1v1h-1zM890 376h1v1h-1zM562 394h1v1h-1zM761 374h1v1h-1zM1200 681h1v1h-1zM536 1833h1v1h-1zM485 147h1v1h-1zM718 1172h1v1h-1zM764 1139h1v1h-1zM699 893h1v1h-1zM660 35h1v1h-1zM893 386h1v1h-1zM1047 444h1v1h-1zM712 1128h1v1h-1zM713 1093h1v1h-1zM597 1556h1v1h-1zM924 602h1v1h-1zM669 1544h1v1h-1zM711 1132h1v1h-1zM716 1247h1v1h-1zM605 1825h1v1h-1zM1207 698h1v1h-1zM587 50h1v1h-1zM517 400h1v1h-1zM702 940h1v1h-1zM641 1827h1v1h-1zM772 1264h1v1h-1zM537 49h1v1h-1zM507 435h1v1h-1zM966 720h1v1h-1zM702 1205h1v1h-1zM605 369h1v1h-1zM701 831h1v1h-1zM688 403h1v1h-1zM390 560h1v1h-1zM907 1573h1v1h-1zM667 51h1v1h-1zM699 1544h1v1h-1zM561 1839h1v1h-1zM1105 691h1v1h-1zM711 1289h1v1h-1zM661 1697h1v1h-1zM699 906h1v1h-1zM710 1181h1v1h-1zM593 1828h1v1h-1zM712 696h1v1h-1zM580 397h1v1h-1zM570 383h1v1h-1zM1000 345h1v1h-1zM659 52h1v1h-1zM531 132h1v1h-1zM714 662h1v1h-1zM708 1485h1v1h-1zM526 53h1v1h-1zM764 370h1v1h-1zM765 1381h1v1h-1zM406 545h1v1h-1zM942 376h1v1h-1zM703 997h1v1h-1zM773 604h1v1h-1zM1195 705h1v1h-1zM451 553h1v1h-1zM566 125h1v1h-1zM927 1565h1v1h-1zM714 1192h1v1h-1zM550 1578h1v1h-1zM597 378h1v1h-1zM675 1838h1v1h-1zM730 1545h1v1h-1zM764 226h1v1h-1zM1061 1007h1v1h-1zM790 1559h1v1h-1zM592 1840h1v1h-1zM527 1594h1v1h-1zM935 602h1v1h-1zM584 1836h1v1h-1zM709 1342h1v1h-1zM976 374h1v1h-1zM968 370h1v1h-1zM636 1766h1v1h-1zM643 1662h1v1h-1zM771 499h1v1h-1zM903 389h1v1h-1zM625 561h1v1h-1zM734 1142h1v1h-1zM866 358h1v1h-1zM478 133h1v1h-1zM703 1383h1v1h-1zM844 376h1v1h-1zM764 1250h1v1h-1zM1079 996h1v1h-1zM650 1822h1v1h-1zM571 446h1v1h-1zM710 1544h1v1h-1zM580 1843h1v1h-1zM726 1143h1v1h-1zM809 354h1v1h-1zM768 502h1v1h-1zM702 1460h1v1h-1zM1176 705h1v1h-1zM708 1354h1v1h-1zM975 386h1v1h-1zM552 1744h1v1h-1zM786 370h1v1h-1zM561 1829h1v1h-1zM711 1279h1v1h-1zM432 552h1v1h-1zM715 1249h1v1h-1zM652 1724h1v1h-1zM466 136h1v1h-1zM758 1476h1v1h-1zM565 1835h1v1h-1zM706 648h1v1h-1zM610 1843h1v1h-1zM715 1105h1v1h-1zM718 622h1v1h-1zM1100 687h1v1h-1zM725 1564h1v1h-1zM604 371h1v1h-1zM586 57h1v1h-1zM824 374h1v1h-1zM764 1263h1v1h-1zM713 772h1v1h-1zM546 1827h1v1h-1zM895 1566h1v1h-1zM899 1716h1v1h-1zM602 1844h1v1h-1zM420 555h1v1h-1zM709 1561h1v1h-1zM816 375h1v1h-1zM607 381h1v1h-1zM715 1226h1v1h-1zM901 599h1v1h-1zM714 1267h1v1h-1zM1066 1569h1v1h-1zM658 54h1v1h-1zM446 549h1v1h-1zM1141 696h1v1h-1zM733 642h1v1h-1zM592 374h1v1h-1zM499 146h1v1h-1zM587 1836h1v1h-1zM790 1261h1v1h-1zM709 1044h1v1h-1zM632 37h1v1h-1zM1082 997h1v1h-1zM517 56h1v1h-1zM702 1450h1v1h-1zM948 688h1v1h-1zM1149 678h1v1h-1zM1002 1562h1v1h-1zM922 370h1v1h-1zM1107 681h1v1h-1zM911 1560h1v1h-1zM666 35h1v1h-1zM699 886h1v1h-1zM404 560h1v1h-1zM616 34h1v1h-1zM1099 676h1v1h-1zM720 1174h1v1h-1zM1119 691h1v1h-1zM765 916h1v1h-1zM701 1426h1v1h-1zM714 1545h1v1h-1zM711 716h1v1h-1zM708 1056h1v1h-1zM586 47h1v1h-1zM960 374h1v1h-1zM674 1817h1v1h-1zM664 1544h1v1h-1zM689 405h1v1h-1zM419 544h1v1h-1zM652 1835h1v1h-1zM696 35h1v1h-1zM929 386h1v1h-1zM610 377h1v1h-1zM551 62h1v1h-1zM712 1062h1v1h-1zM612 41h1v1h-1zM777 374h1v1h-1zM1149 691h1v1h-1zM975 389h1v1h-1zM632 544h1v1h-1zM607 371h1v1h-1zM914 379h1v1h-1zM725 592h1v1h-1zM713 1292h1v1h-1zM658 44h1v1h-1zM762 510h1v1h-1zM697 1433h1v1h-1zM457 548h1v1h-1zM556 1839h1v1h-1zM711 693h1v1h-1zM743 762h1v1h-1zM671 1560h1v1h-1zM1205 707h1v1h-1zM1152 701h1v1h-1zM936 668h1v1h-1zM545 1829h1v1h-1zM1009 1555h1v1h-1zM559 452h1v1h-1zM551 448h1v1h-1zM714 1378h1v1h-1zM674 1830h1v1h-1zM716 664h1v1h-1zM450 136h1v1h-1zM788 769h1v1h-1zM548 442h1v1h-1zM755 592h1v1h-1zM461 145h1v1h-1zM676 448h1v1h-1zM762 222h1v1h-1zM692 572h1v1h-1zM1160 677h1v1h-1zM700 1479h1v1h-1zM537 140h1v1h-1zM487 548h1v1h-1zM527 1816h1v1h-1zM1129 689h1v1h-1zM711 1079h1v1h-1zM782 1368h1v1h-1zM552 1580h1v1h-1zM639 1585h1v1h-1zM800 370h1v1h-1zM598 384h1v1h-1zM642 1739h1v1h-1zM784 282h1v1h-1zM1044 358h1v1h-1zM446 552h1v1h-1zM937 195h1v1h-1zM553 1581h1v1h-1zM735 1558h1v1h-1zM651 1824h1v1h-1zM754 1571h1v1h-1zM1043 362h1v1h-1zM940 386h1v1h-1zM629 1656h1v1h-1zM558 55h1v1h-1zM528 441h1v1h-1zM1156 684h1v1h-1zM795 376h1v1h-1zM600 466h1v1h-1zM532 411h1v1h-1zM703 967h1v1h-1zM772 658h1v1h-1zM699 1491h1v1h-1zM602 1824h1v1h-1zM621 1837h1v1h-1zM592 53h1v1h-1zM565 1756h1v1h-1zM715 1206h1v1h-1zM880 1688h1v1h-1zM627 47h1v1h-1zM717 1252h1v1h-1zM532 1844h1v1h-1zM703 1317h1v1h-1zM1076 696h1v1h-1zM457 538h1v1h-1zM554 62h1v1h-1zM714 1103h1v1h-1zM924 647h1v1h-1zM877 1655h1v1h-1zM1144 687h1v1h-1zM735 1571h1v1h-1zM704 680h1v1h-1zM388 560h1v1h-1zM952 602h1v1h-1zM897 1569h1v1h-1zM575 386h1v1h-1zM985 370h1v1h-1zM1011 1591h1v1h-1zM536 49h1v1h-1zM910 376h1v1h-1zM765 775h1v1h-1zM716 1148h1v1h-1zM714 1224h1v1h-1zM433 567h1v1h-1zM1129 679h1v1h-1zM698 987h1v1h-1zM646 1843h1v1h-1zM688 1580h1v1h-1zM936 370h1v1h-1zM624 1824h1v1h-1zM698 1481h1v1h-1zM711 1334h1v1h-1zM718 1230h1v1h-1zM951 1581h1v1h-1zM785 1140h1v1h-1zM657 51h1v1h-1zM800 1528h1v1h-1zM747 1522h1v1h-1zM546 449h1v1h-1zM570 1560h1v1h-1zM705 1376h1v1h-1zM706 1341h1v1h-1zM564 125h1v1h-1zM899 603h1v1h-1zM634 40h1v1h-1zM913 1590h1v1h-1zM714 1201h1v1h-1zM613 1823h1v1h-1zM560 1817h1v1h-1zM399 551h1v1h-1zM1016 370h1v1h-1zM1181 703h1v1h-1zM561 55h1v1h-1zM1201 681h1v1h-1zM754 370h1v1h-1zM709 1122h1v1h-1zM776 883h1v1h-1zM523 437h1v1h-1zM702 854h1v1h-1zM717 1242h1v1h-1zM743 1380h1v1h-1zM637 50h1v1h-1zM556 1819h1v1h-1zM616 1833h1v1h-1zM590 383h1v1h-1zM504 51h1v1h-1zM829 1568h1v1h-1zM622 43h1v1h-1zM690 61h1v1h-1zM551 1560h1v1h-1zM699 1458h1v1h-1zM792 374h1v1h-1zM574 380h1v1h-1zM764 657h1v1h-1zM891 1664h1v1h-1zM584 52h1v1h-1zM997 599h1v1h-1zM717 1219h1v1h-1zM601 370h1v1h-1zM680 1566h1v1h-1zM703 646h1v1h-1zM565 38h1v1h-1zM709 726h1v1h-1zM700 906h1v1h-1zM629 1636h1v1h-1zM629 553h1v1h-1zM669 1821h1v1h-1zM490 129h1v1h-1zM758 209h1v1h-1zM661 1588h1v1h-1zM558 1841h1v1h-1zM743 166h1v1h-1zM546 1607h1v1h-1zM697 873h1v1h-1zM536 1822h1v1h-1zM470 565h1v1h-1zM566 124h1v1h-1zM582 1560h1v1h-1zM790 655h1v1h-1zM483 126h1v1h-1zM710 1337h1v1h-1zM730 1544h1v1h-1zM788 1256h1v1h-1zM519 48h1v1h-1zM708 738h1v1h-1zM736 1474h1v1h-1zM1097 699h1v1h-1zM905 120h1v1h-1zM1073 1016h1v1h-1zM528 133h1v1h-1zM821 386h1v1h-1zM1050 358h1v1h-1zM975 444h1v1h-1zM585 1836h1v1h-1zM779 389h1v1h-1zM568 1783h1v1h-1zM715 633h1v1h-1zM705 1114h1v1h-1zM588 449h1v1h-1zM803 337h1v1h-1zM716 1272h1v1h-1zM705 705h1v1h-1zM714 1577h1v1h-1zM906 615h1v1h-1zM937 1585h1v1h-1zM989 320h1v1h-1zM954 362h1v1h-1zM643 1818h1v1h-1zM702 821h1v1h-1zM912 136h1v1h-1zM554 1560h1v1h-1zM547 389h1v1h-1zM680 1556h1v1h-1zM620 1770h1v1h-1zM397 566h1v1h-1zM729 1039h1v1h-1zM649 1833h1v1h-1zM701 977h1v1h-1zM1000 370h1v1h-1zM394 560h1v1h-1zM661 1807h1v1h-1zM919 153h1v1h-1zM607 1836h1v1h-1zM456 126h1v1h-1zM680 1677h1v1h-1zM927 651h1v1h-1zM631 1821h1v1h-1zM640 63h1v1h-1zM695 902h1v1h-1zM504 139h1v1h-1zM481 564h1v1h-1zM1085 679h1v1h-1zM817 370h1v1h-1zM758 1367h1v1h-1zM600 1833h1v1h-1zM705 803h1v1h-1zM703 1022h1v1h-1zM1072 1005h1v1h-1zM1180 687h1v1h-1zM627 1823h1v1h-1zM660 1820h1v1h-1zM463 143h1v1h-1zM682 410h1v1h-1zM455 139h1v1h-1zM975 1566h1v1h-1zM768 370h1v1h-1zM812 376h1v1h-1zM697 575h1v1h-1zM569 389h1v1h-1zM714 893h1v1h-1zM561 385h1v1h-1zM690 41h1v1h-1zM1142 696h1v1h-1zM658 1666h1v1h-1zM786 503h1v1h-1zM701 1219h1v1h-1zM538 438h1v1h-1zM700 1403h1v1h-1zM779 1547h1v1h-1zM622 1829h1v1h-1zM536 1560h1v1h-1zM590 448h1v1h-1zM707 1033h1v1h-1zM705 1189h1v1h-1zM582 444h1v1h-1zM843 1568h1v1h-1zM710 1304h1v1h-1zM546 1839h1v1h-1zM802 978h1v1h-1zM591 449h1v1h-1zM700 1259h1v1h-1zM592 1842h1v1h-1zM527 1596h1v1h-1zM929 444h1v1h-1zM697 961h1v1h-1zM1153 683h1v1h-1zM701 931h1v1h-1zM707 745h1v1h-1zM581 377h1v1h-1zM915 631h1v1h-1zM709 1200h1v1h-1zM878 1646h1v1h-1zM461 540h1v1h-1zM607 1826h1v1h-1zM790 370h1v1h-1zM554 130h1v1h-1zM1081 699h1v1h-1zM629 1701h1v1h-1zM613 36h1v1h-1zM705 1202h1v1h-1zM893 90h1v1h-1zM949 1562h1v1h-1zM705 793h1v1h-1zM706 758h1v1h-1zM710 1137h1v1h-1zM709 1321h1v1h-1zM603 1828h1v1h-1zM572 449h1v1h-1zM702 1053h1v1h-1zM455 538h1v1h-1zM784 448h1v1h-1zM1040 374h1v1h-1zM614 1843h1v1h-1zM715 1251h1v1h-1zM580 389h1v1h-1zM875 1618h1v1h-1zM648 1835h1v1h-1zM659 44h1v1h-1zM1075 1005h1v1h-1zM877 1664h1v1h-1zM507 404h1v1h-1zM701 1438h1v1h-1zM694 904h1v1h-1zM537 54h1v1h-1zM798 324h1v1h-1zM704 1363h1v1h-1zM580 1822h1v1h-1zM599 1835h1v1h-1zM693 1470h1v1h-1zM940 444h1v1h-1zM485 129h1v1h-1zM560 43h1v1h-1zM1126 683h1v1h-1zM1145 696h1v1h-1zM711 1258h1v1h-1zM909 1588h1v1h-1zM706 771h1v1h-1zM748 1262h1v1h-1zM782 1138h1v1h-1zM542 1831h1v1h-1zM1172 686h1v1h-1zM714 1040h1v1h-1zM660 1823h1v1h-1zM480 544h1v1h-1zM711 1114h1v1h-1zM1071 374h1v1h-1zM854 376h1v1h-1zM526 431h1v1h-1zM696 842h1v1h-1zM574 62h1v1h-1zM743 774h1v1h-1zM587 1838h1v1h-1zM607 1816h1v1h-1zM710 1271h1v1h-1zM758 902h1v1h-1zM500 149h1v1h-1zM704 702h1v1h-1zM707 1265h1v1h-1zM911 623h1v1h-1zM706 1386h1v1h-1zM959 1566h1v1h-1zM1052 1586h1v1h-1zM1058 376h1v1h-1zM699 852h1v1h-1zM706 748h1v1h-1zM700 1491h1v1h-1zM692 1487h1v1h-1zM688 61h1v1h-1zM701 934h1v1h-1zM967 379h1v1h-1zM918 374h1v1h-1zM696 1493h1v1h-1zM1152 690h1v1h-1zM605 63h1v1h-1zM661 1764h1v1h-1zM699 973h1v1h-1zM1155 695h1v1h-1zM779 444h1v1h-1zM826 376h1v1h-1zM960 376h1v1h-1zM702 755h1v1h-1zM570 41h1v1h-1zM702 1429h1v1h-1zM709 1059h1v1h-1zM705 1025h1v1h-1zM563 38h1v1h-1zM568 382h1v1h-1zM713 620h1v1h-1zM651 1728h1v1h-1zM521 41h1v1h-1zM540 54h1v1h-1zM644 520h1v1h-1zM589 1753h1v1h-1zM583 1822h1v1h-1zM706 1255h1v1h-1zM594 1831h1v1h-1zM862 599h1v1h-1zM626 1820h1v1h-1zM438 537h1v1h-1zM709 1180h1v1h-1zM680 1611h1v1h-1zM514 38h1v1h-1zM711 695h1v1h-1zM861 374h1v1h-1zM556 1841h1v1h-1zM595 1832h1v1h-1zM695 607h1v1h-1zM545 1831h1v1h-1zM671 1827h1v1h-1zM785 766h1v1h-1zM893 1611h1v1h-1zM705 1411h1v1h-1zM564 389h1v1h-1zM655 1559h1v1h-1zM548 1841h1v1h-1zM612 56h1v1h-1zM548 1612h1v1h-1zM540 1837h1v1h-1zM1129 691h1v1h-1zM895 1656h1v1h-1zM495 145h1v1h-1zM572 1826h1v1h-1zM562 55h1v1h-1zM704 813h1v1h-1zM806 452h1v1h-1zM1124 698h1v1h-1zM728 761h1v1h-1zM699 963h1v1h-1zM704 1307h1v1h-1zM674 1544h1v1h-1zM589 45h1v1h-1zM657 63h1v1h-1zM430 546h1v1h-1zM539 44h1v1h-1zM1071 691h1v1h-1zM1012 376h1v1h-1zM520 439h1v1h-1zM521 404h1v1h-1zM720 613h1v1h-1zM891 86h1v1h-1zM1014 602h1v1h-1zM662 34h1v1h-1zM1055 374h1v1h-1zM1047 599h1v1h-1zM564 402h1v1h-1zM600 59h1v1h-1zM621 1839h1v1h-1zM560 1829h1v1h-1zM863 1601h1v1h-1zM961 712h1v1h-1zM728 1556h1v1h-1zM873 599h1v1h-1zM565 446h1v1h-1zM1174 676h1v1h-1zM704 790h1v1h-1zM773 252h1v1h-1zM776 1569h1v1h-1zM1068 694h1v1h-1zM629 58h1v1h-1zM898 103h1v1h-1zM680 1601h1v1h-1zM1120 704h1v1h-1zM794 311h1v1h-1zM1152 693h1v1h-1zM770 362h1v1h-1zM702 1396h1v1h-1zM600 445h1v1h-1zM680 1722h1v1h-1zM590 1828h1v1h-1zM700 1471h1v1h-1zM703 802h1v1h-1zM559 120h1v1h-1zM986 602h1v1h-1zM702 843h1v1h-1zM540 1827h1v1h-1zM604 42h1v1h-1zM1030 379h1v1h-1zM610 58h1v1h-1zM588 448h1v1h-1zM895 599h1v1h-1zM529 133h1v1h-1zM629 1648h1v1h-1zM715 1162h1v1h-1zM555 127h1v1h-1zM697 885h1v1h-1zM581 36h1v1h-1zM712 1273h1v1h-1zM713 1238h1v1h-1zM714 1203h1v1h-1zM701 855h1v1h-1zM762 456h1v1h-1zM772 915h1v1h-1zM895 1623h1v1h-1zM678 1545h1v1h-1zM1059 599h1v1h-1zM548 1844h1v1h-1zM1159 686h1v1h-1zM785 1528h1v1h-1zM709 715h1v1h-1zM711 1313h1v1h-1zM924 374h1v1h-1zM700 895h1v1h-1zM628 1544h1v1h-1zM916 370h1v1h-1zM647 511h1v1h-1zM680 1591h1v1h-1zM716 1248h1v1h-1zM605 1826h1v1h-1zM616 1835h1v1h-1zM799 379h1v1h-1zM609 1796h1v1h-1zM1165 702h1v1h-1zM504 53h1v1h-1zM638 53h1v1h-1zM460 541h1v1h-1zM1030 1560h1v1h-1zM1102 682h1v1h-1zM904 1600h1v1h-1zM792 376h1v1h-1zM642 1829h1v1h-1zM1071 694h1v1h-1zM1060 1588h1v1h-1zM616 379h1v1h-1zM502 128h1v1h-1zM720 616h1v1h-1zM704 1166h1v1h-1zM715 1175h1v1h-1zM757 763h1v1h-1zM1047 602h1v1h-1zM585 1560h1v1h-1zM577 387h1v1h-1zM614 46h1v1h-1zM554 440h1v1h-1zM550 61h1v1h-1zM1203 706h1v1h-1zM583 58h1v1h-1zM391 562h1v1h-1zM707 1176h1v1h-1zM709 728h1v1h-1zM706 1068h1v1h-1zM1031 370h1v1h-1zM540 132h1v1h-1zM546 441h1v1h-1zM578 1556h1v1h-1zM459 144h1v1h-1zM1075 376h1v1h-1zM549 1758h1v1h-1zM701 989h1v1h-1zM608 1844h1v1h-1zM547 1834h1v1h-1zM707 1032h1v1h-1zM1177 689h1v1h-1zM856 374h1v1h-1zM1146 701h1v1h-1zM938 672h1v1h-1zM686 42h1v1h-1zM634 1838h1v1h-1zM749 656h1v1h-1zM543 408h1v1h-1zM1026 376h1v1h-1zM704 1408h1v1h-1zM785 1253h1v1h-1zM646 1812h1v1h-1zM516 125h1v1h-1zM876 1600h1v1h-1zM584 1837h1v1h-1zM704 999h1v1h-1zM508 41h1v1h-1zM702 846h1v1h-1zM1172 695h1v1h-1zM1072 379h1v1h-1zM616 1560h1v1h-1zM668 1836h1v1h-1zM810 379h1v1h-1zM821 388h1v1h-1zM695 1444h1v1h-1zM680 1581h1v1h-1zM535 1837h1v1h-1zM697 1490h1v1h-1zM569 401h1v1h-1zM672 1842h1v1h-1zM567 1560h1v1h-1zM534 1612h1v1h-1zM695 397h1v1h-1zM706 672h1v1h-1zM709 1235h1v1h-1zM513 128h1v1h-1zM545 1621h1v1h-1zM549 1771h1v1h-1zM577 1833h1v1h-1zM479 135h1v1h-1zM707 1274h1v1h-1zM714 1170h1v1h-1zM632 48h1v1h-1zM1199 690h1v1h-1zM680 1702h1v1h-1zM1037 362h1v1h-1zM768 503h1v1h-1zM772 882h1v1h-1zM665 1802h1v1h-1zM507 53h1v1h-1zM959 708h1v1h-1zM879 599h1v1h-1zM870 370h1v1h-1zM1108 687h1v1h-1zM508 54h1v1h-1zM1153 695h1v1h-1zM1047 448h1v1h-1zM698 1463h1v1h-1zM792 307h1v1h-1zM763 509h1v1h-1zM1150 689h1v1h-1zM708 1247h1v1h-1zM686 405h1v1h-1zM610 1844h1v1h-1zM1100 688h1v1h-1zM1070 696h1v1h-1zM588 1825h1v1h-1zM602 448h1v1h-1zM662 1545h1v1h-1zM695 410h1v1h-1zM499 435h1v1h-1zM867 602h1v1h-1zM716 1107h1v1h-1zM908 374h1v1h-1zM470 557h1v1h-1zM710 655h1v1h-1zM538 54h1v1h-1zM523 154h1v1h-1zM655 1771h1v1h-1zM470 148h1v1h-1zM778 264h1v1h-1zM508 440h1v1h-1zM654 494h1v1h-1zM707 878h1v1h-1zM544 442h1v1h-1zM790 912h1v1h-1zM455 550h1v1h-1zM712 1109h1v1h-1zM951 228h1v1h-1zM862 379h1v1h-1zM714 630h1v1h-1zM397 545h1v1h-1zM680 1571h1v1h-1zM618 1825h1v1h-1zM486 128h1v1h-1zM961 358h1v1h-1zM776 721h1v1h-1zM705 1335h1v1h-1zM884 1715h1v1h-1zM782 764h1v1h-1zM1031 602h1v1h-1zM561 387h1v1h-1zM728 564h1v1h-1zM639 1655h1v1h-1zM680 1656h1v1h-1zM619 1560h1v1h-1zM630 1835h1v1h-1zM611 1556h1v1h-1zM713 1195h1v1h-1zM512 122h1v1h-1zM518 53h1v1h-1zM890 599h1v1h-1zM710 1306h1v1h-1zM888 1721h1v1h-1zM470 125h1v1h-1zM680 1692h1v1h-1zM741 1522h1v1h-1zM611 1821h1v1h-1zM708 1116h1v1h-1zM569 1824h1v1h-1zM706 1192h1v1h-1zM563 60h1v1h-1zM588 382h1v1h-1zM533 446h1v1h-1zM543 1808h1v1h-1zM698 1453h1v1h-1zM648 1824h1v1h-1zM639 55h1v1h-1zM549 390h1v1h-1zM660 1835h1v1h-1zM556 57h1v1h-1zM628 45h1v1h-1zM586 48h1v1h-1zM1076 995h1v1h-1zM651 65h1v1h-1zM427 549h1v1h-1zM600 1560h1v1h-1zM696 36h1v1h-1zM926 1581h1v1h-1zM695 894h1v1h-1zM1199 693h1v1h-1zM454 539h1v1h-1zM551 63h1v1h-1zM1104 684h1v1h-1zM610 378h1v1h-1zM709 649h1v1h-1zM701 825h1v1h-1zM749 456h1v1h-1zM634 1818h1v1h-1zM705 795h1v1h-1zM556 1755h1v1h-1zM714 355h1v1h-1zM711 609h1v1h-1zM912 599h1v1h-1zM569 1837h1v1h-1zM707 1133h1v1h-1zM502 435h1v1h-1zM393 565h1v1h-1zM583 51h1v1h-1zM998 379h1v1h-1zM722 1378h1v1h-1zM466 140h1v1h-1zM774 256h1v1h-1zM541 54h1v1h-1zM700 456h1v1h-1zM637 1828h1v1h-1zM533 50h1v1h-1zM552 63h1v1h-1zM503 436h1v1h-1zM713 1149h1v1h-1zM507 406h1v1h-1zM694 1544h1v1h-1zM680 1646h1v1h-1zM772 597h1v1h-1zM907 376h1v1h-1zM551 449h1v1h-1zM704 691h1v1h-1zM713 1185h1v1h-1zM629 1680h1v1h-1zM730 600h1v1h-1zM699 1250h1v1h-1zM580 1824h1v1h-1zM598 35h1v1h-1zM536 60h1v1h-1zM801 1563h1v1h-1zM557 1840h1v1h-1zM700 1480h1v1h-1zM476 540h1v1h-1zM979 1569h1v1h-1zM712 1076h1v1h-1zM858 376h1v1h-1zM782 646h1v1h-1zM527 1817h1v1h-1zM917 1594h1v1h-1zM680 1767h1v1h-1zM404 551h1v1h-1zM736 1024h1v1h-1zM712 1570h1v1h-1zM542 1833h1v1h-1zM532 62h1v1h-1zM1047 1560h1v1h-1zM720 1165h1v1h-1zM544 36h1v1h-1zM541 1837h1v1h-1zM667 1684h1v1h-1zM704 1077h1v1h-1zM706 629h1v1h-1zM711 707h1v1h-1zM736 880h1v1h-1zM725 1545h1v1h-1zM772 1477h1v1h-1zM566 60h1v1h-1zM907 124h1v1h-1zM713 1162h1v1h-1zM536 446h1v1h-1zM971 374h1v1h-1zM527 397h1v1h-1zM461 123h1v1h-1zM1073 687h1v1h-1zM699 1492h1v1h-1zM629 1693h1v1h-1zM512 125h1v1h-1zM649 1671h1v1h-1zM674 1844h1v1h-1zM708 674h1v1h-1zM908 619h1v1h-1zM928 1580h1v1h-1zM788 374h1v1h-1zM540 43h1v1h-1zM1126 698h1v1h-1zM714 1248h1v1h-1zM1012 1579h1v1h-1zM721 878h1v1h-1zM715 1472h1v1h-1zM1076 697h1v1h-1zM705 641h1v1h-1zM706 606h1v1h-1zM720 1178h1v1h-1zM802 839h1v1h-1zM1039 1569h1v1h-1zM544 49h1v1h-1zM918 376h1v1h-1zM697 1460h1v1h-1zM728 773h1v1h-1zM587 1817h1v1h-1zM553 1824h1v1h-1zM680 1636h1v1h-1zM702 1395h1v1h-1zM546 1556h1v1h-1zM892 1635h1v1h-1zM707 1244h1v1h-1zM588 1818h1v1h-1zM936 1598h1v1h-1zM1050 1583h1v1h-1zM536 50h1v1h-1zM705 762h1v1h-1zM643 33h1v1h-1zM544 399h1v1h-1zM788 1025h1v1h-1zM665 51h1v1h-1zM484 125h1v1h-1zM929 655h1v1h-1zM680 1757h1v1h-1zM577 1744h1v1h-1zM708 1181h1v1h-1zM707 1365h1v1h-1zM713 1296h1v1h-1zM712 1151h1v1h-1zM605 42h1v1h-1zM758 1038h1v1h-1zM982 374h1v1h-1zM560 385h1v1h-1zM651 503h1v1h-1zM695 838h1v1h-1zM703 958h1v1h-1zM782 1251h1v1h-1zM498 409h1v1h-1zM559 47h1v1h-1zM611 57h1v1h-1zM613 1824h1v1h-1zM502 150h1v1h-1zM571 1827h1v1h-1zM582 1836h1v1h-1zM718 1208h1v1h-1zM647 1822h1v1h-1zM701 1564h1v1h-1zM624 1838h1v1h-1zM505 426h1v1h-1zM948 358h1v1h-1zM888 78h1v1h-1zM641 1778h1v1h-1zM884 602h1v1h-1zM563 138h1v1h-1zM680 1626h1v1h-1zM1069 1587h1v1h-1zM708 1279h1v1h-1zM705 1390h1v1h-1zM629 1660h1v1h-1zM636 536h1v1h-1zM917 635h1v1h-1zM528 445h1v1h-1zM963 602h1v1h-1zM613 1801h1v1h-1zM728 1522h1v1h-1zM552 393h1v1h-1zM697 897h1v1h-1zM706 1391h1v1h-1zM612 35h1v1h-1zM890 1557h1v1h-1zM700 822h1v1h-1zM680 1747h1v1h-1zM707 681h1v1h-1zM659 1544h1v1h-1zM691 35h1v1h-1zM602 372h1v1h-1zM716 357h1v1h-1zM535 53h1v1h-1zM1034 374h1v1h-1zM708 1027h1v1h-1zM818 1573h1v1h-1zM563 151h1v1h-1zM547 1604h1v1h-1zM545 1823h1v1h-1zM516 39h1v1h-1zM823 376h1v1h-1zM903 448h1v1h-1zM540 396h1v1h-1zM705 729h1v1h-1zM709 1257h1v1h-1zM750 880h1v1h-1zM760 1568h1v1h-1zM902 111h1v1h-1zM700 1437h1v1h-1zM699 1472h1v1h-1zM601 1840h1v1h-1zM779 269h1v1h-1zM592 34h1v1h-1zM699 834h1v1h-1zM709 1522h1v1h-1zM673 1828h1v1h-1zM815 371h1v1h-1zM672 1720h1v1h-1zM977 290h1v1h-1zM757 775h1v1h-1zM800 328h1v1h-1zM452 139h1v1h-1zM713 1263h1v1h-1zM719 1157h1v1h-1zM1012 1559h1v1h-1zM711 1302h1v1h-1zM717 1233h1v1h-1zM667 1641h1v1h-1zM711 664h1v1h-1zM792 509h1v1h-1zM680 39h1v1h-1zM541 1830h1v1h-1zM978 370h1v1h-1zM716 599h1v1h-1zM705 1115h1v1h-1zM680 1616h1v1h-1zM719 604h1v1h-1zM532 140h1v1h-1zM878 1680h1v1h-1zM546 44h1v1h-1zM803 374h1v1h-1zM716 1129h1v1h-1zM729 919h1v1h-1zM707 1309h1v1h-1zM713 1240h1v1h-1zM528 1832h1v1h-1zM777 358h1v1h-1zM863 1593h1v1h-1zM717 1210h1v1h-1zM680 1737h1v1h-1zM573 442h1v1h-1zM707 671h1v1h-1zM1008 599h1v1h-1zM1073 994h1v1h-1zM506 123h1v1h-1zM1193 681h1v1h-1zM658 486h1v1h-1zM741 1158h1v1h-1zM1033 1595h1v1h-1zM893 389h1v1h-1zM757 379h1v1h-1zM736 1488h1v1h-1zM459 542h1v1h-1zM731 592h1v1h-1zM652 448h1v1h-1zM1185 682h1v1h-1zM1038 1566h1v1h-1zM621 460h1v1h-1zM977 1556h1v1h-1zM650 1835h1v1h-1zM694 35h1v1h-1zM1071 696h1v1h-1zM567 1837h1v1h-1zM611 37h1v1h-1zM863 1570h1v1h-1zM508 439h1v1h-1z" fill="#6e6e6e"/>
</svg>
</body></html>
